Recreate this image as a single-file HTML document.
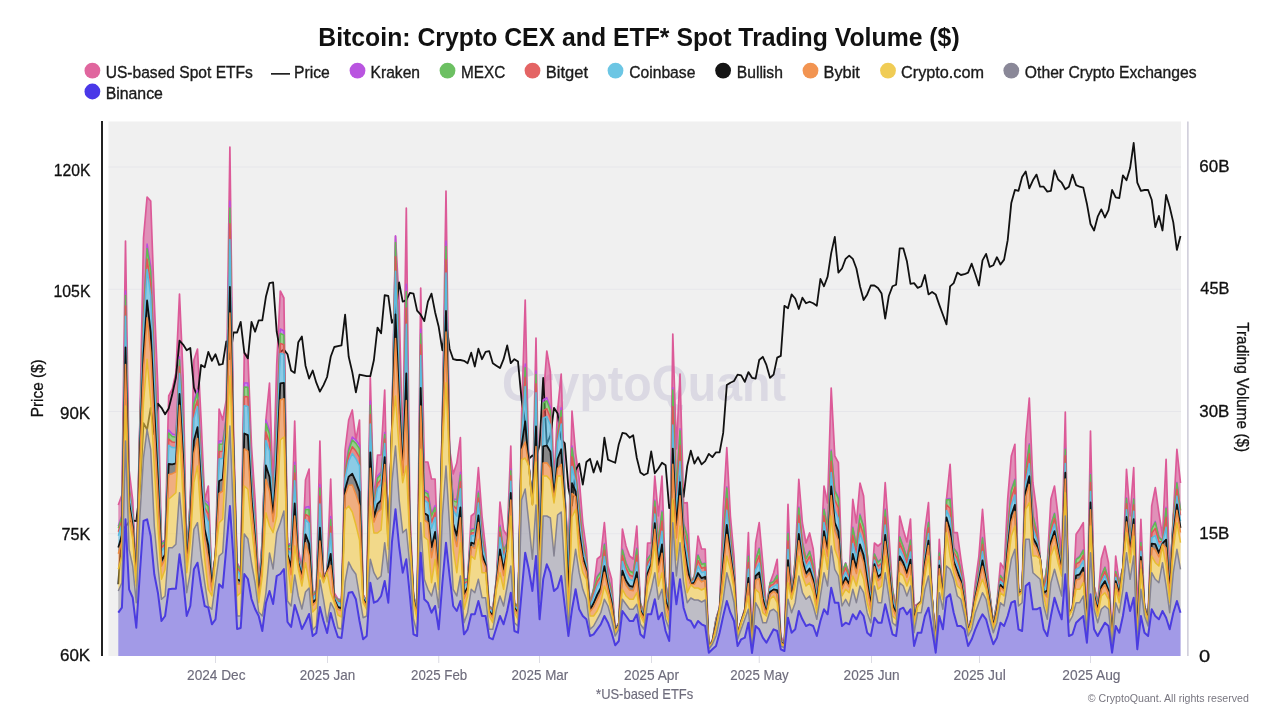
<!DOCTYPE html>
<html><head><meta charset="utf-8"><title>Bitcoin: Crypto CEX and ETF* Spot Trading Volume ($)</title>
<style>
html,body{margin:0;padding:0;background:#fff;width:1280px;height:720px;overflow:hidden}
svg{display:block}
text{font-family:"Liberation Sans",Arial,sans-serif}
</style></head><body>
<svg width="1280" height="720" viewBox="0 0 1280 720">
<rect x="108.5" y="121.5" width="1072.5" height="534.5" fill="#f0f0f0"/>
<rect x="108.5" y="166.5" width="1072.5" height="1" fill="#e6e6ea"/>
<rect x="108.5" y="288.75" width="1072.5" height="1" fill="#e6e6ea"/>
<rect x="108.5" y="411.0" width="1072.5" height="1" fill="#e6e6ea"/>
<rect x="108.5" y="533.25" width="1072.5" height="1" fill="#e6e6ea"/>
<text x="501.89" y="401.0" font-size="50" font-weight="bold" fill="#dbd9e3" textLength="284.12" lengthAdjust="spacingAndGlyphs">CryptoQuant</text>
<path d="M118.3,505.0 L121.9,495.0 L125.5,241.0 L129.1,470.0 L132.7,500.0 L136.3,576.0 L139.9,420.0 L143.5,238.0 L147.1,197.0 L150.7,201.0 L154.3,302.0 L157.9,389.0 L161.5,543.0 L165.1,540.0 L168.7,396.0 L172.3,389.0 L175.9,373.0 L179.5,294.0 L183.1,376.0 L186.7,555.0 L190.3,500.0 L193.9,360.0 L197.5,349.0 L201.1,420.0 L204.7,500.0 L208.3,486.0 L211.9,580.0 L215.5,554.0 L219.1,409.0 L222.7,420.0 L226.3,400.0 L229.9,147.0 L233.5,430.0 L237.1,563.0 L240.7,570.0 L244.3,353.0 L247.9,356.0 L251.5,446.0 L255.1,500.0 L258.7,583.0 L262.3,540.0 L265.9,420.0 L269.5,383.0 L273.1,487.0 L276.7,365.0 L280.3,291.0 L283.9,298.0 L287.5,546.0 L291.1,543.0 L294.7,421.0 L298.3,549.0 L301.9,569.0 L305.5,480.0 L309.1,469.0 L312.7,594.0 L316.3,590.0 L319.9,441.0 L323.5,576.0 L327.1,570.7 L330.7,479.0 L334.3,593.0 L337.9,599.0 L341.5,600.0 L345.1,450.0 L348.7,420.0 L352.3,410.0 L355.9,440.0 L359.5,420.0 L363.1,594.7 L366.7,601.3 L370.3,377.5 L373.9,503.0 L377.5,455.0 L381.1,455.0 L384.7,390.0 L388.3,541.3 L391.9,424.7 L395.5,236.0 L399.1,302.0 L402.7,452.7 L406.3,208.0 L409.9,512.7 L413.5,594.7 L417.1,611.3 L420.7,288.0 L424.3,462.0 L427.9,462.0 L431.5,479.0 L435.1,479.0 L438.7,573.0 L442.4,416.0 L446.0,191.0 L449.6,449.0 L453.2,474.0 L456.8,463.0 L460.4,437.7 L464.0,579.0 L467.6,579.0 L471.2,516.0 L474.8,513.0 L478.4,467.7 L482.0,516.0 L485.6,549.0 L489.2,606.0 L492.8,609.0 L496.4,579.0 L500.0,502.0 L503.6,530.0 L507.2,536.0 L510.8,446.0 L514.4,603.0 L518.0,606.0 L521.6,416.0 L525.2,300.0 L528.8,464.0 L532.4,503.0 L536.0,338.0 L539.6,550.0 L543.2,400.0 L546.8,351.0 L550.4,372.0 L554.0,482.0 L557.6,410.0 L561.2,374.0 L564.8,493.0 L568.4,556.0 L572.0,411.0 L575.6,453.0 L579.2,479.0 L582.8,523.0 L586.4,549.0 L590.0,603.0 L593.6,589.0 L597.2,559.0 L600.8,556.0 L604.4,522.7 L608.0,566.0 L611.6,579.0 L615.2,629.0 L618.8,623.0 L622.4,529.0 L626.0,546.0 L629.6,556.0 L633.2,559.0 L636.8,526.0 L640.4,603.0 L644.0,613.0 L647.6,543.0 L651.2,543.0 L654.8,476.0 L658.4,516.0 L662.0,476.0 L665.6,583.0 L669.2,603.0 L672.8,334.0 L676.4,449.0 L680.0,374.0 L683.6,503.0 L687.2,502.7 L690.8,583.0 L694.4,576.0 L698.0,536.0 L701.6,549.0 L705.2,549.0 L708.8,645.7 L712.4,640.7 L716.0,619.0 L719.6,607.3 L723.2,509.0 L726.8,447.7 L730.4,516.0 L734.0,556.0 L737.6,633.0 L741.2,620.7 L744.8,609.0 L748.4,532.7 L752.0,646.0 L755.6,543.0 L759.2,522.7 L762.8,563.0 L766.4,609.0 L770.0,583.0 L773.6,573.0 L777.2,559.3 L780.8,636.0 L784.4,644.0 L788.0,504.3 L791.6,596.0 L795.2,560.0 L798.8,479.3 L802.4,523.0 L806.0,543.0 L809.6,533.0 L813.2,549.0 L816.8,589.0 L820.4,563.0 L824.0,486.0 L827.6,503.0 L831.2,388.0 L834.8,456.0 L838.4,462.7 L842.0,573.0 L845.6,563.0 L849.2,575.0 L852.8,499.3 L856.4,523.0 L860.0,483.0 L863.6,496.0 L867.2,553.0 L870.8,593.0 L874.4,543.0 L878.0,546.0 L881.6,543.0 L885.2,482.7 L888.8,533.0 L892.5,589.0 L896.1,609.0 L899.7,516.0 L903.3,530.0 L906.9,542.0 L910.5,519.0 L914.1,606.0 L917.7,604.0 L921.3,600.7 L924.9,530.0 L928.5,502.7 L932.1,597.3 L935.7,644.0 L939.3,539.3 L942.9,597.3 L946.5,499.0 L950.1,464.3 L953.7,532.7 L957.3,532.7 L960.9,559.0 L964.5,583.0 L968.1,630.7 L971.7,616.0 L975.3,583.0 L978.9,556.0 L982.5,509.3 L986.1,556.0 L989.7,593.0 L993.3,623.0 L996.9,603.0 L1000.5,563.0 L1004.1,569.0 L1007.7,499.0 L1011.3,456.0 L1014.9,444.3 L1018.5,589.0 L1022.1,590.7 L1025.7,439.0 L1029.3,398.0 L1032.9,482.7 L1036.5,509.3 L1040.1,557.3 L1043.7,589.0 L1047.3,563.0 L1050.9,499.0 L1054.5,486.0 L1058.1,516.0 L1061.7,556.0 L1065.3,412.0 L1068.9,614.0 L1072.5,607.3 L1076.1,534.3 L1079.7,529.0 L1083.3,522.7 L1086.9,627.3 L1090.5,431.0 L1094.1,586.0 L1097.7,603.0 L1101.3,559.0 L1104.9,546.0 L1108.5,563.0 L1112.1,640.7 L1115.7,556.0 L1119.3,583.0 L1122.9,567.3 L1126.5,469.3 L1130.1,516.0 L1133.7,467.7 L1137.3,616.0 L1140.9,519.3 L1144.5,606.0 L1148.1,616.0 L1151.7,506.0 L1155.3,487.7 L1158.9,513.0 L1162.5,536.0 L1166.1,459.3 L1169.7,579.0 L1173.3,516.0 L1176.9,449.3 L1180.5,483.0 L1180.5,509.8 L1176.9,482.3 L1173.3,516.0 L1169.7,579.0 L1166.1,507.3 L1162.5,540.5 L1158.9,536.9 L1155.3,521.4 L1151.7,528.5 L1148.1,616.0 L1144.5,606.0 L1140.9,541.8 L1137.3,628.0 L1133.7,498.4 L1130.1,537.0 L1126.5,497.8 L1122.9,567.3 L1119.3,583.0 L1115.7,571.0 L1112.1,640.7 L1108.5,579.4 L1104.9,567.0 L1101.3,575.6 L1097.7,603.0 L1094.1,586.0 L1090.5,473.8 L1086.9,627.3 L1083.3,549.7 L1079.7,556.1 L1076.1,559.1 L1072.5,607.3 L1068.9,614.0 L1065.3,448.3 L1061.7,565.0 L1058.1,537.0 L1054.5,513.0 L1050.9,524.6 L1047.3,563.0 L1043.7,589.0 L1040.1,557.3 L1036.5,530.0 L1032.9,515.0 L1029.3,443.8 L1025.7,469.6 L1022.1,590.7 L1018.5,589.0 L1014.9,479.1 L1011.3,489.8 L1007.7,527.1 L1004.1,580.3 L1000.5,575.3 L996.9,603.0 L993.3,623.0 L989.7,593.0 L986.1,569.4 L982.5,537.2 L978.9,569.2 L975.3,590.7 L971.7,616.0 L968.1,630.7 L964.5,593.1 L960.9,570.6 L957.3,552.8 L953.7,547.7 L950.1,498.4 L946.5,499.0 L942.9,597.3 L939.3,552.6 L935.7,644.0 L932.1,597.3 L928.5,521.9 L924.9,546.6 L921.3,600.7 L917.7,604.0 L914.1,613.2 L910.5,539.5 L906.9,557.8 L903.3,546.6 L899.7,536.4 L896.1,609.0 L892.5,589.0 L888.8,550.9 L885.2,509.1 L881.6,558.5 L878.0,561.6 L874.4,553.7 L870.8,593.0 L867.2,553.0 L863.6,526.0 L860.0,514.1 L856.4,545.7 L852.8,526.9 L849.2,575.0 L845.6,563.0 L842.0,573.0 L838.4,497.5 L834.8,489.6 L831.2,450.0 L827.6,526.9 L824.0,508.8 L820.4,563.0 L816.8,589.0 L813.2,564.7 L809.6,550.9 L806.0,558.5 L802.4,542.1 L798.8,506.9 L795.2,560.0 L791.6,596.0 L788.0,532.5 L784.4,644.0 L780.8,639.0 L777.2,574.9 L773.6,581.3 L770.0,583.0 L766.4,609.0 L762.8,580.9 L759.2,547.9 L755.6,559.7 L752.0,647.3 L748.4,555.5 L744.8,609.0 L741.2,620.7 L737.6,634.0 L734.0,568.0 L730.4,535.2 L726.8,486.7 L723.2,536.7 L719.6,607.3 L716.0,619.0 L712.4,640.7 L708.8,645.7 L705.2,563.0 L701.6,563.8 L698.0,554.7 L694.4,576.0 L690.8,583.0 L687.2,535.1 L683.6,523.3 L680.0,428.7 L676.4,489.0 L672.8,387.7 L669.2,603.0 L665.6,583.0 L662.0,510.8 L658.4,541.2 L654.8,500.0 L651.2,553.7 L647.6,558.5 L644.0,613.0 L640.4,603.0 L636.8,548.0 L633.2,572.3 L629.6,570.3 L626.0,562.5 L622.4,548.9 L618.8,623.0 L615.2,629.0 L611.6,590.1 L608.0,575.9 L604.4,543.6 L600.8,571.4 L597.2,576.2 L593.6,589.0 L590.0,603.0 L586.4,559.0 L582.8,539.4 L579.2,504.4 L575.6,471.6 L572.0,446.0 L568.4,556.0 L564.8,493.0 L561.2,407.7 L557.6,431.8 L554.0,488.9 L550.4,407.6 L546.8,397.7 L543.2,400.0 L539.6,550.0 L536.0,371.0 L532.4,503.0 L528.8,464.0 L525.2,364.0 L521.6,430.5 L518.0,606.0 L514.4,603.0 L510.8,469.1 L507.2,542.6 L503.6,549.6 L500.0,525.3 L496.4,579.0 L492.8,609.0 L489.2,606.0 L485.6,556.8 L482.0,534.7 L478.4,491.3 L474.8,528.3 L471.2,529.2 L467.6,579.0 L464.0,579.0 L460.4,472.3 L456.8,499.2 L453.2,498.9 L449.6,454.6 L446.0,241.0 L442.4,416.0 L438.7,573.0 L435.1,505.5 L431.5,513.2 L427.9,492.0 L424.3,490.0 L420.7,329.0 L417.1,611.3 L413.5,594.7 L409.9,522.6 L406.3,284.3 L402.7,462.6 L399.1,350.6 L395.5,236.0 L391.9,424.7 L388.3,541.3 L384.7,432.5 L381.1,472.0 L377.5,476.0 L373.9,503.0 L370.3,401.0 L366.7,601.3 L363.1,594.7 L359.5,445.0 L355.9,440.0 L352.3,437.0 L348.7,448.4 L345.1,469.8 L341.5,600.0 L337.9,599.0 L334.3,596.2 L330.7,516.5 L327.1,570.7 L323.5,578.2 L319.9,484.4 L316.3,590.0 L312.7,594.0 L309.1,506.5 L305.5,507.3 L301.9,569.0 L298.3,555.7 L294.7,462.2 L291.1,543.0 L287.5,546.0 L283.9,331.0 L280.3,329.0 L276.7,414.8 L273.1,502.1 L269.5,430.2 L265.9,420.0 L262.3,540.0 L258.7,589.5 L255.1,519.6 L251.5,472.4 L247.9,383.0 L244.3,383.0 L240.7,570.0 L237.1,563.0 L233.5,441.9 L229.9,201.0 L226.3,416.3 L222.7,441.0 L219.1,441.0 L215.5,554.0 L211.9,580.0 L208.3,503.0 L204.7,500.0 L201.1,452.8 L197.5,390.0 L193.9,400.5 L190.3,500.0 L186.7,555.0 L183.1,416.7 L179.5,356.7 L175.9,435.0 L172.3,434.0 L168.7,430.1 L165.1,540.0 L161.5,543.0 L157.9,434.2 L154.3,356.1 L150.7,266.0 L147.1,244.0 L143.5,309.0 L139.9,420.0 L136.3,576.0 L132.7,513.0 L129.1,486.3 L125.5,291.0 L121.9,515.1 L118.3,526.2Z" fill="#d55093" fill-opacity="0.6" stroke="none"/>
<path d="M118.3,505.0 L121.9,495.0 L125.5,241.0 L129.1,470.0 L132.7,500.0 L136.3,576.0 L139.9,420.0 L143.5,238.0 L147.1,197.0 L150.7,201.0 L154.3,302.0 L157.9,389.0 L161.5,543.0 L165.1,540.0 L168.7,396.0 L172.3,389.0 L175.9,373.0 L179.5,294.0 L183.1,376.0 L186.7,555.0 L190.3,500.0 L193.9,360.0 L197.5,349.0 L201.1,420.0 L204.7,500.0 L208.3,486.0 L211.9,580.0 L215.5,554.0 L219.1,409.0 L222.7,420.0 L226.3,400.0 L229.9,147.0 L233.5,430.0 L237.1,563.0 L240.7,570.0 L244.3,353.0 L247.9,356.0 L251.5,446.0 L255.1,500.0 L258.7,583.0 L262.3,540.0 L265.9,420.0 L269.5,383.0 L273.1,487.0 L276.7,365.0 L280.3,291.0 L283.9,298.0 L287.5,546.0 L291.1,543.0 L294.7,421.0 L298.3,549.0 L301.9,569.0 L305.5,480.0 L309.1,469.0 L312.7,594.0 L316.3,590.0 L319.9,441.0 L323.5,576.0 L327.1,570.7 L330.7,479.0 L334.3,593.0 L337.9,599.0 L341.5,600.0 L345.1,450.0 L348.7,420.0 L352.3,410.0 L355.9,440.0 L359.5,420.0 L363.1,594.7 L366.7,601.3 L370.3,377.5 L373.9,503.0 L377.5,455.0 L381.1,455.0 L384.7,390.0 L388.3,541.3 L391.9,424.7 L395.5,236.0 L399.1,302.0 L402.7,452.7 L406.3,208.0 L409.9,512.7 L413.5,594.7 L417.1,611.3 L420.7,288.0 L424.3,462.0 L427.9,462.0 L431.5,479.0 L435.1,479.0 L438.7,573.0 L442.4,416.0 L446.0,191.0 L449.6,449.0 L453.2,474.0 L456.8,463.0 L460.4,437.7 L464.0,579.0 L467.6,579.0 L471.2,516.0 L474.8,513.0 L478.4,467.7 L482.0,516.0 L485.6,549.0 L489.2,606.0 L492.8,609.0 L496.4,579.0 L500.0,502.0 L503.6,530.0 L507.2,536.0 L510.8,446.0 L514.4,603.0 L518.0,606.0 L521.6,416.0 L525.2,300.0 L528.8,464.0 L532.4,503.0 L536.0,338.0 L539.6,550.0 L543.2,400.0 L546.8,351.0 L550.4,372.0 L554.0,482.0 L557.6,410.0 L561.2,374.0 L564.8,493.0 L568.4,556.0 L572.0,411.0 L575.6,453.0 L579.2,479.0 L582.8,523.0 L586.4,549.0 L590.0,603.0 L593.6,589.0 L597.2,559.0 L600.8,556.0 L604.4,522.7 L608.0,566.0 L611.6,579.0 L615.2,629.0 L618.8,623.0 L622.4,529.0 L626.0,546.0 L629.6,556.0 L633.2,559.0 L636.8,526.0 L640.4,603.0 L644.0,613.0 L647.6,543.0 L651.2,543.0 L654.8,476.0 L658.4,516.0 L662.0,476.0 L665.6,583.0 L669.2,603.0 L672.8,334.0 L676.4,449.0 L680.0,374.0 L683.6,503.0 L687.2,502.7 L690.8,583.0 L694.4,576.0 L698.0,536.0 L701.6,549.0 L705.2,549.0 L708.8,645.7 L712.4,640.7 L716.0,619.0 L719.6,607.3 L723.2,509.0 L726.8,447.7 L730.4,516.0 L734.0,556.0 L737.6,633.0 L741.2,620.7 L744.8,609.0 L748.4,532.7 L752.0,646.0 L755.6,543.0 L759.2,522.7 L762.8,563.0 L766.4,609.0 L770.0,583.0 L773.6,573.0 L777.2,559.3 L780.8,636.0 L784.4,644.0 L788.0,504.3 L791.6,596.0 L795.2,560.0 L798.8,479.3 L802.4,523.0 L806.0,543.0 L809.6,533.0 L813.2,549.0 L816.8,589.0 L820.4,563.0 L824.0,486.0 L827.6,503.0 L831.2,388.0 L834.8,456.0 L838.4,462.7 L842.0,573.0 L845.6,563.0 L849.2,575.0 L852.8,499.3 L856.4,523.0 L860.0,483.0 L863.6,496.0 L867.2,553.0 L870.8,593.0 L874.4,543.0 L878.0,546.0 L881.6,543.0 L885.2,482.7 L888.8,533.0 L892.5,589.0 L896.1,609.0 L899.7,516.0 L903.3,530.0 L906.9,542.0 L910.5,519.0 L914.1,606.0 L917.7,604.0 L921.3,600.7 L924.9,530.0 L928.5,502.7 L932.1,597.3 L935.7,644.0 L939.3,539.3 L942.9,597.3 L946.5,499.0 L950.1,464.3 L953.7,532.7 L957.3,532.7 L960.9,559.0 L964.5,583.0 L968.1,630.7 L971.7,616.0 L975.3,583.0 L978.9,556.0 L982.5,509.3 L986.1,556.0 L989.7,593.0 L993.3,623.0 L996.9,603.0 L1000.5,563.0 L1004.1,569.0 L1007.7,499.0 L1011.3,456.0 L1014.9,444.3 L1018.5,589.0 L1022.1,590.7 L1025.7,439.0 L1029.3,398.0 L1032.9,482.7 L1036.5,509.3 L1040.1,557.3 L1043.7,589.0 L1047.3,563.0 L1050.9,499.0 L1054.5,486.0 L1058.1,516.0 L1061.7,556.0 L1065.3,412.0 L1068.9,614.0 L1072.5,607.3 L1076.1,534.3 L1079.7,529.0 L1083.3,522.7 L1086.9,627.3 L1090.5,431.0 L1094.1,586.0 L1097.7,603.0 L1101.3,559.0 L1104.9,546.0 L1108.5,563.0 L1112.1,640.7 L1115.7,556.0 L1119.3,583.0 L1122.9,567.3 L1126.5,469.3 L1130.1,516.0 L1133.7,467.7 L1137.3,616.0 L1140.9,519.3 L1144.5,606.0 L1148.1,616.0 L1151.7,506.0 L1155.3,487.7 L1158.9,513.0 L1162.5,536.0 L1166.1,459.3 L1169.7,579.0 L1173.3,516.0 L1176.9,449.3 L1180.5,483.0" fill="none" stroke="#dc5a98" stroke-width="1.7" stroke-linejoin="round"/>
<path d="M118.3,584.3 L121.9,529.2 L125.5,526.8 L129.1,521.9 L132.7,520.3 L136.3,521.1 L139.9,490.3 L143.5,423.1 L147.1,429.6 L150.7,407.8 L154.3,434.5 L157.9,403.7 L161.5,407.8 L165.1,414.2 L168.7,408.6 L172.3,394.0 L175.9,377.8 L179.5,340.6 L183.1,344.6 L186.7,350.3 L190.3,347.9 L193.9,387.5 L197.5,397.2 L201.1,364.9 L204.7,367.3 L208.3,351.9 L211.9,360.8 L215.5,354.3 L219.1,364.9 L222.7,364.0 L226.3,341.4 L229.9,359.2 L233.5,332.5 L237.1,332.5 L240.7,321.9 L244.3,352.7 L247.9,358.4 L251.5,321.9 L255.1,331.7 L258.7,320.3 L262.3,320.3 L265.9,296.8 L269.5,283.1 L273.1,282.3 L276.7,331.7 L280.3,351.9 L283.9,349.5 L287.5,354.3 L291.1,370.5 L294.7,372.9 L298.3,342.2 L301.9,336.5 L305.5,365.7 L309.1,378.6 L312.7,370.5 L316.3,382.7 L319.9,391.6 L323.5,385.1 L327.1,377.0 L330.7,356.8 L334.3,347.0 L337.9,346.2 L341.5,345.4 L345.1,314.7 L348.7,356.8 L352.3,372.1 L355.9,392.4 L359.5,374.6 L363.1,375.4 L366.7,376.2 L370.3,376.2 L373.9,360.0 L377.5,327.6 L381.1,333.3 L384.7,295.2 L388.3,296.0 L391.9,322.8 L395.5,315.5 L399.1,282.3 L402.7,301.7 L406.3,300.1 L409.9,292.8 L413.5,293.6 L417.1,310.6 L420.7,314.7 L424.3,321.1 L427.9,301.7 L431.5,293.6 L435.1,312.2 L438.7,326.8 L442.4,350.3 L446.0,320.3 L449.6,348.7 L453.2,359.2 L456.8,360.0 L460.4,360.0 L464.0,360.8 L467.6,363.2 L471.2,352.7 L474.8,366.5 L478.4,348.7 L482.0,359.2 L485.6,351.9 L489.2,351.1 L492.8,363.2 L496.4,365.7 L500.0,368.1 L503.6,359.2 L507.2,345.4 L510.8,363.2 L514.4,359.2 L518.0,361.6 L521.6,399.7 L525.2,423.1 L528.8,458.8 L532.4,455.5 L536.0,458.0 L539.6,445.0 L543.2,377.8 L546.8,444.2 L550.4,435.3 L554.0,407.8 L557.6,413.4 L561.2,439.3 L564.8,443.4 L568.4,487.9 L572.0,505.7 L575.6,470.1 L579.2,463.6 L582.8,484.7 L586.4,462.0 L590.0,458.8 L593.6,472.5 L597.2,461.2 L600.8,471.7 L604.4,437.7 L608.0,459.6 L611.6,461.2 L615.2,462.8 L618.8,444.2 L622.4,432.9 L626.0,433.7 L629.6,437.7 L633.2,435.3 L636.8,458.0 L640.4,472.5 L644.0,475.0 L647.6,473.3 L651.2,451.5 L654.8,473.3 L658.4,468.5 L662.0,462.8 L665.6,465.2 L669.2,508.2 L672.8,500.1 L676.4,523.5 L680.0,472.5 L683.6,496.8 L687.2,466.1 L690.8,450.7 L694.4,463.6 L698.0,457.1 L701.6,464.4 L705.2,461.2 L708.8,453.9 L712.4,457.1 L716.0,452.3 L719.6,452.3 L723.2,432.9 L726.8,385.1 L730.4,382.7 L734.0,381.0 L737.6,374.6 L741.2,375.4 L744.8,381.9 L748.4,372.1 L752.0,377.8 L755.6,378.6 L759.2,360.0 L762.8,356.8 L766.4,364.9 L770.0,377.8 L773.6,374.6 L777.2,357.6 L780.8,355.9 L784.4,305.8 L788.0,308.2 L791.6,294.4 L795.2,298.5 L798.8,309.0 L802.4,297.7 L806.0,303.3 L809.6,301.7 L813.2,303.3 L816.8,305.8 L820.4,279.0 L824.0,286.3 L827.6,276.6 L831.2,253.1 L834.8,236.9 L838.4,272.6 L842.0,268.5 L845.6,258.8 L849.2,255.6 L852.8,258.8 L856.4,268.5 L860.0,286.3 L863.6,300.1 L867.2,294.4 L870.8,285.5 L874.4,285.5 L878.0,287.9 L881.6,293.6 L885.2,318.7 L888.8,296.0 L892.5,286.3 L896.1,284.7 L899.7,248.3 L903.3,248.3 L906.9,261.2 L910.5,283.9 L914.1,283.1 L917.7,287.9 L921.3,286.3 L924.9,275.0 L928.5,294.4 L932.1,292.0 L935.7,294.4 L939.3,304.9 L942.9,314.7 L946.5,324.4 L950.1,286.3 L953.7,283.1 L957.3,272.6 L960.9,275.0 L964.5,274.2 L968.1,272.6 L971.7,263.7 L975.3,274.2 L978.9,285.5 L982.5,260.4 L986.1,253.9 L989.7,266.9 L993.3,265.3 L996.9,257.2 L1000.5,264.5 L1004.1,259.6 L1007.7,240.2 L1011.3,202.9 L1014.9,190.0 L1018.5,190.8 L1022.1,177.0 L1025.7,171.4 L1029.3,188.4 L1032.9,180.3 L1036.5,174.6 L1040.1,186.7 L1043.7,186.7 L1047.3,191.6 L1050.9,190.8 L1054.5,170.5 L1058.1,179.5 L1061.7,182.7 L1065.3,189.2 L1068.9,186.7 L1072.5,174.6 L1076.1,185.1 L1079.7,186.7 L1083.3,187.6 L1086.9,203.7 L1090.5,224.0 L1094.1,230.5 L1097.7,216.7 L1101.3,209.4 L1104.9,217.5 L1108.5,210.2 L1112.1,190.0 L1115.7,197.3 L1119.3,198.1 L1122.9,175.4 L1126.5,180.3 L1130.1,168.1 L1133.7,143.0 L1137.3,182.7 L1140.9,190.8 L1144.5,190.0 L1148.1,190.0 L1151.7,199.7 L1155.3,227.2 L1158.9,215.9 L1162.5,230.5 L1166.1,194.8 L1169.7,207.0 L1173.3,222.4 L1176.9,249.9 L1180.5,236.1" fill="none" stroke="#111" stroke-width="1.8" stroke-linejoin="round"/>
<path d="M118.3,526.2 L121.9,515.1 L125.5,291.0 L129.1,486.3 L132.7,513.0 L136.3,576.0 L139.9,420.0 L143.5,309.0 L147.1,244.0 L150.7,266.0 L154.3,356.1 L157.9,434.2 L161.5,543.0 L165.1,540.0 L168.7,430.1 L172.3,434.0 L175.9,435.0 L179.5,356.7 L183.1,416.7 L186.7,555.0 L190.3,500.0 L193.9,400.5 L197.5,390.0 L201.1,452.8 L204.7,500.0 L208.3,503.0 L211.9,580.0 L215.5,554.0 L219.1,441.0 L222.7,441.0 L226.3,416.3 L229.9,201.0 L233.5,441.9 L237.1,563.0 L240.7,570.0 L244.3,383.0 L247.9,383.0 L251.5,472.4 L255.1,519.6 L258.7,589.5 L262.3,540.0 L265.9,420.0 L269.5,430.2 L273.1,502.1 L276.7,414.8 L280.3,329.0 L283.9,331.0 L287.5,546.0 L291.1,543.0 L294.7,462.2 L298.3,555.7 L301.9,569.0 L305.5,507.3 L309.1,506.5 L312.7,594.0 L316.3,590.0 L319.9,484.4 L323.5,578.2 L327.1,570.7 L330.7,516.5 L334.3,596.2 L337.9,599.0 L341.5,600.0 L345.1,469.8 L348.7,448.4 L352.3,437.0 L355.9,440.0 L359.5,445.0 L363.1,594.7 L366.7,601.3 L370.3,401.0 L373.9,503.0 L377.5,476.0 L381.1,472.0 L384.7,432.5 L388.3,541.3 L391.9,424.7 L395.5,236.0 L399.1,350.6 L402.7,462.6 L406.3,284.3 L409.9,522.6 L413.5,594.7 L417.1,611.3 L420.7,329.0 L424.3,490.0 L427.9,492.0 L431.5,513.2 L435.1,505.5 L438.7,573.0 L442.4,416.0 L446.0,241.0 L449.6,454.6 L453.2,498.9 L456.8,499.2 L460.4,472.3 L464.0,579.0 L467.6,579.0 L471.2,529.2 L474.8,528.3 L478.4,491.3 L482.0,534.7 L485.6,556.8 L489.2,606.0 L492.8,609.0 L496.4,579.0 L500.0,525.3 L503.6,549.6 L507.2,542.6 L510.8,469.1 L514.4,603.0 L518.0,606.0 L521.6,430.5 L525.2,364.0 L528.8,464.0 L532.4,503.0 L536.0,371.0 L539.6,550.0 L543.2,400.0 L546.8,397.7 L550.4,407.6 L554.0,488.9 L557.6,431.8 L561.2,407.7 L564.8,493.0 L568.4,556.0 L572.0,446.0 L575.6,471.6 L579.2,504.4 L582.8,539.4 L586.4,559.0 L590.0,603.0 L593.6,589.0 L597.2,576.2 L600.8,571.4 L604.4,543.6 L608.0,575.9 L611.6,590.1 L615.2,629.0 L618.8,623.0 L622.4,548.9 L626.0,562.5 L629.6,570.3 L633.2,572.3 L636.8,548.0 L640.4,603.0 L644.0,613.0 L647.6,558.5 L651.2,553.7 L654.8,500.0 L658.4,541.2 L662.0,510.8 L665.6,583.0 L669.2,603.0 L672.8,387.7 L676.4,489.0 L680.0,428.7 L683.6,523.3 L687.2,535.1 L690.8,583.0 L694.4,576.0 L698.0,554.7 L701.6,563.8 L705.2,563.0 L708.8,645.7 L712.4,640.7 L716.0,619.0 L719.6,607.3 L723.2,536.7 L726.8,486.7 L730.4,535.2 L734.0,568.0 L737.6,634.0 L741.2,620.7 L744.8,609.0 L748.4,555.5 L752.0,647.3 L755.6,559.7 L759.2,547.9 L762.8,580.9 L766.4,609.0 L770.0,583.0 L773.6,581.3 L777.2,574.9 L780.8,639.0 L784.4,644.0 L788.0,532.5 L791.6,596.0 L795.2,560.0 L798.8,506.9 L802.4,542.1 L806.0,558.5 L809.6,550.9 L813.2,564.7 L816.8,589.0 L820.4,563.0 L824.0,508.8 L827.6,526.9 L831.2,450.0 L834.8,489.6 L838.4,497.5 L842.0,573.0 L845.6,563.0 L849.2,575.0 L852.8,526.9 L856.4,545.7 L860.0,514.1 L863.6,526.0 L867.2,553.0 L870.8,593.0 L874.4,553.7 L878.0,561.6 L881.6,558.5 L885.2,509.1 L888.8,550.9 L892.5,589.0 L896.1,609.0 L899.7,536.4 L903.3,546.6 L906.9,557.8 L910.5,539.5 L914.1,613.2 L917.7,604.0 L921.3,600.7 L924.9,546.6 L928.5,521.9 L932.1,597.3 L935.7,644.0 L939.3,552.6 L942.9,597.3 L946.5,499.0 L950.1,498.4 L953.7,547.7 L957.3,552.8 L960.9,570.6 L964.5,593.1 L968.1,630.7 L971.7,616.0 L975.3,590.7 L978.9,569.2 L982.5,537.2 L986.1,569.4 L989.7,593.0 L993.3,623.0 L996.9,603.0 L1000.5,575.3 L1004.1,580.3 L1007.7,527.1 L1011.3,489.8 L1014.9,479.1 L1018.5,589.0 L1022.1,590.7 L1025.7,469.6 L1029.3,443.8 L1032.9,515.0 L1036.5,530.0 L1040.1,557.3 L1043.7,589.0 L1047.3,563.0 L1050.9,524.6 L1054.5,513.0 L1058.1,537.0 L1061.7,565.0 L1065.3,448.3 L1068.9,614.0 L1072.5,607.3 L1076.1,559.1 L1079.7,556.1 L1083.3,549.7 L1086.9,627.3 L1090.5,473.8 L1094.1,586.0 L1097.7,603.0 L1101.3,575.6 L1104.9,567.0 L1108.5,579.4 L1112.1,640.7 L1115.7,571.0 L1119.3,583.0 L1122.9,567.3 L1126.5,497.8 L1130.1,537.0 L1133.7,498.4 L1137.3,628.0 L1140.9,541.8 L1144.5,606.0 L1148.1,616.0 L1151.7,528.5 L1155.3,521.4 L1158.9,536.9 L1162.5,540.5 L1166.1,507.3 L1169.7,579.0 L1173.3,516.0 L1176.9,482.3 L1180.5,509.8 L1180.5,510.5 L1176.9,483.1 L1173.3,516.7 L1169.7,579.5 L1166.1,508.5 L1162.5,540.6 L1158.9,537.4 L1155.3,522.3 L1151.7,529.0 L1148.1,616.1 L1144.5,606.1 L1140.9,542.4 L1137.3,628.3 L1133.7,499.2 L1130.1,537.5 L1126.5,498.5 L1122.9,567.4 L1119.3,583.4 L1115.7,571.4 L1112.1,640.7 L1108.5,579.7 L1104.9,567.5 L1101.3,576.1 L1097.7,603.3 L1094.1,586.3 L1090.5,474.8 L1086.9,627.4 L1083.3,550.3 L1079.7,556.8 L1076.1,559.7 L1072.5,607.4 L1068.9,614.0 L1065.3,449.2 L1061.7,565.2 L1058.1,537.5 L1054.5,513.7 L1050.9,525.3 L1047.3,564.0 L1043.7,589.1 L1040.1,557.4 L1036.5,530.6 L1032.9,515.8 L1029.3,445.0 L1025.7,470.4 L1022.1,590.7 L1018.5,589.1 L1014.9,480.0 L1011.3,490.8 L1007.7,527.9 L1004.1,580.6 L1000.5,575.6 L996.9,603.3 L993.3,623.1 L989.7,593.3 L986.1,569.8 L982.5,538.1 L978.9,569.6 L975.3,591.0 L971.7,616.1 L968.1,630.7 L964.5,593.4 L960.9,570.9 L957.3,553.5 L953.7,548.2 L950.1,499.6 L946.5,499.7 L942.9,597.4 L939.3,553.1 L935.7,644.0 L932.1,597.4 L928.5,522.6 L924.9,547.1 L921.3,600.7 L917.7,604.0 L914.1,613.5 L910.5,540.2 L906.9,558.4 L903.3,547.1 L899.7,537.1 L896.1,609.2 L892.5,589.5 L888.8,551.5 L885.2,510.0 L881.6,559.0 L878.0,562.2 L874.4,554.1 L870.8,593.5 L867.2,554.0 L863.6,527.1 L860.0,515.2 L856.4,546.5 L852.8,527.9 L849.2,575.4 L845.6,563.5 L842.0,573.5 L838.4,498.7 L834.8,490.8 L831.2,451.3 L827.6,527.7 L824.0,509.6 L820.4,563.3 L816.8,589.5 L813.2,565.3 L809.6,551.5 L806.0,559.0 L802.4,542.8 L798.8,507.9 L795.2,560.5 L791.6,596.1 L788.0,533.5 L784.4,644.0 L780.8,639.1 L777.2,575.5 L773.6,581.6 L770.0,583.3 L766.4,609.1 L762.8,581.5 L759.2,548.8 L755.6,560.3 L752.0,647.3 L748.4,556.3 L744.8,609.1 L741.2,620.7 L737.6,634.0 L734.0,568.4 L730.4,535.9 L726.8,488.1 L723.2,537.7 L719.6,607.4 L716.0,619.2 L712.4,640.7 L708.8,645.7 L705.2,563.5 L701.6,564.3 L698.0,555.4 L694.4,576.2 L690.8,583.0 L687.2,536.2 L683.6,524.0 L680.0,430.7 L676.4,490.4 L672.8,390.0 L669.2,603.4 L665.6,583.6 L662.0,512.1 L658.4,542.2 L654.8,501.0 L651.2,554.1 L647.6,559.1 L644.0,613.2 L640.4,603.3 L636.8,549.1 L633.2,573.0 L629.6,571.0 L626.0,563.3 L622.4,549.9 L618.8,623.1 L615.2,629.1 L611.6,590.7 L608.0,576.4 L604.4,544.7 L600.8,572.2 L597.2,577.1 L593.6,589.7 L590.0,603.4 L586.4,559.6 L582.8,540.3 L579.2,505.9 L575.6,472.7 L572.0,448.0 L568.4,558.7 L564.8,493.8 L561.2,410.4 L557.6,433.5 L554.0,489.5 L550.4,410.5 L546.8,400.8 L543.2,403.0 L539.6,551.3 L536.0,374.6 L532.4,503.1 L528.8,464.1 L525.2,367.8 L521.6,431.5 L518.0,606.4 L514.4,603.3 L510.8,470.7 L507.2,543.1 L503.6,550.9 L500.0,527.0 L496.4,579.4 L492.8,609.5 L489.2,606.4 L485.6,557.4 L482.0,536.1 L478.4,493.1 L474.8,529.4 L471.2,530.2 L467.6,579.6 L464.0,580.1 L460.4,475.0 L456.8,502.0 L453.2,500.8 L449.6,455.0 L446.0,246.5 L442.4,417.3 L438.7,573.6 L435.1,507.6 L431.5,516.0 L427.9,493.9 L424.3,491.9 L420.7,333.8 L417.1,611.7 L413.5,595.0 L409.9,523.4 L406.3,291.6 L402.7,463.4 L399.1,354.6 L395.5,242.4 L391.9,425.0 L388.3,541.7 L384.7,434.5 L381.1,474.3 L377.5,478.3 L373.9,504.2 L370.3,405.2 L366.7,601.7 L363.1,595.0 L359.5,448.8 L355.9,443.4 L352.3,440.0 L348.7,450.7 L345.1,471.4 L341.5,600.7 L337.9,599.6 L334.3,596.4 L330.7,519.6 L327.1,570.7 L323.5,578.4 L319.9,488.0 L316.3,590.7 L312.7,594.7 L309.1,509.6 L305.5,509.5 L301.9,569.7 L298.3,556.3 L294.7,465.6 L291.1,545.0 L287.5,546.7 L283.9,335.2 L280.3,333.4 L276.7,418.9 L273.1,503.3 L269.5,434.0 L265.9,423.7 L262.3,541.4 L258.7,590.0 L255.1,521.2 L251.5,474.5 L247.9,387.3 L244.3,387.1 L240.7,570.9 L237.1,564.3 L233.5,442.8 L229.9,208.0 L226.3,417.6 L222.7,444.1 L219.1,444.3 L215.5,554.1 L211.9,580.6 L208.3,506.5 L204.7,502.4 L201.1,455.4 L197.5,393.0 L193.9,403.8 L190.3,501.7 L186.7,555.7 L183.1,420.0 L179.5,359.7 L175.9,437.3 L172.3,436.5 L168.7,432.9 L165.1,541.2 L161.5,544.5 L157.9,437.9 L154.3,360.5 L150.7,271.4 L147.1,248.6 L143.5,312.7 L139.9,422.5 L136.3,576.4 L132.7,514.0 L129.1,487.6 L125.5,295.6 L121.9,516.8 L118.3,528.0Z" fill="#ad49df" fill-opacity="0.6" stroke="none"/>
<path d="M118.3,526.2 L121.9,515.1 L125.5,291.0 L129.1,486.3 L132.7,513.0 L136.3,576.0 L139.9,420.0 L143.5,309.0 L147.1,244.0 L150.7,266.0 L154.3,356.1 L157.9,434.2 L161.5,543.0 L165.1,540.0 L168.7,430.1 L172.3,434.0 L175.9,435.0 L179.5,356.7 L183.1,416.7 L186.7,555.0 L190.3,500.0 L193.9,400.5 L197.5,390.0 L201.1,452.8 L204.7,500.0 L208.3,503.0 L211.9,580.0 L215.5,554.0 L219.1,441.0 L222.7,441.0 L226.3,416.3 L229.9,201.0 L233.5,441.9 L237.1,563.0 L240.7,570.0 L244.3,383.0 L247.9,383.0 L251.5,472.4 L255.1,519.6 L258.7,589.5 L262.3,540.0 L265.9,420.0 L269.5,430.2 L273.1,502.1 L276.7,414.8 L280.3,329.0 L283.9,331.0 L287.5,546.0 L291.1,543.0 L294.7,462.2 L298.3,555.7 L301.9,569.0 L305.5,507.3 L309.1,506.5 L312.7,594.0 L316.3,590.0 L319.9,484.4 L323.5,578.2 L327.1,570.7 L330.7,516.5 L334.3,596.2 L337.9,599.0 L341.5,600.0 L345.1,469.8 L348.7,448.4 L352.3,437.0 L355.9,440.0 L359.5,445.0 L363.1,594.7 L366.7,601.3 L370.3,401.0 L373.9,503.0 L377.5,476.0 L381.1,472.0 L384.7,432.5 L388.3,541.3 L391.9,424.7 L395.5,236.0 L399.1,350.6 L402.7,462.6 L406.3,284.3 L409.9,522.6 L413.5,594.7 L417.1,611.3 L420.7,329.0 L424.3,490.0 L427.9,492.0 L431.5,513.2 L435.1,505.5 L438.7,573.0 L442.4,416.0 L446.0,241.0 L449.6,454.6 L453.2,498.9 L456.8,499.2 L460.4,472.3 L464.0,579.0 L467.6,579.0 L471.2,529.2 L474.8,528.3 L478.4,491.3 L482.0,534.7 L485.6,556.8 L489.2,606.0 L492.8,609.0 L496.4,579.0 L500.0,525.3 L503.6,549.6 L507.2,542.6 L510.8,469.1 L514.4,603.0 L518.0,606.0 L521.6,430.5 L525.2,364.0 L528.8,464.0 L532.4,503.0 L536.0,371.0 L539.6,550.0 L543.2,400.0 L546.8,397.7 L550.4,407.6 L554.0,488.9 L557.6,431.8 L561.2,407.7 L564.8,493.0 L568.4,556.0 L572.0,446.0 L575.6,471.6 L579.2,504.4 L582.8,539.4 L586.4,559.0 L590.0,603.0 L593.6,589.0 L597.2,576.2 L600.8,571.4 L604.4,543.6 L608.0,575.9 L611.6,590.1 L615.2,629.0 L618.8,623.0 L622.4,548.9 L626.0,562.5 L629.6,570.3 L633.2,572.3 L636.8,548.0 L640.4,603.0 L644.0,613.0 L647.6,558.5 L651.2,553.7 L654.8,500.0 L658.4,541.2 L662.0,510.8 L665.6,583.0 L669.2,603.0 L672.8,387.7 L676.4,489.0 L680.0,428.7 L683.6,523.3 L687.2,535.1 L690.8,583.0 L694.4,576.0 L698.0,554.7 L701.6,563.8 L705.2,563.0 L708.8,645.7 L712.4,640.7 L716.0,619.0 L719.6,607.3 L723.2,536.7 L726.8,486.7 L730.4,535.2 L734.0,568.0 L737.6,634.0 L741.2,620.7 L744.8,609.0 L748.4,555.5 L752.0,647.3 L755.6,559.7 L759.2,547.9 L762.8,580.9 L766.4,609.0 L770.0,583.0 L773.6,581.3 L777.2,574.9 L780.8,639.0 L784.4,644.0 L788.0,532.5 L791.6,596.0 L795.2,560.0 L798.8,506.9 L802.4,542.1 L806.0,558.5 L809.6,550.9 L813.2,564.7 L816.8,589.0 L820.4,563.0 L824.0,508.8 L827.6,526.9 L831.2,450.0 L834.8,489.6 L838.4,497.5 L842.0,573.0 L845.6,563.0 L849.2,575.0 L852.8,526.9 L856.4,545.7 L860.0,514.1 L863.6,526.0 L867.2,553.0 L870.8,593.0 L874.4,553.7 L878.0,561.6 L881.6,558.5 L885.2,509.1 L888.8,550.9 L892.5,589.0 L896.1,609.0 L899.7,536.4 L903.3,546.6 L906.9,557.8 L910.5,539.5 L914.1,613.2 L917.7,604.0 L921.3,600.7 L924.9,546.6 L928.5,521.9 L932.1,597.3 L935.7,644.0 L939.3,552.6 L942.9,597.3 L946.5,499.0 L950.1,498.4 L953.7,547.7 L957.3,552.8 L960.9,570.6 L964.5,593.1 L968.1,630.7 L971.7,616.0 L975.3,590.7 L978.9,569.2 L982.5,537.2 L986.1,569.4 L989.7,593.0 L993.3,623.0 L996.9,603.0 L1000.5,575.3 L1004.1,580.3 L1007.7,527.1 L1011.3,489.8 L1014.9,479.1 L1018.5,589.0 L1022.1,590.7 L1025.7,469.6 L1029.3,443.8 L1032.9,515.0 L1036.5,530.0 L1040.1,557.3 L1043.7,589.0 L1047.3,563.0 L1050.9,524.6 L1054.5,513.0 L1058.1,537.0 L1061.7,565.0 L1065.3,448.3 L1068.9,614.0 L1072.5,607.3 L1076.1,559.1 L1079.7,556.1 L1083.3,549.7 L1086.9,627.3 L1090.5,473.8 L1094.1,586.0 L1097.7,603.0 L1101.3,575.6 L1104.9,567.0 L1108.5,579.4 L1112.1,640.7 L1115.7,571.0 L1119.3,583.0 L1122.9,567.3 L1126.5,497.8 L1130.1,537.0 L1133.7,498.4 L1137.3,628.0 L1140.9,541.8 L1144.5,606.0 L1148.1,616.0 L1151.7,528.5 L1155.3,521.4 L1158.9,536.9 L1162.5,540.5 L1166.1,507.3 L1169.7,579.0 L1173.3,516.0 L1176.9,482.3 L1180.5,509.8" fill="none" stroke="#b84ee0" stroke-width="1.5" stroke-linejoin="round"/>
<path d="M118.3,528.0 L121.9,516.8 L125.5,295.6 L129.1,487.6 L132.7,514.0 L136.3,576.4 L139.9,422.5 L143.5,312.7 L147.1,248.6 L150.7,271.4 L154.3,360.5 L157.9,437.9 L161.5,544.5 L165.1,541.2 L168.7,432.9 L172.3,436.5 L175.9,437.3 L179.5,359.7 L183.1,420.0 L186.7,555.7 L190.3,501.7 L193.9,403.8 L197.5,393.0 L201.1,455.4 L204.7,502.4 L208.3,506.5 L211.9,580.6 L215.5,554.1 L219.1,444.3 L222.7,444.1 L226.3,417.6 L229.9,208.0 L233.5,442.8 L237.1,564.3 L240.7,570.9 L244.3,387.1 L247.9,387.3 L251.5,474.5 L255.1,521.2 L258.7,590.0 L262.3,541.4 L265.9,423.7 L269.5,434.0 L273.1,503.3 L276.7,418.9 L280.3,333.4 L283.9,335.2 L287.5,546.7 L291.1,545.0 L294.7,465.6 L298.3,556.3 L301.9,569.7 L305.5,509.5 L309.1,509.6 L312.7,594.7 L316.3,590.7 L319.9,488.0 L323.5,578.4 L327.1,570.7 L330.7,519.6 L334.3,596.4 L337.9,599.6 L341.5,600.7 L345.1,471.4 L348.7,450.7 L352.3,440.0 L355.9,443.4 L359.5,448.8 L363.1,595.0 L366.7,601.7 L370.3,405.2 L373.9,504.2 L377.5,478.3 L381.1,474.3 L384.7,434.5 L388.3,541.7 L391.9,425.0 L395.5,242.4 L399.1,354.6 L402.7,463.4 L406.3,291.6 L409.9,523.4 L413.5,595.0 L417.1,611.7 L420.7,333.8 L424.3,491.9 L427.9,493.9 L431.5,516.0 L435.1,507.6 L438.7,573.6 L442.4,417.3 L446.0,246.5 L449.6,455.0 L453.2,500.8 L456.8,502.0 L460.4,475.0 L464.0,580.1 L467.6,579.6 L471.2,530.2 L474.8,529.4 L478.4,493.1 L482.0,536.1 L485.6,557.4 L489.2,606.4 L492.8,609.5 L496.4,579.4 L500.0,527.0 L503.6,550.9 L507.2,543.1 L510.8,470.7 L514.4,603.3 L518.0,606.4 L521.6,431.5 L525.2,367.8 L528.8,464.1 L532.4,503.1 L536.0,374.6 L539.6,551.3 L543.2,403.0 L546.8,400.8 L550.4,410.5 L554.0,489.5 L557.6,433.5 L561.2,410.4 L564.8,493.8 L568.4,558.7 L572.0,448.0 L575.6,472.7 L579.2,505.9 L582.8,540.3 L586.4,559.6 L590.0,603.4 L593.6,589.7 L597.2,577.1 L600.8,572.2 L604.4,544.7 L608.0,576.4 L611.6,590.7 L615.2,629.1 L618.8,623.1 L622.4,549.9 L626.0,563.3 L629.6,571.0 L633.2,573.0 L636.8,549.1 L640.4,603.3 L644.0,613.2 L647.6,559.1 L651.2,554.1 L654.8,501.0 L658.4,542.2 L662.0,512.1 L665.6,583.6 L669.2,603.4 L672.8,390.0 L676.4,490.4 L680.0,430.7 L683.6,524.0 L687.2,536.2 L690.8,583.0 L694.4,576.2 L698.0,555.4 L701.6,564.3 L705.2,563.5 L708.8,645.7 L712.4,640.7 L716.0,619.2 L719.6,607.4 L723.2,537.7 L726.8,488.1 L730.4,535.9 L734.0,568.4 L737.6,634.0 L741.2,620.7 L744.8,609.1 L748.4,556.3 L752.0,647.3 L755.6,560.3 L759.2,548.8 L762.8,581.5 L766.4,609.1 L770.0,583.3 L773.6,581.6 L777.2,575.5 L780.8,639.1 L784.4,644.0 L788.0,533.5 L791.6,596.1 L795.2,560.5 L798.8,507.9 L802.4,542.8 L806.0,559.0 L809.6,551.5 L813.2,565.3 L816.8,589.5 L820.4,563.3 L824.0,509.6 L827.6,527.7 L831.2,451.3 L834.8,490.8 L838.4,498.7 L842.0,573.5 L845.6,563.5 L849.2,575.4 L852.8,527.9 L856.4,546.5 L860.0,515.2 L863.6,527.1 L867.2,554.0 L870.8,593.5 L874.4,554.1 L878.0,562.2 L881.6,559.0 L885.2,510.0 L888.8,551.5 L892.5,589.5 L896.1,609.2 L899.7,537.1 L903.3,547.1 L906.9,558.4 L910.5,540.2 L914.1,613.5 L917.7,604.0 L921.3,600.7 L924.9,547.1 L928.5,522.6 L932.1,597.4 L935.7,644.0 L939.3,553.1 L942.9,597.4 L946.5,499.7 L950.1,499.6 L953.7,548.2 L957.3,553.5 L960.9,570.9 L964.5,593.4 L968.1,630.7 L971.7,616.1 L975.3,591.0 L978.9,569.6 L982.5,538.1 L986.1,569.8 L989.7,593.3 L993.3,623.1 L996.9,603.3 L1000.5,575.6 L1004.1,580.6 L1007.7,527.9 L1011.3,490.8 L1014.9,480.0 L1018.5,589.1 L1022.1,590.7 L1025.7,470.4 L1029.3,445.0 L1032.9,515.8 L1036.5,530.6 L1040.1,557.4 L1043.7,589.1 L1047.3,564.0 L1050.9,525.3 L1054.5,513.7 L1058.1,537.5 L1061.7,565.2 L1065.3,449.2 L1068.9,614.0 L1072.5,607.4 L1076.1,559.7 L1079.7,556.8 L1083.3,550.3 L1086.9,627.4 L1090.5,474.8 L1094.1,586.3 L1097.7,603.3 L1101.3,576.1 L1104.9,567.5 L1108.5,579.7 L1112.1,640.7 L1115.7,571.4 L1119.3,583.4 L1122.9,567.4 L1126.5,498.5 L1130.1,537.5 L1133.7,499.2 L1137.3,628.3 L1140.9,542.4 L1144.5,606.1 L1148.1,616.1 L1151.7,529.0 L1155.3,522.3 L1158.9,537.4 L1162.5,540.6 L1166.1,508.5 L1169.7,579.5 L1173.3,516.7 L1176.9,483.1 L1180.5,510.5 L1180.5,515.4 L1176.9,489.2 L1173.3,521.7 L1169.7,583.0 L1166.1,517.3 L1162.5,541.4 L1158.9,541.8 L1155.3,528.4 L1151.7,533.2 L1148.1,617.1 L1144.5,606.6 L1140.9,546.5 L1137.3,630.5 L1133.7,504.8 L1130.1,541.4 L1126.5,503.7 L1122.9,567.7 L1119.3,586.3 L1115.7,574.1 L1112.1,641.0 L1108.5,582.7 L1104.9,571.4 L1101.3,579.1 L1097.7,605.2 L1094.1,588.8 L1090.5,482.6 L1086.9,627.7 L1083.3,555.3 L1079.7,561.8 L1076.1,564.2 L1072.5,607.7 L1068.9,614.3 L1065.3,455.8 L1061.7,566.9 L1058.1,541.4 L1054.5,518.6 L1050.9,530.0 L1047.3,571.4 L1043.7,590.2 L1040.1,557.7 L1036.5,534.4 L1032.9,522.0 L1029.3,453.8 L1025.7,476.4 L1022.1,591.0 L1018.5,590.2 L1014.9,487.1 L1011.3,497.7 L1007.7,533.7 L1004.1,582.9 L1000.5,578.2 L996.9,605.2 L993.3,624.1 L989.7,595.8 L986.1,572.8 L982.5,544.4 L978.9,572.6 L975.3,592.8 L971.7,617.1 L968.1,631.0 L964.5,595.9 L960.9,573.7 L957.3,558.5 L953.7,551.9 L950.1,508.2 L946.5,504.7 L942.9,597.7 L939.3,556.6 L935.7,644.3 L932.1,597.7 L928.5,527.7 L924.9,551.6 L921.3,601.0 L917.7,604.3 L914.1,615.4 L910.5,545.7 L906.9,562.6 L903.3,551.6 L899.7,542.6 L896.1,610.8 L892.5,593.6 L888.8,556.3 L885.2,517.1 L881.6,563.2 L878.0,566.3 L874.4,556.9 L870.8,596.9 L867.2,561.4 L863.6,535.1 L860.0,523.5 L856.4,552.5 L852.8,535.3 L849.2,578.0 L845.6,567.5 L842.0,576.9 L838.4,508.0 L834.8,499.8 L831.2,461.2 L827.6,534.1 L824.0,515.7 L820.4,565.8 L816.8,593.0 L813.2,569.5 L809.6,556.3 L806.0,563.2 L802.4,547.8 L798.8,515.3 L795.2,564.4 L791.6,596.6 L788.0,541.0 L784.4,644.3 L780.8,639.9 L777.2,579.6 L773.6,583.8 L770.0,585.8 L766.4,610.2 L762.8,586.3 L759.2,555.5 L755.6,564.7 L752.0,647.6 L748.4,562.4 L744.8,609.6 L741.2,621.0 L737.6,634.3 L734.0,571.6 L730.4,541.0 L726.8,498.5 L723.2,545.1 L719.6,607.7 L716.0,620.8 L712.4,641.0 L708.8,646.0 L705.2,567.3 L701.6,568.2 L698.0,560.4 L694.4,578.0 L690.8,583.3 L687.2,544.9 L683.6,529.4 L680.0,445.2 L676.4,501.0 L672.8,406.4 L669.2,606.3 L665.6,588.0 L662.0,521.1 L658.4,548.6 L654.8,507.1 L651.2,556.8 L647.6,563.0 L644.0,614.6 L640.4,605.1 L636.8,555.3 L633.2,576.7 L629.6,575.0 L626.0,567.9 L622.4,555.4 L618.8,623.5 L615.2,629.6 L611.6,593.7 L608.0,579.1 L604.4,550.3 L600.8,576.3 L597.2,581.6 L593.6,593.2 L590.0,605.0 L586.4,562.2 L582.8,544.5 L579.2,512.3 L575.6,477.4 L572.0,456.8 L568.4,565.3 L564.8,495.8 L561.2,417.2 L557.6,438.0 L554.0,490.9 L550.4,417.8 L546.8,408.7 L543.2,410.6 L539.6,554.6 L536.0,383.7 L532.4,503.3 L528.8,464.3 L525.2,377.2 L521.6,434.8 L518.0,607.9 L514.4,604.4 L510.8,475.8 L507.2,544.5 L503.6,555.2 L500.0,532.0 L496.4,580.4 L492.8,610.9 L489.2,607.4 L485.6,559.0 L482.0,539.9 L478.4,497.9 L474.8,532.5 L471.2,532.9 L467.6,581.3 L464.0,583.1 L460.4,481.8 L456.8,509.0 L453.2,505.6 L449.6,456.1 L446.0,259.7 L442.4,420.4 L438.7,575.1 L435.1,512.5 L431.5,522.2 L427.9,498.2 L424.3,496.1 L420.7,344.6 L417.1,612.4 L413.5,595.7 L409.9,525.2 L406.3,307.9 L402.7,465.2 L399.1,363.5 L395.5,256.8 L391.9,425.7 L388.3,542.4 L384.7,439.0 L381.1,479.5 L377.5,483.4 L373.9,506.9 L370.3,414.6 L366.7,602.4 L363.1,595.7 L359.5,457.4 L355.9,451.1 L352.3,446.8 L348.7,455.9 L345.1,475.0 L341.5,602.2 L337.9,601.1 L334.3,597.0 L330.7,526.4 L327.1,570.9 L323.5,578.8 L319.9,495.9 L316.3,592.3 L312.7,596.3 L309.1,516.4 L305.5,514.5 L301.9,571.2 L298.3,557.5 L294.7,473.1 L291.1,549.5 L287.5,548.2 L283.9,344.8 L280.3,343.4 L276.7,428.0 L273.1,506.0 L269.5,442.6 L265.9,432.0 L262.3,544.7 L258.7,591.2 L255.1,524.7 L251.5,479.4 L247.9,396.8 L244.3,396.4 L240.7,572.9 L237.1,567.3 L233.5,445.0 L229.9,223.8 L226.3,420.6 L222.7,451.2 L219.1,451.6 L215.5,554.3 L211.9,582.1 L208.3,514.2 L204.7,507.7 L201.1,461.4 L197.5,399.9 L193.9,411.2 L190.3,505.5 L186.7,557.3 L183.1,427.4 L179.5,366.6 L175.9,442.5 L172.3,442.1 L168.7,439.1 L165.1,543.8 L161.5,547.7 L157.9,446.1 L154.3,370.4 L150.7,283.6 L147.1,259.0 L143.5,321.2 L139.9,428.1 L136.3,577.3 L132.7,516.4 L129.1,490.6 L125.5,305.9 L121.9,520.4 L118.3,531.8Z" fill="#5abb49" fill-opacity="0.6" stroke="none"/>
<path d="M118.3,528.0 L121.9,516.8 L125.5,295.6 L129.1,487.6 L132.7,514.0 L136.3,576.4 L139.9,422.5 L143.5,312.7 L147.1,248.6 L150.7,271.4 L154.3,360.5 L157.9,437.9 L161.5,544.5 L165.1,541.2 L168.7,432.9 L172.3,436.5 L175.9,437.3 L179.5,359.7 L183.1,420.0 L186.7,555.7 L190.3,501.7 L193.9,403.8 L197.5,393.0 L201.1,455.4 L204.7,502.4 L208.3,506.5 L211.9,580.6 L215.5,554.1 L219.1,444.3 L222.7,444.1 L226.3,417.6 L229.9,208.0 L233.5,442.8 L237.1,564.3 L240.7,570.9 L244.3,387.1 L247.9,387.3 L251.5,474.5 L255.1,521.2 L258.7,590.0 L262.3,541.4 L265.9,423.7 L269.5,434.0 L273.1,503.3 L276.7,418.9 L280.3,333.4 L283.9,335.2 L287.5,546.7 L291.1,545.0 L294.7,465.6 L298.3,556.3 L301.9,569.7 L305.5,509.5 L309.1,509.6 L312.7,594.7 L316.3,590.7 L319.9,488.0 L323.5,578.4 L327.1,570.7 L330.7,519.6 L334.3,596.4 L337.9,599.6 L341.5,600.7 L345.1,471.4 L348.7,450.7 L352.3,440.0 L355.9,443.4 L359.5,448.8 L363.1,595.0 L366.7,601.7 L370.3,405.2 L373.9,504.2 L377.5,478.3 L381.1,474.3 L384.7,434.5 L388.3,541.7 L391.9,425.0 L395.5,242.4 L399.1,354.6 L402.7,463.4 L406.3,291.6 L409.9,523.4 L413.5,595.0 L417.1,611.7 L420.7,333.8 L424.3,491.9 L427.9,493.9 L431.5,516.0 L435.1,507.6 L438.7,573.6 L442.4,417.3 L446.0,246.5 L449.6,455.0 L453.2,500.8 L456.8,502.0 L460.4,475.0 L464.0,580.1 L467.6,579.6 L471.2,530.2 L474.8,529.4 L478.4,493.1 L482.0,536.1 L485.6,557.4 L489.2,606.4 L492.8,609.5 L496.4,579.4 L500.0,527.0 L503.6,550.9 L507.2,543.1 L510.8,470.7 L514.4,603.3 L518.0,606.4 L521.6,431.5 L525.2,367.8 L528.8,464.1 L532.4,503.1 L536.0,374.6 L539.6,551.3 L543.2,403.0 L546.8,400.8 L550.4,410.5 L554.0,489.5 L557.6,433.5 L561.2,410.4 L564.8,493.8 L568.4,558.7 L572.0,448.0 L575.6,472.7 L579.2,505.9 L582.8,540.3 L586.4,559.6 L590.0,603.4 L593.6,589.7 L597.2,577.1 L600.8,572.2 L604.4,544.7 L608.0,576.4 L611.6,590.7 L615.2,629.1 L618.8,623.1 L622.4,549.9 L626.0,563.3 L629.6,571.0 L633.2,573.0 L636.8,549.1 L640.4,603.3 L644.0,613.2 L647.6,559.1 L651.2,554.1 L654.8,501.0 L658.4,542.2 L662.0,512.1 L665.6,583.6 L669.2,603.4 L672.8,390.0 L676.4,490.4 L680.0,430.7 L683.6,524.0 L687.2,536.2 L690.8,583.0 L694.4,576.2 L698.0,555.4 L701.6,564.3 L705.2,563.5 L708.8,645.7 L712.4,640.7 L716.0,619.2 L719.6,607.4 L723.2,537.7 L726.8,488.1 L730.4,535.9 L734.0,568.4 L737.6,634.0 L741.2,620.7 L744.8,609.1 L748.4,556.3 L752.0,647.3 L755.6,560.3 L759.2,548.8 L762.8,581.5 L766.4,609.1 L770.0,583.3 L773.6,581.6 L777.2,575.5 L780.8,639.1 L784.4,644.0 L788.0,533.5 L791.6,596.1 L795.2,560.5 L798.8,507.9 L802.4,542.8 L806.0,559.0 L809.6,551.5 L813.2,565.3 L816.8,589.5 L820.4,563.3 L824.0,509.6 L827.6,527.7 L831.2,451.3 L834.8,490.8 L838.4,498.7 L842.0,573.5 L845.6,563.5 L849.2,575.4 L852.8,527.9 L856.4,546.5 L860.0,515.2 L863.6,527.1 L867.2,554.0 L870.8,593.5 L874.4,554.1 L878.0,562.2 L881.6,559.0 L885.2,510.0 L888.8,551.5 L892.5,589.5 L896.1,609.2 L899.7,537.1 L903.3,547.1 L906.9,558.4 L910.5,540.2 L914.1,613.5 L917.7,604.0 L921.3,600.7 L924.9,547.1 L928.5,522.6 L932.1,597.4 L935.7,644.0 L939.3,553.1 L942.9,597.4 L946.5,499.7 L950.1,499.6 L953.7,548.2 L957.3,553.5 L960.9,570.9 L964.5,593.4 L968.1,630.7 L971.7,616.1 L975.3,591.0 L978.9,569.6 L982.5,538.1 L986.1,569.8 L989.7,593.3 L993.3,623.1 L996.9,603.3 L1000.5,575.6 L1004.1,580.6 L1007.7,527.9 L1011.3,490.8 L1014.9,480.0 L1018.5,589.1 L1022.1,590.7 L1025.7,470.4 L1029.3,445.0 L1032.9,515.8 L1036.5,530.6 L1040.1,557.4 L1043.7,589.1 L1047.3,564.0 L1050.9,525.3 L1054.5,513.7 L1058.1,537.5 L1061.7,565.2 L1065.3,449.2 L1068.9,614.0 L1072.5,607.4 L1076.1,559.7 L1079.7,556.8 L1083.3,550.3 L1086.9,627.4 L1090.5,474.8 L1094.1,586.3 L1097.7,603.3 L1101.3,576.1 L1104.9,567.5 L1108.5,579.7 L1112.1,640.7 L1115.7,571.4 L1119.3,583.4 L1122.9,567.4 L1126.5,498.5 L1130.1,537.5 L1133.7,499.2 L1137.3,628.3 L1140.9,542.4 L1144.5,606.1 L1148.1,616.1 L1151.7,529.0 L1155.3,522.3 L1158.9,537.4 L1162.5,540.6 L1166.1,508.5 L1169.7,579.5 L1173.3,516.7 L1176.9,483.1 L1180.5,510.5" fill="none" stroke="#62bb52" stroke-width="1.5" stroke-linejoin="round"/>
<path d="M118.3,531.8 L121.9,520.4 L125.5,305.9 L129.1,490.6 L132.7,516.4 L136.3,577.3 L139.9,428.1 L143.5,321.2 L147.1,259.0 L150.7,283.6 L154.3,370.4 L157.9,446.1 L161.5,547.7 L165.1,543.8 L168.7,439.1 L172.3,442.1 L175.9,442.5 L179.5,366.6 L183.1,427.4 L186.7,557.3 L190.3,505.5 L193.9,411.2 L197.5,399.9 L201.1,461.4 L204.7,507.7 L208.3,514.2 L211.9,582.1 L215.5,554.3 L219.1,451.6 L222.7,451.2 L226.3,420.6 L229.9,223.8 L233.5,445.0 L237.1,567.3 L240.7,572.9 L244.3,396.4 L247.9,396.8 L251.5,479.4 L255.1,524.7 L258.7,591.2 L262.3,544.7 L265.9,432.0 L269.5,442.6 L273.1,506.0 L276.7,428.0 L280.3,343.4 L283.9,344.8 L287.5,548.2 L291.1,549.5 L294.7,473.1 L298.3,557.5 L301.9,571.2 L305.5,514.5 L309.1,516.4 L312.7,596.3 L316.3,592.3 L319.9,495.9 L323.5,578.8 L327.1,570.9 L330.7,526.4 L334.3,597.0 L337.9,601.1 L341.5,602.2 L345.1,475.0 L348.7,455.9 L352.3,446.8 L355.9,451.1 L359.5,457.4 L363.1,595.7 L366.7,602.4 L370.3,414.6 L373.9,506.9 L377.5,483.4 L381.1,479.5 L384.7,439.0 L388.3,542.4 L391.9,425.7 L395.5,256.8 L399.1,363.5 L402.7,465.2 L406.3,307.9 L409.9,525.2 L413.5,595.7 L417.1,612.4 L420.7,344.6 L424.3,496.1 L427.9,498.2 L431.5,522.2 L435.1,512.5 L438.7,575.1 L442.4,420.4 L446.0,259.7 L449.6,456.1 L453.2,505.6 L456.8,509.0 L460.4,481.8 L464.0,583.1 L467.6,581.3 L471.2,532.9 L474.8,532.5 L478.4,497.9 L482.0,539.9 L485.6,559.0 L489.2,607.4 L492.8,610.9 L496.4,580.4 L500.0,532.0 L503.6,555.2 L507.2,544.5 L510.8,475.8 L514.4,604.4 L518.0,607.9 L521.6,434.8 L525.2,377.2 L528.8,464.3 L532.4,503.3 L536.0,383.7 L539.6,554.6 L543.2,410.6 L546.8,408.7 L550.4,417.8 L554.0,490.9 L557.6,438.0 L561.2,417.2 L564.8,495.8 L568.4,565.3 L572.0,456.8 L575.6,477.4 L579.2,512.3 L582.8,544.5 L586.4,562.2 L590.0,605.0 L593.6,593.2 L597.2,581.6 L600.8,576.3 L604.4,550.3 L608.0,579.1 L611.6,593.7 L615.2,629.6 L618.8,623.5 L622.4,555.4 L626.0,567.9 L629.6,575.0 L633.2,576.7 L636.8,555.3 L640.4,605.1 L644.0,614.6 L647.6,563.0 L651.2,556.8 L654.8,507.1 L658.4,548.6 L662.0,521.1 L665.6,588.0 L669.2,606.3 L672.8,406.4 L676.4,501.0 L680.0,445.2 L683.6,529.4 L687.2,544.9 L690.8,583.3 L694.4,578.0 L698.0,560.4 L701.6,568.2 L705.2,567.3 L708.8,646.0 L712.4,641.0 L716.0,620.8 L719.6,607.7 L723.2,545.1 L726.8,498.5 L730.4,541.0 L734.0,571.6 L737.6,634.3 L741.2,621.0 L744.8,609.6 L748.4,562.4 L752.0,647.6 L755.6,564.7 L759.2,555.5 L762.8,586.3 L766.4,610.2 L770.0,585.8 L773.6,583.8 L777.2,579.6 L780.8,639.9 L784.4,644.3 L788.0,541.0 L791.6,596.6 L795.2,564.4 L798.8,515.3 L802.4,547.8 L806.0,563.2 L809.6,556.3 L813.2,569.5 L816.8,593.0 L820.4,565.8 L824.0,515.7 L827.6,534.1 L831.2,461.2 L834.8,499.8 L838.4,508.0 L842.0,576.9 L845.6,567.5 L849.2,578.0 L852.8,535.3 L856.4,552.5 L860.0,523.5 L863.6,535.1 L867.2,561.4 L870.8,596.9 L874.4,556.9 L878.0,566.3 L881.6,563.2 L885.2,517.1 L888.8,556.3 L892.5,593.6 L896.1,610.8 L899.7,542.6 L903.3,551.6 L906.9,562.6 L910.5,545.7 L914.1,615.4 L917.7,604.3 L921.3,601.0 L924.9,551.6 L928.5,527.7 L932.1,597.7 L935.7,644.3 L939.3,556.6 L942.9,597.7 L946.5,504.7 L950.1,508.2 L953.7,551.9 L957.3,558.5 L960.9,573.7 L964.5,595.9 L968.1,631.0 L971.7,617.1 L975.3,592.8 L978.9,572.6 L982.5,544.4 L986.1,572.8 L989.7,595.8 L993.3,624.1 L996.9,605.2 L1000.5,578.2 L1004.1,582.9 L1007.7,533.7 L1011.3,497.7 L1014.9,487.1 L1018.5,590.2 L1022.1,591.0 L1025.7,476.4 L1029.3,453.8 L1032.9,522.0 L1036.5,534.4 L1040.1,557.7 L1043.7,590.2 L1047.3,571.4 L1050.9,530.0 L1054.5,518.6 L1058.1,541.4 L1061.7,566.9 L1065.3,455.8 L1068.9,614.3 L1072.5,607.7 L1076.1,564.2 L1079.7,561.8 L1083.3,555.3 L1086.9,627.7 L1090.5,482.6 L1094.1,588.8 L1097.7,605.2 L1101.3,579.1 L1104.9,571.4 L1108.5,582.7 L1112.1,641.0 L1115.7,574.1 L1119.3,586.3 L1122.9,567.7 L1126.5,503.7 L1130.1,541.4 L1133.7,504.8 L1137.3,630.5 L1140.9,546.5 L1144.5,606.6 L1148.1,617.1 L1151.7,533.2 L1155.3,528.4 L1158.9,541.8 L1162.5,541.4 L1166.1,517.3 L1169.7,583.0 L1173.3,521.7 L1176.9,489.2 L1180.5,515.4 L1180.5,521.0 L1176.9,496.0 L1173.3,527.3 L1169.7,587.0 L1166.1,527.3 L1162.5,542.4 L1158.9,546.8 L1155.3,535.5 L1151.7,537.9 L1148.1,618.3 L1144.5,607.1 L1140.9,551.2 L1137.3,633.0 L1133.7,511.2 L1130.1,545.7 L1126.5,509.7 L1122.9,568.0 L1119.3,589.7 L1115.7,577.2 L1112.1,641.3 L1108.5,586.1 L1104.9,575.7 L1101.3,582.6 L1097.7,607.4 L1094.1,591.7 L1090.5,491.5 L1086.9,628.0 L1083.3,560.9 L1079.7,567.4 L1076.1,569.4 L1072.5,608.0 L1068.9,614.7 L1065.3,463.4 L1061.7,568.7 L1058.1,545.7 L1054.5,524.2 L1050.9,535.3 L1047.3,579.9 L1043.7,591.4 L1040.1,558.0 L1036.5,538.9 L1032.9,529.0 L1029.3,463.8 L1025.7,483.1 L1022.1,591.3 L1018.5,591.4 L1014.9,495.0 L1011.3,505.5 L1007.7,540.4 L1004.1,585.6 L1000.5,581.2 L996.9,607.4 L993.3,625.2 L989.7,598.6 L986.1,576.2 L982.5,551.6 L978.9,576.0 L975.3,594.8 L971.7,618.3 L968.1,631.3 L964.5,598.6 L960.9,576.9 L957.3,564.1 L953.7,556.2 L950.1,518.0 L946.5,510.4 L942.9,598.0 L939.3,560.6 L935.7,644.7 L932.1,598.0 L928.5,533.5 L924.9,556.6 L921.3,601.3 L917.7,604.7 L914.1,617.6 L910.5,551.9 L906.9,567.4 L903.3,556.6 L899.7,548.7 L896.1,612.5 L892.5,598.2 L888.8,561.7 L885.2,525.0 L881.6,567.8 L878.0,571.0 L874.4,560.1 L870.8,600.8 L867.2,569.9 L863.6,544.1 L860.0,532.9 L856.4,559.4 L852.8,543.6 L849.2,581.0 L845.6,572.0 L842.0,580.8 L838.4,518.5 L834.8,509.9 L831.2,472.4 L827.6,541.3 L824.0,522.6 L820.4,568.6 L816.8,597.0 L813.2,574.2 L809.6,561.7 L806.0,567.8 L802.4,553.6 L798.8,523.6 L795.2,568.8 L791.6,597.1 L788.0,549.6 L784.4,644.7 L780.8,640.8 L777.2,584.3 L773.6,586.3 L770.0,588.6 L766.4,611.4 L762.8,591.7 L759.2,563.1 L755.6,569.8 L752.0,648.0 L748.4,569.3 L744.8,610.2 L741.2,621.3 L737.6,634.7 L734.0,575.3 L730.4,546.8 L726.8,510.3 L723.2,553.5 L719.6,608.0 L716.0,622.5 L712.4,641.3 L708.8,646.3 L705.2,571.5 L701.6,572.7 L698.0,566.0 L694.4,580.1 L690.8,583.7 L687.2,554.7 L683.6,535.5 L680.0,461.6 L676.4,512.9 L672.8,425.0 L669.2,609.6 L665.6,592.8 L662.0,531.2 L658.4,555.9 L654.8,513.9 L651.2,559.8 L647.6,567.4 L644.0,616.1 L640.4,607.2 L636.8,562.2 L633.2,580.8 L629.6,579.4 L626.0,573.0 L622.4,561.5 L618.8,623.9 L615.2,630.1 L611.6,597.0 L608.0,582.0 L604.4,556.4 L600.8,580.8 L597.2,586.6 L593.6,597.0 L590.0,606.8 L586.4,565.0 L582.8,549.1 L579.2,519.4 L575.6,482.5 L572.0,466.4 L568.4,572.0 L564.8,497.8 L561.2,424.1 L557.6,442.4 L554.0,492.3 L550.4,425.0 L546.8,416.5 L543.2,418.2 L539.6,557.8 L536.0,392.8 L532.4,503.5 L528.8,464.5 L525.2,386.6 L521.6,438.3 L518.0,609.5 L514.4,605.5 L510.8,481.2 L507.2,546.0 L503.6,559.7 L500.0,537.3 L496.4,581.6 L492.8,612.4 L489.2,608.5 L485.6,560.7 L482.0,544.0 L478.4,503.0 L474.8,535.8 L471.2,535.6 L467.6,583.0 L464.0,586.1 L460.4,488.8 L456.8,516.2 L453.2,510.5 L449.6,457.2 L446.0,273.1 L442.4,423.5 L438.7,576.6 L435.1,517.4 L431.5,528.5 L427.9,502.6 L424.3,500.3 L420.7,355.5 L417.1,613.1 L413.5,596.4 L409.9,527.0 L406.3,324.3 L402.7,467.0 L399.1,372.3 L395.5,271.2 L391.9,426.4 L388.3,543.1 L384.7,443.5 L381.1,484.8 L377.5,488.5 L373.9,509.6 L370.3,424.1 L366.7,603.1 L363.1,596.4 L359.5,465.9 L355.9,458.7 L352.3,453.5 L348.7,461.1 L345.1,478.6 L341.5,603.7 L337.9,602.5 L334.3,597.6 L330.7,533.3 L327.1,571.1 L323.5,579.2 L319.9,503.9 L316.3,594.0 L312.7,598.0 L309.1,523.3 L305.5,519.5 L301.9,572.7 L298.3,558.7 L294.7,480.7 L291.1,553.9 L287.5,549.7 L283.9,354.3 L280.3,353.4 L276.7,437.1 L273.1,508.8 L269.5,451.3 L265.9,440.4 L262.3,547.9 L258.7,592.4 L255.1,528.3 L251.5,484.2 L247.9,406.4 L244.3,405.7 L240.7,575.0 L237.1,570.3 L233.5,447.2 L229.9,239.5 L226.3,423.6 L222.7,458.2 L219.1,459.0 L215.5,554.4 L211.9,583.5 L208.3,522.0 L204.7,513.1 L201.1,467.4 L197.5,406.7 L193.9,418.6 L190.3,509.4 L186.7,558.9 L183.1,434.9 L179.5,373.4 L175.9,447.7 L172.3,447.6 L168.7,445.3 L165.1,546.5 L161.5,551.0 L157.9,454.4 L154.3,380.3 L150.7,295.7 L147.1,269.4 L143.5,329.6 L139.9,433.8 L136.3,578.2 L132.7,518.8 L129.1,493.6 L125.5,316.3 L121.9,524.1 L118.3,535.7Z" fill="#df4949" fill-opacity="0.6" stroke="none"/>
<path d="M118.3,531.8 L121.9,520.4 L125.5,305.9 L129.1,490.6 L132.7,516.4 L136.3,577.3 L139.9,428.1 L143.5,321.2 L147.1,259.0 L150.7,283.6 L154.3,370.4 L157.9,446.1 L161.5,547.7 L165.1,543.8 L168.7,439.1 L172.3,442.1 L175.9,442.5 L179.5,366.6 L183.1,427.4 L186.7,557.3 L190.3,505.5 L193.9,411.2 L197.5,399.9 L201.1,461.4 L204.7,507.7 L208.3,514.2 L211.9,582.1 L215.5,554.3 L219.1,451.6 L222.7,451.2 L226.3,420.6 L229.9,223.8 L233.5,445.0 L237.1,567.3 L240.7,572.9 L244.3,396.4 L247.9,396.8 L251.5,479.4 L255.1,524.7 L258.7,591.2 L262.3,544.7 L265.9,432.0 L269.5,442.6 L273.1,506.0 L276.7,428.0 L280.3,343.4 L283.9,344.8 L287.5,548.2 L291.1,549.5 L294.7,473.1 L298.3,557.5 L301.9,571.2 L305.5,514.5 L309.1,516.4 L312.7,596.3 L316.3,592.3 L319.9,495.9 L323.5,578.8 L327.1,570.9 L330.7,526.4 L334.3,597.0 L337.9,601.1 L341.5,602.2 L345.1,475.0 L348.7,455.9 L352.3,446.8 L355.9,451.1 L359.5,457.4 L363.1,595.7 L366.7,602.4 L370.3,414.6 L373.9,506.9 L377.5,483.4 L381.1,479.5 L384.7,439.0 L388.3,542.4 L391.9,425.7 L395.5,256.8 L399.1,363.5 L402.7,465.2 L406.3,307.9 L409.9,525.2 L413.5,595.7 L417.1,612.4 L420.7,344.6 L424.3,496.1 L427.9,498.2 L431.5,522.2 L435.1,512.5 L438.7,575.1 L442.4,420.4 L446.0,259.7 L449.6,456.1 L453.2,505.6 L456.8,509.0 L460.4,481.8 L464.0,583.1 L467.6,581.3 L471.2,532.9 L474.8,532.5 L478.4,497.9 L482.0,539.9 L485.6,559.0 L489.2,607.4 L492.8,610.9 L496.4,580.4 L500.0,532.0 L503.6,555.2 L507.2,544.5 L510.8,475.8 L514.4,604.4 L518.0,607.9 L521.6,434.8 L525.2,377.2 L528.8,464.3 L532.4,503.3 L536.0,383.7 L539.6,554.6 L543.2,410.6 L546.8,408.7 L550.4,417.8 L554.0,490.9 L557.6,438.0 L561.2,417.2 L564.8,495.8 L568.4,565.3 L572.0,456.8 L575.6,477.4 L579.2,512.3 L582.8,544.5 L586.4,562.2 L590.0,605.0 L593.6,593.2 L597.2,581.6 L600.8,576.3 L604.4,550.3 L608.0,579.1 L611.6,593.7 L615.2,629.6 L618.8,623.5 L622.4,555.4 L626.0,567.9 L629.6,575.0 L633.2,576.7 L636.8,555.3 L640.4,605.1 L644.0,614.6 L647.6,563.0 L651.2,556.8 L654.8,507.1 L658.4,548.6 L662.0,521.1 L665.6,588.0 L669.2,606.3 L672.8,406.4 L676.4,501.0 L680.0,445.2 L683.6,529.4 L687.2,544.9 L690.8,583.3 L694.4,578.0 L698.0,560.4 L701.6,568.2 L705.2,567.3 L708.8,646.0 L712.4,641.0 L716.0,620.8 L719.6,607.7 L723.2,545.1 L726.8,498.5 L730.4,541.0 L734.0,571.6 L737.6,634.3 L741.2,621.0 L744.8,609.6 L748.4,562.4 L752.0,647.6 L755.6,564.7 L759.2,555.5 L762.8,586.3 L766.4,610.2 L770.0,585.8 L773.6,583.8 L777.2,579.6 L780.8,639.9 L784.4,644.3 L788.0,541.0 L791.6,596.6 L795.2,564.4 L798.8,515.3 L802.4,547.8 L806.0,563.2 L809.6,556.3 L813.2,569.5 L816.8,593.0 L820.4,565.8 L824.0,515.7 L827.6,534.1 L831.2,461.2 L834.8,499.8 L838.4,508.0 L842.0,576.9 L845.6,567.5 L849.2,578.0 L852.8,535.3 L856.4,552.5 L860.0,523.5 L863.6,535.1 L867.2,561.4 L870.8,596.9 L874.4,556.9 L878.0,566.3 L881.6,563.2 L885.2,517.1 L888.8,556.3 L892.5,593.6 L896.1,610.8 L899.7,542.6 L903.3,551.6 L906.9,562.6 L910.5,545.7 L914.1,615.4 L917.7,604.3 L921.3,601.0 L924.9,551.6 L928.5,527.7 L932.1,597.7 L935.7,644.3 L939.3,556.6 L942.9,597.7 L946.5,504.7 L950.1,508.2 L953.7,551.9 L957.3,558.5 L960.9,573.7 L964.5,595.9 L968.1,631.0 L971.7,617.1 L975.3,592.8 L978.9,572.6 L982.5,544.4 L986.1,572.8 L989.7,595.8 L993.3,624.1 L996.9,605.2 L1000.5,578.2 L1004.1,582.9 L1007.7,533.7 L1011.3,497.7 L1014.9,487.1 L1018.5,590.2 L1022.1,591.0 L1025.7,476.4 L1029.3,453.8 L1032.9,522.0 L1036.5,534.4 L1040.1,557.7 L1043.7,590.2 L1047.3,571.4 L1050.9,530.0 L1054.5,518.6 L1058.1,541.4 L1061.7,566.9 L1065.3,455.8 L1068.9,614.3 L1072.5,607.7 L1076.1,564.2 L1079.7,561.8 L1083.3,555.3 L1086.9,627.7 L1090.5,482.6 L1094.1,588.8 L1097.7,605.2 L1101.3,579.1 L1104.9,571.4 L1108.5,582.7 L1112.1,641.0 L1115.7,574.1 L1119.3,586.3 L1122.9,567.7 L1126.5,503.7 L1130.1,541.4 L1133.7,504.8 L1137.3,630.5 L1140.9,546.5 L1144.5,606.6 L1148.1,617.1 L1151.7,533.2 L1155.3,528.4 L1158.9,541.8 L1162.5,541.4 L1166.1,517.3 L1169.7,583.0 L1173.3,521.7 L1176.9,489.2 L1180.5,515.4" fill="none" stroke="#e05656" stroke-width="1.5" stroke-linejoin="round"/>
<path d="M118.3,535.7 L121.9,524.1 L125.5,316.3 L129.1,493.6 L132.7,518.8 L136.3,578.2 L139.9,433.8 L143.5,329.6 L147.1,269.4 L150.7,295.7 L154.3,380.3 L157.9,454.4 L161.5,551.0 L165.1,546.5 L168.7,445.3 L172.3,447.6 L175.9,447.7 L179.5,373.4 L183.1,434.9 L186.7,558.9 L190.3,509.4 L193.9,418.6 L197.5,406.7 L201.1,467.4 L204.7,513.1 L208.3,522.0 L211.9,583.5 L215.5,554.4 L219.1,459.0 L222.7,458.2 L226.3,423.6 L229.9,239.5 L233.5,447.2 L237.1,570.3 L240.7,575.0 L244.3,405.7 L247.9,406.4 L251.5,484.2 L255.1,528.3 L258.7,592.4 L262.3,547.9 L265.9,440.4 L269.5,451.3 L273.1,508.8 L276.7,437.1 L280.3,353.4 L283.9,354.3 L287.5,549.7 L291.1,553.9 L294.7,480.7 L298.3,558.7 L301.9,572.7 L305.5,519.5 L309.1,523.3 L312.7,598.0 L316.3,594.0 L319.9,503.9 L323.5,579.2 L327.1,571.1 L330.7,533.3 L334.3,597.6 L337.9,602.5 L341.5,603.7 L345.1,478.6 L348.7,461.1 L352.3,453.5 L355.9,458.7 L359.5,465.9 L363.1,596.4 L366.7,603.1 L370.3,424.1 L373.9,509.6 L377.5,488.5 L381.1,484.8 L384.7,443.5 L388.3,543.1 L391.9,426.4 L395.5,271.2 L399.1,372.3 L402.7,467.0 L406.3,324.3 L409.9,527.0 L413.5,596.4 L417.1,613.1 L420.7,355.5 L424.3,500.3 L427.9,502.6 L431.5,528.5 L435.1,517.4 L438.7,576.6 L442.4,423.5 L446.0,273.1 L449.6,457.2 L453.2,510.5 L456.8,516.2 L460.4,488.8 L464.0,586.1 L467.6,583.0 L471.2,535.6 L474.8,535.8 L478.4,503.0 L482.0,544.0 L485.6,560.7 L489.2,608.5 L492.8,612.4 L496.4,581.6 L500.0,537.3 L503.6,559.7 L507.2,546.0 L510.8,481.2 L514.4,605.5 L518.0,609.5 L521.6,438.3 L525.2,386.6 L528.8,464.5 L532.4,503.5 L536.0,392.8 L539.6,557.8 L543.2,418.2 L546.8,416.5 L550.4,425.0 L554.0,492.3 L557.6,442.4 L561.2,424.1 L564.8,497.8 L568.4,572.0 L572.0,466.4 L575.6,482.5 L579.2,519.4 L582.8,549.1 L586.4,565.0 L590.0,606.8 L593.6,597.0 L597.2,586.6 L600.8,580.8 L604.4,556.4 L608.0,582.0 L611.6,597.0 L615.2,630.1 L618.8,623.9 L622.4,561.5 L626.0,573.0 L629.6,579.4 L633.2,580.8 L636.8,562.2 L640.4,607.2 L644.0,616.1 L647.6,567.4 L651.2,559.8 L654.8,513.9 L658.4,555.9 L662.0,531.2 L665.6,592.8 L669.2,609.6 L672.8,425.0 L676.4,512.9 L680.0,461.6 L683.6,535.5 L687.2,554.7 L690.8,583.7 L694.4,580.1 L698.0,566.0 L701.6,572.7 L705.2,571.5 L708.8,646.3 L712.4,641.3 L716.0,622.5 L719.6,608.0 L723.2,553.5 L726.8,510.3 L730.4,546.8 L734.0,575.3 L737.6,634.7 L741.2,621.3 L744.8,610.2 L748.4,569.3 L752.0,648.0 L755.6,569.8 L759.2,563.1 L762.8,591.7 L766.4,611.4 L770.0,588.6 L773.6,586.3 L777.2,584.3 L780.8,640.8 L784.4,644.7 L788.0,549.6 L791.6,597.1 L795.2,568.8 L798.8,523.6 L802.4,553.6 L806.0,567.8 L809.6,561.7 L813.2,574.2 L816.8,597.0 L820.4,568.6 L824.0,522.6 L827.6,541.3 L831.2,472.4 L834.8,509.9 L838.4,518.5 L842.0,580.8 L845.6,572.0 L849.2,581.0 L852.8,543.6 L856.4,559.4 L860.0,532.9 L863.6,544.1 L867.2,569.9 L870.8,600.8 L874.4,560.1 L878.0,571.0 L881.6,567.8 L885.2,525.0 L888.8,561.7 L892.5,598.2 L896.1,612.5 L899.7,548.7 L903.3,556.6 L906.9,567.4 L910.5,551.9 L914.1,617.6 L917.7,604.7 L921.3,601.3 L924.9,556.6 L928.5,533.5 L932.1,598.0 L935.7,644.7 L939.3,560.6 L942.9,598.0 L946.5,510.4 L950.1,518.0 L953.7,556.2 L957.3,564.1 L960.9,576.9 L964.5,598.6 L968.1,631.3 L971.7,618.3 L975.3,594.8 L978.9,576.0 L982.5,551.6 L986.1,576.2 L989.7,598.6 L993.3,625.2 L996.9,607.4 L1000.5,581.2 L1004.1,585.6 L1007.7,540.4 L1011.3,505.5 L1014.9,495.0 L1018.5,591.4 L1022.1,591.3 L1025.7,483.1 L1029.3,463.8 L1032.9,529.0 L1036.5,538.9 L1040.1,558.0 L1043.7,591.4 L1047.3,579.9 L1050.9,535.3 L1054.5,524.2 L1058.1,545.7 L1061.7,568.7 L1065.3,463.4 L1068.9,614.7 L1072.5,608.0 L1076.1,569.4 L1079.7,567.4 L1083.3,560.9 L1086.9,628.0 L1090.5,491.5 L1094.1,591.7 L1097.7,607.4 L1101.3,582.6 L1104.9,575.7 L1108.5,586.1 L1112.1,641.3 L1115.7,577.2 L1119.3,589.7 L1122.9,568.0 L1126.5,509.7 L1130.1,545.7 L1133.7,511.2 L1137.3,633.0 L1140.9,551.2 L1144.5,607.1 L1148.1,618.3 L1151.7,537.9 L1155.3,535.5 L1158.9,546.8 L1162.5,542.4 L1166.1,527.3 L1169.7,587.0 L1173.3,527.3 L1176.9,496.0 L1180.5,521.0 L1180.5,527.9 L1176.9,504.5 L1173.3,534.3 L1169.7,592.0 L1166.1,539.6 L1162.5,543.5 L1158.9,552.9 L1155.3,544.1 L1151.7,543.6 L1148.1,619.7 L1144.5,607.8 L1140.9,557.0 L1137.3,636.1 L1133.7,519.1 L1130.1,551.1 L1126.5,517.0 L1122.9,568.4 L1119.3,593.8 L1115.7,581.1 L1112.1,641.8 L1108.5,590.3 L1104.9,581.1 L1101.3,586.8 L1097.7,610.1 L1094.1,595.2 L1090.5,502.5 L1086.9,628.4 L1083.3,567.8 L1079.7,574.4 L1076.1,575.7 L1072.5,608.4 L1068.9,615.1 L1065.3,472.7 L1061.7,571.0 L1058.1,551.1 L1054.5,531.1 L1050.9,541.9 L1047.3,590.3 L1043.7,592.9 L1040.1,558.4 L1036.5,544.3 L1032.9,537.6 L1029.3,476.2 L1025.7,491.5 L1022.1,591.8 L1018.5,592.9 L1014.9,504.9 L1011.3,515.2 L1007.7,548.5 L1004.1,588.9 L1000.5,584.8 L996.9,610.1 L993.3,626.5 L989.7,602.0 L986.1,580.4 L982.5,560.4 L978.9,580.3 L975.3,597.3 L971.7,619.7 L968.1,631.8 L964.5,602.0 L960.9,580.9 L957.3,571.1 L953.7,561.4 L950.1,530.1 L946.5,517.5 L942.9,598.4 L939.3,565.5 L935.7,645.1 L932.1,598.4 L928.5,540.6 L924.9,562.8 L921.3,601.8 L917.7,605.1 L914.1,620.2 L910.5,559.6 L906.9,573.3 L903.3,562.8 L899.7,556.3 L896.1,614.7 L892.5,603.9 L888.8,568.4 L885.2,534.9 L881.6,573.6 L878.0,576.9 L874.4,564.1 L870.8,605.6 L867.2,580.3 L863.6,555.3 L860.0,544.5 L856.4,567.9 L852.8,553.9 L849.2,584.7 L845.6,577.5 L842.0,585.6 L838.4,531.5 L834.8,522.5 L831.2,486.3 L827.6,550.2 L824.0,531.1 L820.4,572.0 L816.8,602.0 L813.2,580.1 L809.6,568.4 L806.0,573.6 L802.4,560.7 L798.8,533.9 L795.2,574.3 L791.6,597.8 L788.0,560.1 L784.4,645.1 L780.8,641.9 L777.2,590.2 L773.6,589.4 L770.0,592.0 L766.4,612.9 L762.8,598.4 L759.2,572.5 L755.6,576.0 L752.0,648.5 L748.4,577.8 L744.8,611.0 L741.2,621.8 L737.6,635.1 L734.0,579.7 L730.4,554.0 L726.8,524.8 L723.2,563.8 L719.6,608.4 L716.0,624.7 L712.4,641.8 L708.8,646.8 L705.2,576.8 L701.6,578.2 L698.0,573.0 L694.4,582.6 L690.8,584.1 L687.2,566.8 L683.6,543.1 L680.0,482.1 L676.4,527.9 L672.8,448.6 L669.2,613.7 L665.6,599.2 L662.0,544.5 L658.4,565.6 L654.8,523.2 L651.2,564.0 L647.6,573.4 L644.0,618.2 L640.4,610.0 L636.8,572.1 L633.2,586.8 L629.6,585.9 L626.0,580.5 L622.4,570.6 L618.8,624.6 L615.2,631.0 L611.6,602.1 L608.0,586.6 L604.4,566.1 L600.8,588.0 L597.2,594.6 L593.6,603.3 L590.0,609.9 L586.4,569.7 L582.8,556.9 L579.2,531.5 L575.6,491.4 L572.0,483.2 L568.4,596.7 L564.8,505.2 L561.2,449.3 L557.6,458.8 L554.0,497.5 L550.4,451.8 L546.8,445.5 L543.2,446.4 L539.6,569.9 L536.0,426.5 L532.4,504.2 L528.8,465.2 L525.2,421.3 L521.6,445.6 L518.0,612.8 L514.4,607.9 L510.8,493.0 L507.2,549.4 L503.6,569.7 L500.0,549.3 L496.4,584.2 L492.8,615.9 L489.2,611.0 L485.6,564.8 L482.0,553.8 L478.4,515.4 L474.8,543.8 L471.2,542.6 L467.6,587.5 L464.0,594.1 L460.4,507.3 L456.8,535.6 L453.2,523.9 L449.6,460.2 L446.0,310.9 L442.4,432.4 L438.7,581.0 L435.1,531.9 L431.5,547.2 L427.9,515.5 L424.3,513.0 L420.7,388.0 L417.1,615.3 L413.5,598.6 L409.9,532.4 L406.3,373.3 L402.7,472.4 L399.1,399.0 L395.5,314.4 L391.9,428.6 L388.3,545.3 L384.7,457.1 L381.1,500.4 L377.5,503.9 L373.9,517.7 L370.3,452.4 L366.7,605.3 L363.1,598.6 L359.5,491.6 L355.9,481.6 L352.3,473.8 L348.7,476.6 L345.1,489.5 L341.5,608.3 L337.9,606.8 L334.3,599.4 L330.7,553.8 L327.1,571.6 L323.5,580.4 L319.9,527.7 L316.3,598.8 L312.7,602.8 L309.1,543.8 L305.5,534.4 L301.9,577.3 L298.3,562.4 L294.7,503.3 L291.1,567.3 L287.5,554.3 L283.9,382.9 L280.3,383.4 L276.7,464.4 L273.1,517.1 L269.5,477.1 L265.9,465.4 L262.3,557.6 L258.7,595.9 L255.1,539.1 L251.5,498.7 L247.9,435.1 L244.3,433.5 L240.7,581.1 L237.1,579.2 L233.5,453.7 L229.9,286.8 L226.3,432.5 L222.7,479.4 L219.1,481.0 L215.5,555.0 L211.9,587.8 L208.3,545.3 L204.7,529.1 L201.1,485.4 L197.5,427.2 L193.9,440.8 L190.3,520.9 L186.7,563.7 L183.1,457.2 L179.5,393.9 L175.9,463.3 L172.3,464.4 L168.7,464.0 L165.1,554.4 L161.5,560.8 L157.9,479.2 L154.3,410.0 L150.7,332.1 L147.1,300.5 L143.5,354.9 L139.9,450.7 L136.3,580.9 L132.7,525.9 L129.1,502.5 L125.5,347.4 L121.9,535.2 L118.3,547.4Z" fill="#49b2df" fill-opacity="0.6" stroke="none"/>
<path d="M118.3,535.7 L121.9,524.1 L125.5,316.3 L129.1,493.6 L132.7,518.8 L136.3,578.2 L139.9,433.8 L143.5,329.6 L147.1,269.4 L150.7,295.7 L154.3,380.3 L157.9,454.4 L161.5,551.0 L165.1,546.5 L168.7,445.3 L172.3,447.6 L175.9,447.7 L179.5,373.4 L183.1,434.9 L186.7,558.9 L190.3,509.4 L193.9,418.6 L197.5,406.7 L201.1,467.4 L204.7,513.1 L208.3,522.0 L211.9,583.5 L215.5,554.4 L219.1,459.0 L222.7,458.2 L226.3,423.6 L229.9,239.5 L233.5,447.2 L237.1,570.3 L240.7,575.0 L244.3,405.7 L247.9,406.4 L251.5,484.2 L255.1,528.3 L258.7,592.4 L262.3,547.9 L265.9,440.4 L269.5,451.3 L273.1,508.8 L276.7,437.1 L280.3,353.4 L283.9,354.3 L287.5,549.7 L291.1,553.9 L294.7,480.7 L298.3,558.7 L301.9,572.7 L305.5,519.5 L309.1,523.3 L312.7,598.0 L316.3,594.0 L319.9,503.9 L323.5,579.2 L327.1,571.1 L330.7,533.3 L334.3,597.6 L337.9,602.5 L341.5,603.7 L345.1,478.6 L348.7,461.1 L352.3,453.5 L355.9,458.7 L359.5,465.9 L363.1,596.4 L366.7,603.1 L370.3,424.1 L373.9,509.6 L377.5,488.5 L381.1,484.8 L384.7,443.5 L388.3,543.1 L391.9,426.4 L395.5,271.2 L399.1,372.3 L402.7,467.0 L406.3,324.3 L409.9,527.0 L413.5,596.4 L417.1,613.1 L420.7,355.5 L424.3,500.3 L427.9,502.6 L431.5,528.5 L435.1,517.4 L438.7,576.6 L442.4,423.5 L446.0,273.1 L449.6,457.2 L453.2,510.5 L456.8,516.2 L460.4,488.8 L464.0,586.1 L467.6,583.0 L471.2,535.6 L474.8,535.8 L478.4,503.0 L482.0,544.0 L485.6,560.7 L489.2,608.5 L492.8,612.4 L496.4,581.6 L500.0,537.3 L503.6,559.7 L507.2,546.0 L510.8,481.2 L514.4,605.5 L518.0,609.5 L521.6,438.3 L525.2,386.6 L528.8,464.5 L532.4,503.5 L536.0,392.8 L539.6,557.8 L543.2,418.2 L546.8,416.5 L550.4,425.0 L554.0,492.3 L557.6,442.4 L561.2,424.1 L564.8,497.8 L568.4,572.0 L572.0,466.4 L575.6,482.5 L579.2,519.4 L582.8,549.1 L586.4,565.0 L590.0,606.8 L593.6,597.0 L597.2,586.6 L600.8,580.8 L604.4,556.4 L608.0,582.0 L611.6,597.0 L615.2,630.1 L618.8,623.9 L622.4,561.5 L626.0,573.0 L629.6,579.4 L633.2,580.8 L636.8,562.2 L640.4,607.2 L644.0,616.1 L647.6,567.4 L651.2,559.8 L654.8,513.9 L658.4,555.9 L662.0,531.2 L665.6,592.8 L669.2,609.6 L672.8,425.0 L676.4,512.9 L680.0,461.6 L683.6,535.5 L687.2,554.7 L690.8,583.7 L694.4,580.1 L698.0,566.0 L701.6,572.7 L705.2,571.5 L708.8,646.3 L712.4,641.3 L716.0,622.5 L719.6,608.0 L723.2,553.5 L726.8,510.3 L730.4,546.8 L734.0,575.3 L737.6,634.7 L741.2,621.3 L744.8,610.2 L748.4,569.3 L752.0,648.0 L755.6,569.8 L759.2,563.1 L762.8,591.7 L766.4,611.4 L770.0,588.6 L773.6,586.3 L777.2,584.3 L780.8,640.8 L784.4,644.7 L788.0,549.6 L791.6,597.1 L795.2,568.8 L798.8,523.6 L802.4,553.6 L806.0,567.8 L809.6,561.7 L813.2,574.2 L816.8,597.0 L820.4,568.6 L824.0,522.6 L827.6,541.3 L831.2,472.4 L834.8,509.9 L838.4,518.5 L842.0,580.8 L845.6,572.0 L849.2,581.0 L852.8,543.6 L856.4,559.4 L860.0,532.9 L863.6,544.1 L867.2,569.9 L870.8,600.8 L874.4,560.1 L878.0,571.0 L881.6,567.8 L885.2,525.0 L888.8,561.7 L892.5,598.2 L896.1,612.5 L899.7,548.7 L903.3,556.6 L906.9,567.4 L910.5,551.9 L914.1,617.6 L917.7,604.7 L921.3,601.3 L924.9,556.6 L928.5,533.5 L932.1,598.0 L935.7,644.7 L939.3,560.6 L942.9,598.0 L946.5,510.4 L950.1,518.0 L953.7,556.2 L957.3,564.1 L960.9,576.9 L964.5,598.6 L968.1,631.3 L971.7,618.3 L975.3,594.8 L978.9,576.0 L982.5,551.6 L986.1,576.2 L989.7,598.6 L993.3,625.2 L996.9,607.4 L1000.5,581.2 L1004.1,585.6 L1007.7,540.4 L1011.3,505.5 L1014.9,495.0 L1018.5,591.4 L1022.1,591.3 L1025.7,483.1 L1029.3,463.8 L1032.9,529.0 L1036.5,538.9 L1040.1,558.0 L1043.7,591.4 L1047.3,579.9 L1050.9,535.3 L1054.5,524.2 L1058.1,545.7 L1061.7,568.7 L1065.3,463.4 L1068.9,614.7 L1072.5,608.0 L1076.1,569.4 L1079.7,567.4 L1083.3,560.9 L1086.9,628.0 L1090.5,491.5 L1094.1,591.7 L1097.7,607.4 L1101.3,582.6 L1104.9,575.7 L1108.5,586.1 L1112.1,641.3 L1115.7,577.2 L1119.3,589.7 L1122.9,568.0 L1126.5,509.7 L1130.1,545.7 L1133.7,511.2 L1137.3,633.0 L1140.9,551.2 L1144.5,607.1 L1148.1,618.3 L1151.7,537.9 L1155.3,535.5 L1158.9,546.8 L1162.5,542.4 L1166.1,527.3 L1169.7,587.0 L1173.3,527.3 L1176.9,496.0 L1180.5,521.0" fill="none" stroke="#58bce0" stroke-width="1.5" stroke-linejoin="round"/>
<path d="M118.3,547.4 L121.9,535.2 L125.5,347.4 L129.1,502.5 L132.7,525.9 L136.3,580.9 L139.9,450.7 L143.5,354.9 L147.1,300.5 L150.7,332.1 L154.3,410.0 L157.9,479.2 L161.5,560.8 L165.1,554.4 L168.7,464.0 L172.3,464.4 L175.9,463.3 L179.5,393.9 L183.1,457.2 L186.7,563.7 L190.3,520.9 L193.9,440.8 L197.5,427.2 L201.1,485.4 L204.7,529.1 L208.3,545.3 L211.9,587.8 L215.5,555.0 L219.1,481.0 L222.7,479.4 L226.3,432.5 L229.9,286.8 L233.5,453.7 L237.1,579.2 L240.7,581.1 L244.3,433.5 L247.9,435.1 L251.5,498.7 L255.1,539.1 L258.7,595.9 L262.3,557.6 L265.9,465.4 L269.5,477.1 L273.1,517.1 L276.7,464.4 L280.3,383.4 L283.9,382.9 L287.5,554.3 L291.1,567.3 L294.7,503.3 L298.3,562.4 L301.9,577.3 L305.5,534.4 L309.1,543.8 L312.7,602.8 L316.3,598.8 L319.9,527.7 L323.5,580.4 L327.1,571.6 L330.7,553.8 L334.3,599.4 L337.9,606.8 L341.5,608.3 L345.1,489.5 L348.7,476.6 L352.3,473.8 L355.9,481.6 L359.5,491.6 L363.1,598.6 L366.7,605.3 L370.3,452.4 L373.9,517.7 L377.5,503.9 L381.1,500.4 L384.7,457.1 L388.3,545.3 L391.9,428.6 L395.5,314.4 L399.1,399.0 L402.7,472.4 L406.3,373.3 L409.9,532.4 L413.5,598.6 L417.1,615.3 L420.7,388.0 L424.3,513.0 L427.9,515.5 L431.5,547.2 L435.1,531.9 L438.7,581.0 L442.4,432.4 L446.0,310.9 L449.6,460.2 L453.2,523.9 L456.8,535.6 L460.4,507.3 L464.0,594.1 L467.6,587.5 L471.2,542.6 L474.8,543.8 L478.4,515.4 L482.0,553.8 L485.6,564.8 L489.2,611.0 L492.8,615.9 L496.4,584.2 L500.0,549.3 L503.6,569.7 L507.2,549.4 L510.8,493.0 L514.4,607.9 L518.0,612.8 L521.6,445.6 L525.2,421.3 L528.8,465.2 L532.4,504.2 L536.0,426.5 L539.6,569.9 L543.2,446.4 L546.8,445.5 L550.4,451.8 L554.0,497.5 L557.6,458.8 L561.2,449.3 L564.8,505.2 L568.4,596.7 L572.0,483.2 L575.6,491.4 L579.2,531.5 L582.8,556.9 L586.4,569.7 L590.0,609.9 L593.6,603.3 L597.2,594.6 L600.8,588.0 L604.4,566.1 L608.0,586.6 L611.6,602.1 L615.2,631.0 L618.8,624.6 L622.4,570.6 L626.0,580.5 L629.6,585.9 L633.2,586.8 L636.8,572.1 L640.4,610.0 L644.0,618.2 L647.6,573.4 L651.2,564.0 L654.8,523.2 L658.4,565.6 L662.0,544.5 L665.6,599.2 L669.2,613.7 L672.8,448.6 L676.4,527.9 L680.0,482.1 L683.6,543.1 L687.2,566.8 L690.8,584.1 L694.4,582.6 L698.0,573.0 L701.6,578.2 L705.2,576.8 L708.8,646.8 L712.4,641.8 L716.0,624.7 L719.6,608.4 L723.2,563.8 L726.8,524.8 L730.4,554.0 L734.0,579.7 L737.6,635.1 L741.2,621.8 L744.8,611.0 L748.4,577.8 L752.0,648.5 L755.6,576.0 L759.2,572.5 L762.8,598.4 L766.4,612.9 L770.0,592.0 L773.6,589.4 L777.2,590.2 L780.8,641.9 L784.4,645.1 L788.0,560.1 L791.6,597.8 L795.2,574.3 L798.8,533.9 L802.4,560.7 L806.0,573.6 L809.6,568.4 L813.2,580.1 L816.8,602.0 L820.4,572.0 L824.0,531.1 L827.6,550.2 L831.2,486.3 L834.8,522.5 L838.4,531.5 L842.0,585.6 L845.6,577.5 L849.2,584.7 L852.8,553.9 L856.4,567.9 L860.0,544.5 L863.6,555.3 L867.2,580.3 L870.8,605.6 L874.4,564.1 L878.0,576.9 L881.6,573.6 L885.2,534.9 L888.8,568.4 L892.5,603.9 L896.1,614.7 L899.7,556.3 L903.3,562.8 L906.9,573.3 L910.5,559.6 L914.1,620.2 L917.7,605.1 L921.3,601.8 L924.9,562.8 L928.5,540.6 L932.1,598.4 L935.7,645.1 L939.3,565.5 L942.9,598.4 L946.5,517.5 L950.1,530.1 L953.7,561.4 L957.3,571.1 L960.9,580.9 L964.5,602.0 L968.1,631.8 L971.7,619.7 L975.3,597.3 L978.9,580.3 L982.5,560.4 L986.1,580.4 L989.7,602.0 L993.3,626.5 L996.9,610.1 L1000.5,584.8 L1004.1,588.9 L1007.7,548.5 L1011.3,515.2 L1014.9,504.9 L1018.5,592.9 L1022.1,591.8 L1025.7,491.5 L1029.3,476.2 L1032.9,537.6 L1036.5,544.3 L1040.1,558.4 L1043.7,592.9 L1047.3,590.3 L1050.9,541.9 L1054.5,531.1 L1058.1,551.1 L1061.7,571.0 L1065.3,472.7 L1068.9,615.1 L1072.5,608.4 L1076.1,575.7 L1079.7,574.4 L1083.3,567.8 L1086.9,628.4 L1090.5,502.5 L1094.1,595.2 L1097.7,610.1 L1101.3,586.8 L1104.9,581.1 L1108.5,590.3 L1112.1,641.8 L1115.7,581.1 L1119.3,593.8 L1122.9,568.4 L1126.5,517.0 L1130.1,551.1 L1133.7,519.1 L1137.3,636.1 L1140.9,557.0 L1144.5,607.8 L1148.1,619.7 L1151.7,543.6 L1155.3,544.1 L1158.9,552.9 L1162.5,543.5 L1166.1,539.6 L1169.7,592.0 L1173.3,534.3 L1176.9,504.5 L1180.5,527.9 L1180.5,532.5 L1176.9,510.2 L1173.3,539.0 L1169.7,595.3 L1166.1,547.8 L1162.5,544.3 L1158.9,557.0 L1155.3,549.9 L1151.7,547.5 L1148.1,620.6 L1144.5,608.3 L1140.9,560.8 L1137.3,638.1 L1133.7,524.4 L1130.1,554.7 L1126.5,521.9 L1122.9,568.7 L1119.3,596.6 L1115.7,583.6 L1112.1,642.0 L1108.5,593.1 L1104.9,584.7 L1101.3,589.7 L1097.7,612.0 L1094.1,597.5 L1090.5,509.8 L1086.9,628.7 L1083.3,572.4 L1079.7,579.0 L1076.1,580.0 L1072.5,608.7 L1068.9,615.4 L1065.3,478.9 L1061.7,572.6 L1058.1,554.7 L1054.5,535.8 L1050.9,546.3 L1047.3,597.3 L1043.7,593.8 L1040.1,558.7 L1036.5,548.0 L1032.9,543.3 L1029.3,484.4 L1025.7,497.0 L1022.1,592.0 L1018.5,593.8 L1014.9,511.5 L1011.3,521.7 L1007.7,554.0 L1004.1,591.1 L1000.5,587.3 L996.9,612.0 L993.3,627.4 L989.7,604.3 L986.1,583.2 L982.5,566.3 L978.9,583.1 L975.3,599.0 L971.7,620.6 L968.1,632.0 L964.5,604.3 L960.9,583.5 L957.3,575.7 L953.7,564.9 L950.1,538.1 L946.5,522.2 L942.9,598.7 L939.3,568.8 L935.7,645.4 L932.1,598.7 L928.5,545.4 L924.9,566.9 L921.3,602.0 L917.7,605.4 L914.1,622.0 L910.5,564.7 L906.9,577.3 L903.3,566.9 L899.7,561.4 L896.1,616.1 L892.5,607.6 L888.8,572.8 L885.2,541.5 L881.6,577.5 L878.0,580.7 L874.4,566.8 L870.8,608.9 L867.2,587.3 L863.6,562.8 L860.0,552.2 L856.4,573.5 L852.8,560.8 L849.2,587.2 L845.6,581.2 L842.0,588.9 L838.4,540.2 L834.8,530.8 L831.2,495.5 L827.6,556.2 L824.0,536.8 L820.4,574.3 L816.8,605.3 L813.2,584.0 L809.6,572.8 L806.0,577.5 L802.4,565.5 L798.8,540.8 L795.2,577.9 L791.6,598.3 L788.0,567.1 L784.4,645.4 L780.8,642.7 L777.2,594.1 L773.6,591.4 L770.0,594.3 L766.4,613.8 L762.8,602.8 L759.2,578.8 L755.6,580.1 L752.0,648.8 L748.4,583.4 L744.8,611.5 L741.2,622.0 L737.6,635.4 L734.0,582.7 L730.4,558.8 L726.8,534.5 L723.2,570.7 L719.6,608.7 L716.0,626.1 L712.4,642.0 L708.8,647.0 L705.2,580.3 L701.6,581.9 L698.0,577.7 L694.4,584.3 L690.8,584.4 L687.2,574.8 L683.6,548.2 L680.0,495.8 L676.4,537.9 L672.8,464.3 L669.2,616.5 L665.6,603.4 L662.0,553.2 L658.4,571.9 L654.8,529.2 L651.2,566.7 L647.6,577.3 L644.0,619.6 L640.4,611.9 L636.8,578.4 L633.2,590.7 L629.6,590.0 L626.0,585.2 L622.4,576.3 L618.8,625.0 L615.2,631.5 L611.6,605.4 L608.0,589.5 L604.4,572.2 L600.8,592.5 L597.2,599.6 L593.6,607.1 L590.0,611.7 L586.4,572.6 L582.8,561.7 L579.2,538.9 L575.6,496.8 L572.0,493.4 L568.4,611.3 L564.8,509.6 L561.2,464.4 L557.6,468.5 L554.0,500.6 L550.4,467.7 L546.8,462.7 L543.2,463.1 L539.6,577.1 L536.0,446.5 L532.4,504.7 L528.8,465.7 L525.2,442.0 L521.6,449.9 L518.0,614.8 L514.4,609.3 L510.8,499.9 L507.2,551.4 L503.6,575.6 L500.0,556.3 L496.4,585.7 L492.8,617.9 L489.2,612.5 L485.6,567.1 L482.0,559.4 L478.4,522.5 L474.8,548.4 L471.2,546.6 L467.6,590.0 L464.0,598.6 L460.4,517.8 L456.8,546.6 L453.2,531.4 L449.6,461.9 L446.0,332.1 L442.4,437.4 L438.7,583.5 L435.1,540.0 L431.5,557.7 L427.9,522.7 L424.3,520.1 L420.7,406.0 L417.1,616.5 L413.5,599.8 L409.9,535.4 L406.3,400.6 L402.7,475.4 L399.1,413.8 L395.5,338.4 L391.9,429.8 L388.3,546.5 L384.7,464.6 L381.1,509.1 L377.5,512.5 L373.9,522.2 L370.3,468.2 L366.7,606.5 L363.1,599.8 L359.5,505.8 L355.9,494.4 L352.3,485.0 L348.7,485.3 L345.1,495.5 L341.5,610.9 L337.9,609.2 L334.3,600.3 L330.7,565.3 L327.1,571.9 L323.5,581.1 L319.9,540.9 L316.3,601.5 L312.7,605.5 L309.1,555.3 L305.5,542.7 L301.9,579.9 L298.3,564.4 L294.7,515.9 L291.1,574.8 L287.5,556.9 L283.9,398.8 L280.3,400.0 L276.7,479.6 L273.1,521.7 L269.5,491.5 L265.9,479.3 L262.3,563.0 L258.7,597.9 L255.1,545.0 L251.5,506.7 L247.9,451.1 L244.3,448.9 L240.7,584.5 L237.1,584.1 L233.5,457.3 L229.9,313.0 L226.3,437.4 L222.7,491.1 L219.1,493.3 L215.5,555.3 L211.9,590.2 L208.3,558.3 L204.7,538.0 L201.1,495.4 L197.5,438.6 L193.9,453.1 L190.3,527.3 L186.7,566.3 L183.1,469.6 L179.5,405.3 L175.9,471.9 L172.3,473.7 L168.7,474.4 L165.1,558.8 L161.5,566.3 L157.9,493.0 L154.3,426.4 L150.7,352.4 L147.1,317.8 L143.5,368.9 L139.9,460.1 L136.3,582.4 L132.7,529.8 L129.1,507.4 L125.5,364.6 L121.9,541.3 L118.3,553.8Z" fill="#434343" fill-opacity="0.6" stroke="none"/>
<path d="M118.3,547.4 L121.9,535.2 L125.5,347.4 L129.1,502.5 L132.7,525.9 L136.3,580.9 L139.9,450.7 L143.5,354.9 L147.1,300.5 L150.7,332.1 L154.3,410.0 L157.9,479.2 L161.5,560.8 L165.1,554.4 L168.7,464.0 L172.3,464.4 L175.9,463.3 L179.5,393.9 L183.1,457.2 L186.7,563.7 L190.3,520.9 L193.9,440.8 L197.5,427.2 L201.1,485.4 L204.7,529.1 L208.3,545.3 L211.9,587.8 L215.5,555.0 L219.1,481.0 L222.7,479.4 L226.3,432.5 L229.9,286.8 L233.5,453.7 L237.1,579.2 L240.7,581.1 L244.3,433.5 L247.9,435.1 L251.5,498.7 L255.1,539.1 L258.7,595.9 L262.3,557.6 L265.9,465.4 L269.5,477.1 L273.1,517.1 L276.7,464.4 L280.3,383.4 L283.9,382.9 L287.5,554.3 L291.1,567.3 L294.7,503.3 L298.3,562.4 L301.9,577.3 L305.5,534.4 L309.1,543.8 L312.7,602.8 L316.3,598.8 L319.9,527.7 L323.5,580.4 L327.1,571.6 L330.7,553.8 L334.3,599.4 L337.9,606.8 L341.5,608.3 L345.1,489.5 L348.7,476.6 L352.3,473.8 L355.9,481.6 L359.5,491.6 L363.1,598.6 L366.7,605.3 L370.3,452.4 L373.9,517.7 L377.5,503.9 L381.1,500.4 L384.7,457.1 L388.3,545.3 L391.9,428.6 L395.5,314.4 L399.1,399.0 L402.7,472.4 L406.3,373.3 L409.9,532.4 L413.5,598.6 L417.1,615.3 L420.7,388.0 L424.3,513.0 L427.9,515.5 L431.5,547.2 L435.1,531.9 L438.7,581.0 L442.4,432.4 L446.0,310.9 L449.6,460.2 L453.2,523.9 L456.8,535.6 L460.4,507.3 L464.0,594.1 L467.6,587.5 L471.2,542.6 L474.8,543.8 L478.4,515.4 L482.0,553.8 L485.6,564.8 L489.2,611.0 L492.8,615.9 L496.4,584.2 L500.0,549.3 L503.6,569.7 L507.2,549.4 L510.8,493.0 L514.4,607.9 L518.0,612.8 L521.6,445.6 L525.2,421.3 L528.8,465.2 L532.4,504.2 L536.0,426.5 L539.6,569.9 L543.2,446.4 L546.8,445.5 L550.4,451.8 L554.0,497.5 L557.6,458.8 L561.2,449.3 L564.8,505.2 L568.4,596.7 L572.0,483.2 L575.6,491.4 L579.2,531.5 L582.8,556.9 L586.4,569.7 L590.0,609.9 L593.6,603.3 L597.2,594.6 L600.8,588.0 L604.4,566.1 L608.0,586.6 L611.6,602.1 L615.2,631.0 L618.8,624.6 L622.4,570.6 L626.0,580.5 L629.6,585.9 L633.2,586.8 L636.8,572.1 L640.4,610.0 L644.0,618.2 L647.6,573.4 L651.2,564.0 L654.8,523.2 L658.4,565.6 L662.0,544.5 L665.6,599.2 L669.2,613.7 L672.8,448.6 L676.4,527.9 L680.0,482.1 L683.6,543.1 L687.2,566.8 L690.8,584.1 L694.4,582.6 L698.0,573.0 L701.6,578.2 L705.2,576.8 L708.8,646.8 L712.4,641.8 L716.0,624.7 L719.6,608.4 L723.2,563.8 L726.8,524.8 L730.4,554.0 L734.0,579.7 L737.6,635.1 L741.2,621.8 L744.8,611.0 L748.4,577.8 L752.0,648.5 L755.6,576.0 L759.2,572.5 L762.8,598.4 L766.4,612.9 L770.0,592.0 L773.6,589.4 L777.2,590.2 L780.8,641.9 L784.4,645.1 L788.0,560.1 L791.6,597.8 L795.2,574.3 L798.8,533.9 L802.4,560.7 L806.0,573.6 L809.6,568.4 L813.2,580.1 L816.8,602.0 L820.4,572.0 L824.0,531.1 L827.6,550.2 L831.2,486.3 L834.8,522.5 L838.4,531.5 L842.0,585.6 L845.6,577.5 L849.2,584.7 L852.8,553.9 L856.4,567.9 L860.0,544.5 L863.6,555.3 L867.2,580.3 L870.8,605.6 L874.4,564.1 L878.0,576.9 L881.6,573.6 L885.2,534.9 L888.8,568.4 L892.5,603.9 L896.1,614.7 L899.7,556.3 L903.3,562.8 L906.9,573.3 L910.5,559.6 L914.1,620.2 L917.7,605.1 L921.3,601.8 L924.9,562.8 L928.5,540.6 L932.1,598.4 L935.7,645.1 L939.3,565.5 L942.9,598.4 L946.5,517.5 L950.1,530.1 L953.7,561.4 L957.3,571.1 L960.9,580.9 L964.5,602.0 L968.1,631.8 L971.7,619.7 L975.3,597.3 L978.9,580.3 L982.5,560.4 L986.1,580.4 L989.7,602.0 L993.3,626.5 L996.9,610.1 L1000.5,584.8 L1004.1,588.9 L1007.7,548.5 L1011.3,515.2 L1014.9,504.9 L1018.5,592.9 L1022.1,591.8 L1025.7,491.5 L1029.3,476.2 L1032.9,537.6 L1036.5,544.3 L1040.1,558.4 L1043.7,592.9 L1047.3,590.3 L1050.9,541.9 L1054.5,531.1 L1058.1,551.1 L1061.7,571.0 L1065.3,472.7 L1068.9,615.1 L1072.5,608.4 L1076.1,575.7 L1079.7,574.4 L1083.3,567.8 L1086.9,628.4 L1090.5,502.5 L1094.1,595.2 L1097.7,610.1 L1101.3,586.8 L1104.9,581.1 L1108.5,590.3 L1112.1,641.8 L1115.7,581.1 L1119.3,593.8 L1122.9,568.4 L1126.5,517.0 L1130.1,551.1 L1133.7,519.1 L1137.3,636.1 L1140.9,557.0 L1144.5,607.8 L1148.1,619.7 L1151.7,543.6 L1155.3,544.1 L1158.9,552.9 L1162.5,543.5 L1166.1,539.6 L1169.7,592.0 L1173.3,534.3 L1176.9,504.5 L1180.5,527.9" fill="none" stroke="#111111" stroke-width="1.8" stroke-linejoin="round"/>
<path d="M118.3,553.8 L121.9,541.3 L125.5,364.6 L129.1,507.4 L132.7,529.8 L136.3,582.4 L139.9,460.1 L143.5,368.9 L147.1,317.8 L150.7,352.4 L154.3,426.4 L157.9,493.0 L161.5,566.3 L165.1,558.8 L168.7,474.4 L172.3,473.7 L175.9,471.9 L179.5,405.3 L183.1,469.6 L186.7,566.3 L190.3,527.3 L193.9,453.1 L197.5,438.6 L201.1,495.4 L204.7,538.0 L208.3,558.3 L211.9,590.2 L215.5,555.3 L219.1,493.3 L222.7,491.1 L226.3,437.4 L229.9,313.0 L233.5,457.3 L237.1,584.1 L240.7,584.5 L244.3,448.9 L247.9,451.1 L251.5,506.7 L255.1,545.0 L258.7,597.9 L262.3,563.0 L265.9,479.3 L269.5,491.5 L273.1,521.7 L276.7,479.6 L280.3,400.0 L283.9,398.8 L287.5,556.9 L291.1,574.8 L294.7,515.9 L298.3,564.4 L301.9,579.9 L305.5,542.7 L309.1,555.3 L312.7,605.5 L316.3,601.5 L319.9,540.9 L323.5,581.1 L327.1,571.9 L330.7,565.3 L334.3,600.3 L337.9,609.2 L341.5,610.9 L345.1,495.5 L348.7,485.3 L352.3,485.0 L355.9,494.4 L359.5,505.8 L363.1,599.8 L366.7,606.5 L370.3,468.2 L373.9,522.2 L377.5,512.5 L381.1,509.1 L384.7,464.6 L388.3,546.5 L391.9,429.8 L395.5,338.4 L399.1,413.8 L402.7,475.4 L406.3,400.6 L409.9,535.4 L413.5,599.8 L417.1,616.5 L420.7,406.0 L424.3,520.1 L427.9,522.7 L431.5,557.7 L435.1,540.0 L438.7,583.5 L442.4,437.4 L446.0,332.1 L449.6,461.9 L453.2,531.4 L456.8,546.6 L460.4,517.8 L464.0,598.6 L467.6,590.0 L471.2,546.6 L474.8,548.4 L478.4,522.5 L482.0,559.4 L485.6,567.1 L489.2,612.5 L492.8,617.9 L496.4,585.7 L500.0,556.3 L503.6,575.6 L507.2,551.4 L510.8,499.9 L514.4,609.3 L518.0,614.8 L521.6,449.9 L525.2,442.0 L528.8,465.7 L532.4,504.7 L536.0,446.5 L539.6,577.1 L543.2,463.1 L546.8,462.7 L550.4,467.7 L554.0,500.6 L557.6,468.5 L561.2,464.4 L564.8,509.6 L568.4,611.3 L572.0,493.4 L575.6,496.8 L579.2,538.9 L582.8,561.7 L586.4,572.6 L590.0,611.7 L593.6,607.1 L597.2,599.6 L600.8,592.5 L604.4,572.2 L608.0,589.5 L611.6,605.4 L615.2,631.5 L618.8,625.0 L622.4,576.3 L626.0,585.2 L629.6,590.0 L633.2,590.7 L636.8,578.4 L640.4,611.9 L644.0,619.6 L647.6,577.3 L651.2,566.7 L654.8,529.2 L658.4,571.9 L662.0,553.2 L665.6,603.4 L669.2,616.5 L672.8,464.3 L676.4,537.9 L680.0,495.8 L683.6,548.2 L687.2,574.8 L690.8,584.4 L694.4,584.3 L698.0,577.7 L701.6,581.9 L705.2,580.3 L708.8,647.0 L712.4,642.0 L716.0,626.1 L719.6,608.7 L723.2,570.7 L726.8,534.5 L730.4,558.8 L734.0,582.7 L737.6,635.4 L741.2,622.0 L744.8,611.5 L748.4,583.4 L752.0,648.8 L755.6,580.1 L759.2,578.8 L762.8,602.8 L766.4,613.8 L770.0,594.3 L773.6,591.4 L777.2,594.1 L780.8,642.7 L784.4,645.4 L788.0,567.1 L791.6,598.3 L795.2,577.9 L798.8,540.8 L802.4,565.5 L806.0,577.5 L809.6,572.8 L813.2,584.0 L816.8,605.3 L820.4,574.3 L824.0,536.8 L827.6,556.2 L831.2,495.5 L834.8,530.8 L838.4,540.2 L842.0,588.9 L845.6,581.2 L849.2,587.2 L852.8,560.8 L856.4,573.5 L860.0,552.2 L863.6,562.8 L867.2,587.3 L870.8,608.9 L874.4,566.8 L878.0,580.7 L881.6,577.5 L885.2,541.5 L888.8,572.8 L892.5,607.6 L896.1,616.1 L899.7,561.4 L903.3,566.9 L906.9,577.3 L910.5,564.7 L914.1,622.0 L917.7,605.4 L921.3,602.0 L924.9,566.9 L928.5,545.4 L932.1,598.7 L935.7,645.4 L939.3,568.8 L942.9,598.7 L946.5,522.2 L950.1,538.1 L953.7,564.9 L957.3,575.7 L960.9,583.5 L964.5,604.3 L968.1,632.0 L971.7,620.6 L975.3,599.0 L978.9,583.1 L982.5,566.3 L986.1,583.2 L989.7,604.3 L993.3,627.4 L996.9,612.0 L1000.5,587.3 L1004.1,591.1 L1007.7,554.0 L1011.3,521.7 L1014.9,511.5 L1018.5,593.8 L1022.1,592.0 L1025.7,497.0 L1029.3,484.4 L1032.9,543.3 L1036.5,548.0 L1040.1,558.7 L1043.7,593.8 L1047.3,597.3 L1050.9,546.3 L1054.5,535.8 L1058.1,554.7 L1061.7,572.6 L1065.3,478.9 L1068.9,615.4 L1072.5,608.7 L1076.1,580.0 L1079.7,579.0 L1083.3,572.4 L1086.9,628.7 L1090.5,509.8 L1094.1,597.5 L1097.7,612.0 L1101.3,589.7 L1104.9,584.7 L1108.5,593.1 L1112.1,642.0 L1115.7,583.6 L1119.3,596.6 L1122.9,568.7 L1126.5,521.9 L1130.1,554.7 L1133.7,524.4 L1137.3,638.1 L1140.9,560.8 L1144.5,608.3 L1148.1,620.6 L1151.7,547.5 L1155.3,549.9 L1158.9,557.0 L1162.5,544.3 L1166.1,547.8 L1169.7,595.3 L1173.3,539.0 L1176.9,510.2 L1180.5,532.5 L1180.5,542.7 L1176.9,522.7 L1173.3,549.3 L1169.7,602.7 L1166.1,566.0 L1162.5,546.0 L1158.9,566.0 L1155.3,562.7 L1151.7,556.0 L1148.1,622.7 L1144.5,609.3 L1140.9,569.3 L1137.3,642.7 L1133.7,536.0 L1130.1,562.7 L1126.5,532.7 L1122.9,569.3 L1119.3,602.7 L1115.7,589.3 L1112.1,642.7 L1108.5,599.3 L1104.9,592.7 L1101.3,596.0 L1097.7,616.0 L1094.1,602.7 L1090.5,526.0 L1086.9,629.3 L1083.3,582.7 L1079.7,589.3 L1076.1,589.3 L1072.5,609.3 L1068.9,616.0 L1065.3,492.7 L1061.7,576.0 L1058.1,562.7 L1054.5,546.0 L1050.9,556.0 L1047.3,612.7 L1043.7,596.0 L1040.1,559.3 L1036.5,556.0 L1032.9,556.0 L1029.3,502.7 L1025.7,509.3 L1022.1,592.7 L1018.5,596.0 L1014.9,526.0 L1011.3,536.0 L1007.7,566.0 L1004.1,596.0 L1000.5,592.7 L996.9,616.0 L993.3,629.3 L989.7,609.3 L986.1,589.3 L982.5,579.3 L978.9,589.3 L975.3,602.7 L971.7,622.7 L968.1,632.7 L964.5,609.3 L960.9,589.3 L957.3,586.0 L953.7,572.7 L950.1,556.0 L946.5,532.7 L942.9,599.3 L939.3,576.0 L935.7,646.0 L932.1,599.3 L928.5,556.0 L924.9,576.0 L921.3,602.7 L917.7,606.0 L914.1,626.0 L910.5,576.0 L906.9,586.0 L903.3,576.0 L899.7,572.7 L896.1,619.3 L892.5,616.0 L888.8,582.7 L885.2,556.0 L881.6,586.0 L878.0,589.3 L874.4,572.7 L870.8,616.0 L867.2,602.7 L863.6,579.3 L860.0,569.3 L856.4,586.0 L852.8,576.0 L849.2,592.7 L845.6,589.3 L842.0,596.0 L838.4,559.3 L834.8,549.3 L831.2,516.0 L827.6,569.3 L824.0,549.3 L820.4,579.3 L816.8,612.7 L813.2,592.7 L809.6,582.7 L806.0,586.0 L802.4,576.0 L798.8,556.0 L795.2,586.0 L791.6,599.3 L788.0,582.7 L784.4,646.0 L780.8,644.3 L777.2,602.7 L773.6,596.0 L770.0,599.3 L766.4,616.0 L762.8,612.7 L759.2,592.7 L755.6,589.3 L752.0,649.5 L748.4,596.0 L744.8,612.7 L741.2,622.7 L737.6,636.0 L734.0,589.3 L730.4,569.3 L726.8,556.0 L723.2,586.0 L719.6,609.3 L716.0,629.3 L712.4,642.7 L708.8,647.7 L705.2,588.0 L701.6,590.0 L698.0,588.0 L694.4,588.0 L690.8,585.0 L687.2,592.7 L683.6,559.3 L680.0,526.0 L676.4,560.0 L672.8,499.0 L669.2,622.7 L665.6,612.7 L662.0,572.7 L658.4,586.0 L654.8,542.7 L651.2,572.7 L647.6,586.0 L644.0,622.7 L640.4,616.0 L636.8,592.7 L633.2,599.3 L629.6,599.3 L626.0,596.0 L622.4,589.3 L618.8,626.0 L615.2,632.7 L611.6,612.7 L608.0,596.0 L604.4,586.0 L600.8,602.7 L597.2,611.0 L593.6,616.0 L590.0,616.0 L586.4,579.3 L582.8,572.7 L579.2,556.0 L575.6,509.3 L572.0,517.0 L568.4,622.7 L564.8,513.0 L561.2,476.0 L557.6,476.0 L554.0,503.0 L550.4,480.0 L546.8,476.0 L543.2,476.0 L539.6,582.7 L536.0,462.0 L532.4,505.0 L528.8,466.0 L525.2,458.0 L521.6,460.0 L518.0,619.3 L514.4,612.7 L510.8,516.0 L507.2,556.0 L503.6,589.3 L500.0,572.7 L496.4,589.3 L492.8,622.7 L489.2,616.0 L485.6,572.7 L482.0,572.7 L478.4,539.3 L474.8,559.3 L471.2,556.0 L467.6,596.0 L464.0,609.3 L460.4,542.7 L456.8,572.7 L453.2,549.3 L449.6,466.0 L446.0,382.7 L442.4,449.3 L438.7,589.3 L435.1,559.3 L431.5,582.7 L427.9,540.0 L424.3,537.0 L420.7,449.3 L417.1,619.3 L413.5,602.7 L409.9,542.7 L406.3,466.0 L402.7,482.7 L399.1,449.3 L395.5,396.0 L391.9,432.7 L388.3,549.3 L384.7,482.7 L381.1,530.0 L377.5,533.0 L373.9,533.0 L370.3,506.0 L366.7,609.3 L363.1,602.7 L359.5,540.0 L355.9,525.0 L352.3,512.0 L348.7,506.0 L345.1,510.0 L341.5,617.0 L337.9,615.0 L334.3,602.7 L330.7,592.7 L327.1,572.7 L323.5,582.7 L319.9,572.7 L316.3,608.0 L312.7,612.0 L309.1,582.7 L305.5,562.7 L301.9,586.0 L298.3,569.3 L294.7,546.0 L291.1,592.7 L287.5,563.0 L283.9,437.0 L280.3,440.0 L276.7,516.0 L273.1,532.7 L269.5,526.0 L265.9,512.7 L262.3,576.0 L258.7,602.7 L255.1,559.3 L251.5,526.0 L247.9,489.3 L244.3,486.0 L240.7,592.7 L237.1,596.0 L233.5,466.0 L229.9,376.0 L226.3,449.3 L222.7,519.3 L219.1,522.7 L215.5,556.0 L211.9,596.0 L208.3,589.3 L204.7,559.3 L201.1,519.3 L197.5,466.0 L193.9,482.7 L190.3,542.7 L186.7,572.7 L183.1,499.3 L179.5,432.7 L175.9,492.7 L172.3,496.0 L168.7,499.3 L165.1,569.3 L161.5,579.3 L157.9,526.0 L154.3,466.0 L150.7,401.0 L147.1,359.3 L143.5,402.7 L139.9,482.7 L136.3,586.0 L132.7,539.3 L129.1,519.3 L125.5,406.0 L121.9,556.0 L118.3,569.3Z" fill="#f08235" fill-opacity="0.6" stroke="none"/>
<path d="M118.3,553.8 L121.9,541.3 L125.5,364.6 L129.1,507.4 L132.7,529.8 L136.3,582.4 L139.9,460.1 L143.5,368.9 L147.1,317.8 L150.7,352.4 L154.3,426.4 L157.9,493.0 L161.5,566.3 L165.1,558.8 L168.7,474.4 L172.3,473.7 L175.9,471.9 L179.5,405.3 L183.1,469.6 L186.7,566.3 L190.3,527.3 L193.9,453.1 L197.5,438.6 L201.1,495.4 L204.7,538.0 L208.3,558.3 L211.9,590.2 L215.5,555.3 L219.1,493.3 L222.7,491.1 L226.3,437.4 L229.9,313.0 L233.5,457.3 L237.1,584.1 L240.7,584.5 L244.3,448.9 L247.9,451.1 L251.5,506.7 L255.1,545.0 L258.7,597.9 L262.3,563.0 L265.9,479.3 L269.5,491.5 L273.1,521.7 L276.7,479.6 L280.3,400.0 L283.9,398.8 L287.5,556.9 L291.1,574.8 L294.7,515.9 L298.3,564.4 L301.9,579.9 L305.5,542.7 L309.1,555.3 L312.7,605.5 L316.3,601.5 L319.9,540.9 L323.5,581.1 L327.1,571.9 L330.7,565.3 L334.3,600.3 L337.9,609.2 L341.5,610.9 L345.1,495.5 L348.7,485.3 L352.3,485.0 L355.9,494.4 L359.5,505.8 L363.1,599.8 L366.7,606.5 L370.3,468.2 L373.9,522.2 L377.5,512.5 L381.1,509.1 L384.7,464.6 L388.3,546.5 L391.9,429.8 L395.5,338.4 L399.1,413.8 L402.7,475.4 L406.3,400.6 L409.9,535.4 L413.5,599.8 L417.1,616.5 L420.7,406.0 L424.3,520.1 L427.9,522.7 L431.5,557.7 L435.1,540.0 L438.7,583.5 L442.4,437.4 L446.0,332.1 L449.6,461.9 L453.2,531.4 L456.8,546.6 L460.4,517.8 L464.0,598.6 L467.6,590.0 L471.2,546.6 L474.8,548.4 L478.4,522.5 L482.0,559.4 L485.6,567.1 L489.2,612.5 L492.8,617.9 L496.4,585.7 L500.0,556.3 L503.6,575.6 L507.2,551.4 L510.8,499.9 L514.4,609.3 L518.0,614.8 L521.6,449.9 L525.2,442.0 L528.8,465.7 L532.4,504.7 L536.0,446.5 L539.6,577.1 L543.2,463.1 L546.8,462.7 L550.4,467.7 L554.0,500.6 L557.6,468.5 L561.2,464.4 L564.8,509.6 L568.4,611.3 L572.0,493.4 L575.6,496.8 L579.2,538.9 L582.8,561.7 L586.4,572.6 L590.0,611.7 L593.6,607.1 L597.2,599.6 L600.8,592.5 L604.4,572.2 L608.0,589.5 L611.6,605.4 L615.2,631.5 L618.8,625.0 L622.4,576.3 L626.0,585.2 L629.6,590.0 L633.2,590.7 L636.8,578.4 L640.4,611.9 L644.0,619.6 L647.6,577.3 L651.2,566.7 L654.8,529.2 L658.4,571.9 L662.0,553.2 L665.6,603.4 L669.2,616.5 L672.8,464.3 L676.4,537.9 L680.0,495.8 L683.6,548.2 L687.2,574.8 L690.8,584.4 L694.4,584.3 L698.0,577.7 L701.6,581.9 L705.2,580.3 L708.8,647.0 L712.4,642.0 L716.0,626.1 L719.6,608.7 L723.2,570.7 L726.8,534.5 L730.4,558.8 L734.0,582.7 L737.6,635.4 L741.2,622.0 L744.8,611.5 L748.4,583.4 L752.0,648.8 L755.6,580.1 L759.2,578.8 L762.8,602.8 L766.4,613.8 L770.0,594.3 L773.6,591.4 L777.2,594.1 L780.8,642.7 L784.4,645.4 L788.0,567.1 L791.6,598.3 L795.2,577.9 L798.8,540.8 L802.4,565.5 L806.0,577.5 L809.6,572.8 L813.2,584.0 L816.8,605.3 L820.4,574.3 L824.0,536.8 L827.6,556.2 L831.2,495.5 L834.8,530.8 L838.4,540.2 L842.0,588.9 L845.6,581.2 L849.2,587.2 L852.8,560.8 L856.4,573.5 L860.0,552.2 L863.6,562.8 L867.2,587.3 L870.8,608.9 L874.4,566.8 L878.0,580.7 L881.6,577.5 L885.2,541.5 L888.8,572.8 L892.5,607.6 L896.1,616.1 L899.7,561.4 L903.3,566.9 L906.9,577.3 L910.5,564.7 L914.1,622.0 L917.7,605.4 L921.3,602.0 L924.9,566.9 L928.5,545.4 L932.1,598.7 L935.7,645.4 L939.3,568.8 L942.9,598.7 L946.5,522.2 L950.1,538.1 L953.7,564.9 L957.3,575.7 L960.9,583.5 L964.5,604.3 L968.1,632.0 L971.7,620.6 L975.3,599.0 L978.9,583.1 L982.5,566.3 L986.1,583.2 L989.7,604.3 L993.3,627.4 L996.9,612.0 L1000.5,587.3 L1004.1,591.1 L1007.7,554.0 L1011.3,521.7 L1014.9,511.5 L1018.5,593.8 L1022.1,592.0 L1025.7,497.0 L1029.3,484.4 L1032.9,543.3 L1036.5,548.0 L1040.1,558.7 L1043.7,593.8 L1047.3,597.3 L1050.9,546.3 L1054.5,535.8 L1058.1,554.7 L1061.7,572.6 L1065.3,478.9 L1068.9,615.4 L1072.5,608.7 L1076.1,580.0 L1079.7,579.0 L1083.3,572.4 L1086.9,628.7 L1090.5,509.8 L1094.1,597.5 L1097.7,612.0 L1101.3,589.7 L1104.9,584.7 L1108.5,593.1 L1112.1,642.0 L1115.7,583.6 L1119.3,596.6 L1122.9,568.7 L1126.5,521.9 L1130.1,554.7 L1133.7,524.4 L1137.3,638.1 L1140.9,560.8 L1144.5,608.3 L1148.1,620.6 L1151.7,547.5 L1155.3,549.9 L1158.9,557.0 L1162.5,544.3 L1166.1,547.8 L1169.7,595.3 L1173.3,539.0 L1176.9,510.2 L1180.5,532.5" fill="none" stroke="#ee8a40" stroke-width="1.5" stroke-linejoin="round"/>
<path d="M118.3,569.3 L121.9,556.0 L125.5,406.0 L129.1,519.3 L132.7,539.3 L136.3,586.0 L139.9,482.7 L143.5,402.7 L147.1,359.3 L150.7,401.0 L154.3,466.0 L157.9,526.0 L161.5,579.3 L165.1,569.3 L168.7,499.3 L172.3,496.0 L175.9,492.7 L179.5,432.7 L183.1,499.3 L186.7,572.7 L190.3,542.7 L193.9,482.7 L197.5,466.0 L201.1,519.3 L204.7,559.3 L208.3,589.3 L211.9,596.0 L215.5,556.0 L219.1,522.7 L222.7,519.3 L226.3,449.3 L229.9,376.0 L233.5,466.0 L237.1,596.0 L240.7,592.7 L244.3,486.0 L247.9,489.3 L251.5,526.0 L255.1,559.3 L258.7,602.7 L262.3,576.0 L265.9,512.7 L269.5,526.0 L273.1,532.7 L276.7,516.0 L280.3,440.0 L283.9,437.0 L287.5,563.0 L291.1,592.7 L294.7,546.0 L298.3,569.3 L301.9,586.0 L305.5,562.7 L309.1,582.7 L312.7,612.0 L316.3,608.0 L319.9,572.7 L323.5,582.7 L327.1,572.7 L330.7,592.7 L334.3,602.7 L337.9,615.0 L341.5,617.0 L345.1,510.0 L348.7,506.0 L352.3,512.0 L355.9,525.0 L359.5,540.0 L363.1,602.7 L366.7,609.3 L370.3,506.0 L373.9,533.0 L377.5,533.0 L381.1,530.0 L384.7,482.7 L388.3,549.3 L391.9,432.7 L395.5,396.0 L399.1,449.3 L402.7,482.7 L406.3,466.0 L409.9,542.7 L413.5,602.7 L417.1,619.3 L420.7,449.3 L424.3,537.0 L427.9,540.0 L431.5,582.7 L435.1,559.3 L438.7,589.3 L442.4,449.3 L446.0,382.7 L449.6,466.0 L453.2,549.3 L456.8,572.7 L460.4,542.7 L464.0,609.3 L467.6,596.0 L471.2,556.0 L474.8,559.3 L478.4,539.3 L482.0,572.7 L485.6,572.7 L489.2,616.0 L492.8,622.7 L496.4,589.3 L500.0,572.7 L503.6,589.3 L507.2,556.0 L510.8,516.0 L514.4,612.7 L518.0,619.3 L521.6,460.0 L525.2,458.0 L528.8,466.0 L532.4,505.0 L536.0,462.0 L539.6,582.7 L543.2,476.0 L546.8,476.0 L550.4,480.0 L554.0,503.0 L557.6,476.0 L561.2,476.0 L564.8,513.0 L568.4,622.7 L572.0,517.0 L575.6,509.3 L579.2,556.0 L582.8,572.7 L586.4,579.3 L590.0,616.0 L593.6,616.0 L597.2,611.0 L600.8,602.7 L604.4,586.0 L608.0,596.0 L611.6,612.7 L615.2,632.7 L618.8,626.0 L622.4,589.3 L626.0,596.0 L629.6,599.3 L633.2,599.3 L636.8,592.7 L640.4,616.0 L644.0,622.7 L647.6,586.0 L651.2,572.7 L654.8,542.7 L658.4,586.0 L662.0,572.7 L665.6,612.7 L669.2,622.7 L672.8,499.0 L676.4,560.0 L680.0,526.0 L683.6,559.3 L687.2,592.7 L690.8,585.0 L694.4,588.0 L698.0,588.0 L701.6,590.0 L705.2,588.0 L708.8,647.7 L712.4,642.7 L716.0,629.3 L719.6,609.3 L723.2,586.0 L726.8,556.0 L730.4,569.3 L734.0,589.3 L737.6,636.0 L741.2,622.7 L744.8,612.7 L748.4,596.0 L752.0,649.5 L755.6,589.3 L759.2,592.7 L762.8,612.7 L766.4,616.0 L770.0,599.3 L773.6,596.0 L777.2,602.7 L780.8,644.3 L784.4,646.0 L788.0,582.7 L791.6,599.3 L795.2,586.0 L798.8,556.0 L802.4,576.0 L806.0,586.0 L809.6,582.7 L813.2,592.7 L816.8,612.7 L820.4,579.3 L824.0,549.3 L827.6,569.3 L831.2,516.0 L834.8,549.3 L838.4,559.3 L842.0,596.0 L845.6,589.3 L849.2,592.7 L852.8,576.0 L856.4,586.0 L860.0,569.3 L863.6,579.3 L867.2,602.7 L870.8,616.0 L874.4,572.7 L878.0,589.3 L881.6,586.0 L885.2,556.0 L888.8,582.7 L892.5,616.0 L896.1,619.3 L899.7,572.7 L903.3,576.0 L906.9,586.0 L910.5,576.0 L914.1,626.0 L917.7,606.0 L921.3,602.7 L924.9,576.0 L928.5,556.0 L932.1,599.3 L935.7,646.0 L939.3,576.0 L942.9,599.3 L946.5,532.7 L950.1,556.0 L953.7,572.7 L957.3,586.0 L960.9,589.3 L964.5,609.3 L968.1,632.7 L971.7,622.7 L975.3,602.7 L978.9,589.3 L982.5,579.3 L986.1,589.3 L989.7,609.3 L993.3,629.3 L996.9,616.0 L1000.5,592.7 L1004.1,596.0 L1007.7,566.0 L1011.3,536.0 L1014.9,526.0 L1018.5,596.0 L1022.1,592.7 L1025.7,509.3 L1029.3,502.7 L1032.9,556.0 L1036.5,556.0 L1040.1,559.3 L1043.7,596.0 L1047.3,612.7 L1050.9,556.0 L1054.5,546.0 L1058.1,562.7 L1061.7,576.0 L1065.3,492.7 L1068.9,616.0 L1072.5,609.3 L1076.1,589.3 L1079.7,589.3 L1083.3,582.7 L1086.9,629.3 L1090.5,526.0 L1094.1,602.7 L1097.7,616.0 L1101.3,596.0 L1104.9,592.7 L1108.5,599.3 L1112.1,642.7 L1115.7,589.3 L1119.3,602.7 L1122.9,569.3 L1126.5,532.7 L1130.1,562.7 L1133.7,536.0 L1137.3,642.7 L1140.9,569.3 L1144.5,609.3 L1148.1,622.7 L1151.7,556.0 L1155.3,562.7 L1158.9,566.0 L1162.5,546.0 L1166.1,566.0 L1169.7,602.7 L1173.3,549.3 L1176.9,522.7 L1180.5,542.7 L1180.5,569.3 L1176.9,549.3 L1173.3,572.7 L1169.7,612.7 L1166.1,586.0 L1162.5,562.7 L1158.9,582.7 L1155.3,579.3 L1151.7,572.7 L1148.1,626.0 L1144.5,616.0 L1140.9,589.3 L1137.3,646.0 L1133.7,556.0 L1130.1,579.3 L1126.5,552.7 L1122.9,589.3 L1119.3,612.7 L1115.7,602.7 L1112.1,646.0 L1108.5,609.3 L1104.9,606.0 L1101.3,609.3 L1097.7,622.7 L1094.1,609.3 L1090.5,552.7 L1086.9,632.7 L1083.3,596.0 L1079.7,602.7 L1076.1,602.7 L1072.5,616.0 L1068.9,622.7 L1065.3,516.0 L1061.7,596.0 L1058.1,582.7 L1054.5,569.3 L1050.9,582.7 L1047.3,619.3 L1043.7,606.0 L1040.1,579.3 L1036.5,576.0 L1032.9,572.7 L1029.3,539.3 L1025.7,539.3 L1022.1,602.7 L1018.5,606.0 L1014.9,549.3 L1011.3,559.3 L1007.7,582.7 L1004.1,606.0 L1000.5,602.7 L996.9,622.7 L993.3,632.7 L989.7,619.3 L986.1,599.3 L982.5,592.7 L978.9,602.7 L975.3,612.7 L971.7,629.3 L968.1,636.0 L964.5,616.0 L960.9,599.3 L957.3,596.0 L953.7,579.3 L950.1,569.3 L946.5,566.0 L942.9,609.3 L939.3,592.7 L935.7,649.3 L932.1,606.0 L928.5,576.0 L924.9,589.3 L921.3,612.7 L917.7,612.7 L914.1,632.7 L910.5,586.0 L906.9,596.0 L903.3,586.0 L899.7,582.7 L896.1,626.0 L892.5,622.7 L888.8,596.0 L885.2,572.7 L881.6,602.7 L878.0,602.7 L874.4,586.0 L870.8,622.7 L867.2,612.7 L863.6,592.7 L860.0,586.0 L856.4,602.7 L852.8,589.3 L849.2,606.0 L845.6,599.3 L842.0,606.0 L838.4,576.0 L834.8,569.3 L831.2,546.0 L827.6,586.0 L824.0,572.7 L820.4,596.0 L816.8,619.3 L813.2,606.0 L809.6,596.0 L806.0,599.3 L802.4,592.7 L798.8,576.0 L795.2,602.7 L791.6,612.7 L788.0,599.3 L784.4,647.7 L780.8,646.0 L777.2,612.7 L773.6,609.3 L770.0,611.0 L766.4,622.7 L762.8,622.7 L759.2,609.3 L755.6,602.7 L752.0,651.0 L748.4,609.3 L744.8,619.3 L741.2,629.3 L737.6,639.3 L734.0,602.7 L730.4,586.0 L726.8,572.7 L723.2,599.3 L719.6,619.3 L716.0,636.0 L712.4,644.3 L708.8,649.3 L705.2,600.0 L701.6,602.0 L698.0,600.0 L694.4,600.0 L690.8,598.0 L687.2,602.7 L683.6,582.7 L680.0,542.7 L676.4,576.0 L672.8,522.7 L669.2,629.3 L665.6,619.3 L662.0,589.3 L658.4,599.3 L654.8,572.7 L651.2,589.3 L647.6,602.7 L644.0,629.3 L640.4,624.3 L636.8,604.3 L633.2,609.3 L629.6,609.3 L626.0,604.3 L622.4,599.3 L618.8,629.3 L615.2,636.0 L611.6,619.3 L608.0,606.0 L604.4,599.3 L600.8,612.7 L597.2,619.3 L593.6,626.0 L590.0,629.3 L586.4,599.3 L582.8,589.3 L579.2,572.7 L575.6,549.3 L572.0,576.0 L568.4,629.3 L564.8,572.7 L561.2,512.0 L557.6,515.0 L554.0,556.0 L550.4,518.0 L546.8,516.0 L543.2,516.0 L539.6,602.7 L536.0,505.0 L532.4,559.3 L528.8,522.7 L525.2,489.0 L521.6,500.0 L518.0,626.0 L514.4,622.7 L510.8,566.0 L507.2,586.0 L503.6,606.0 L500.0,596.0 L496.4,609.3 L492.8,629.3 L489.2,629.3 L485.6,597.7 L482.0,597.7 L478.4,579.3 L474.8,592.7 L471.2,589.3 L467.6,612.7 L464.0,622.7 L460.4,576.0 L456.8,596.0 L453.2,589.3 L449.6,526.0 L446.0,466.0 L442.4,516.0 L438.7,607.7 L435.1,582.7 L431.5,596.0 L427.9,589.3 L424.3,579.3 L420.7,522.7 L417.1,632.7 L413.5,619.3 L409.9,566.0 L406.3,529.3 L402.7,532.7 L399.1,499.3 L395.5,446.0 L391.9,482.7 L388.3,572.7 L384.7,542.7 L381.1,576.0 L377.5,579.3 L373.9,572.7 L370.3,559.3 L366.7,616.0 L363.1,617.7 L359.5,596.0 L355.9,574.3 L352.3,569.3 L348.7,562.0 L345.1,582.0 L341.5,629.0 L337.9,628.0 L334.3,609.3 L330.7,602.7 L327.1,622.0 L323.5,599.3 L319.9,580.0 L316.3,626.0 L312.7,630.0 L309.1,588.0 L305.5,592.0 L301.9,609.0 L298.3,596.0 L294.7,575.0 L291.1,606.0 L287.5,601.0 L283.9,511.0 L280.3,523.0 L276.7,533.0 L273.1,569.0 L269.5,553.0 L265.9,593.0 L262.3,616.0 L258.7,612.0 L255.1,583.0 L251.5,563.0 L247.9,539.0 L244.3,534.0 L240.7,616.0 L237.1,616.0 L233.5,516.0 L229.9,426.0 L226.3,496.0 L222.7,552.7 L219.1,556.0 L215.5,582.7 L211.9,609.3 L208.3,606.0 L204.7,582.7 L201.1,556.0 L197.5,522.7 L193.9,529.3 L190.3,572.7 L186.7,592.7 L183.1,536.0 L179.5,492.7 L175.9,544.3 L172.3,547.7 L168.7,547.7 L165.1,596.0 L161.5,599.3 L157.9,566.0 L154.3,526.0 L150.7,449.3 L147.1,429.3 L143.5,457.7 L139.9,516.0 L136.3,602.7 L132.7,566.0 L129.1,549.3 L125.5,441.0 L121.9,582.7 L118.3,591.0Z" fill="#f3ca46" fill-opacity="0.6" stroke="none"/>
<path d="M118.3,569.3 L121.9,556.0 L125.5,406.0 L129.1,519.3 L132.7,539.3 L136.3,586.0 L139.9,482.7 L143.5,402.7 L147.1,359.3 L150.7,401.0 L154.3,466.0 L157.9,526.0 L161.5,579.3 L165.1,569.3 L168.7,499.3 L172.3,496.0 L175.9,492.7 L179.5,432.7 L183.1,499.3 L186.7,572.7 L190.3,542.7 L193.9,482.7 L197.5,466.0 L201.1,519.3 L204.7,559.3 L208.3,589.3 L211.9,596.0 L215.5,556.0 L219.1,522.7 L222.7,519.3 L226.3,449.3 L229.9,376.0 L233.5,466.0 L237.1,596.0 L240.7,592.7 L244.3,486.0 L247.9,489.3 L251.5,526.0 L255.1,559.3 L258.7,602.7 L262.3,576.0 L265.9,512.7 L269.5,526.0 L273.1,532.7 L276.7,516.0 L280.3,440.0 L283.9,437.0 L287.5,563.0 L291.1,592.7 L294.7,546.0 L298.3,569.3 L301.9,586.0 L305.5,562.7 L309.1,582.7 L312.7,612.0 L316.3,608.0 L319.9,572.7 L323.5,582.7 L327.1,572.7 L330.7,592.7 L334.3,602.7 L337.9,615.0 L341.5,617.0 L345.1,510.0 L348.7,506.0 L352.3,512.0 L355.9,525.0 L359.5,540.0 L363.1,602.7 L366.7,609.3 L370.3,506.0 L373.9,533.0 L377.5,533.0 L381.1,530.0 L384.7,482.7 L388.3,549.3 L391.9,432.7 L395.5,396.0 L399.1,449.3 L402.7,482.7 L406.3,466.0 L409.9,542.7 L413.5,602.7 L417.1,619.3 L420.7,449.3 L424.3,537.0 L427.9,540.0 L431.5,582.7 L435.1,559.3 L438.7,589.3 L442.4,449.3 L446.0,382.7 L449.6,466.0 L453.2,549.3 L456.8,572.7 L460.4,542.7 L464.0,609.3 L467.6,596.0 L471.2,556.0 L474.8,559.3 L478.4,539.3 L482.0,572.7 L485.6,572.7 L489.2,616.0 L492.8,622.7 L496.4,589.3 L500.0,572.7 L503.6,589.3 L507.2,556.0 L510.8,516.0 L514.4,612.7 L518.0,619.3 L521.6,460.0 L525.2,458.0 L528.8,466.0 L532.4,505.0 L536.0,462.0 L539.6,582.7 L543.2,476.0 L546.8,476.0 L550.4,480.0 L554.0,503.0 L557.6,476.0 L561.2,476.0 L564.8,513.0 L568.4,622.7 L572.0,517.0 L575.6,509.3 L579.2,556.0 L582.8,572.7 L586.4,579.3 L590.0,616.0 L593.6,616.0 L597.2,611.0 L600.8,602.7 L604.4,586.0 L608.0,596.0 L611.6,612.7 L615.2,632.7 L618.8,626.0 L622.4,589.3 L626.0,596.0 L629.6,599.3 L633.2,599.3 L636.8,592.7 L640.4,616.0 L644.0,622.7 L647.6,586.0 L651.2,572.7 L654.8,542.7 L658.4,586.0 L662.0,572.7 L665.6,612.7 L669.2,622.7 L672.8,499.0 L676.4,560.0 L680.0,526.0 L683.6,559.3 L687.2,592.7 L690.8,585.0 L694.4,588.0 L698.0,588.0 L701.6,590.0 L705.2,588.0 L708.8,647.7 L712.4,642.7 L716.0,629.3 L719.6,609.3 L723.2,586.0 L726.8,556.0 L730.4,569.3 L734.0,589.3 L737.6,636.0 L741.2,622.7 L744.8,612.7 L748.4,596.0 L752.0,649.5 L755.6,589.3 L759.2,592.7 L762.8,612.7 L766.4,616.0 L770.0,599.3 L773.6,596.0 L777.2,602.7 L780.8,644.3 L784.4,646.0 L788.0,582.7 L791.6,599.3 L795.2,586.0 L798.8,556.0 L802.4,576.0 L806.0,586.0 L809.6,582.7 L813.2,592.7 L816.8,612.7 L820.4,579.3 L824.0,549.3 L827.6,569.3 L831.2,516.0 L834.8,549.3 L838.4,559.3 L842.0,596.0 L845.6,589.3 L849.2,592.7 L852.8,576.0 L856.4,586.0 L860.0,569.3 L863.6,579.3 L867.2,602.7 L870.8,616.0 L874.4,572.7 L878.0,589.3 L881.6,586.0 L885.2,556.0 L888.8,582.7 L892.5,616.0 L896.1,619.3 L899.7,572.7 L903.3,576.0 L906.9,586.0 L910.5,576.0 L914.1,626.0 L917.7,606.0 L921.3,602.7 L924.9,576.0 L928.5,556.0 L932.1,599.3 L935.7,646.0 L939.3,576.0 L942.9,599.3 L946.5,532.7 L950.1,556.0 L953.7,572.7 L957.3,586.0 L960.9,589.3 L964.5,609.3 L968.1,632.7 L971.7,622.7 L975.3,602.7 L978.9,589.3 L982.5,579.3 L986.1,589.3 L989.7,609.3 L993.3,629.3 L996.9,616.0 L1000.5,592.7 L1004.1,596.0 L1007.7,566.0 L1011.3,536.0 L1014.9,526.0 L1018.5,596.0 L1022.1,592.7 L1025.7,509.3 L1029.3,502.7 L1032.9,556.0 L1036.5,556.0 L1040.1,559.3 L1043.7,596.0 L1047.3,612.7 L1050.9,556.0 L1054.5,546.0 L1058.1,562.7 L1061.7,576.0 L1065.3,492.7 L1068.9,616.0 L1072.5,609.3 L1076.1,589.3 L1079.7,589.3 L1083.3,582.7 L1086.9,629.3 L1090.5,526.0 L1094.1,602.7 L1097.7,616.0 L1101.3,596.0 L1104.9,592.7 L1108.5,599.3 L1112.1,642.7 L1115.7,589.3 L1119.3,602.7 L1122.9,569.3 L1126.5,532.7 L1130.1,562.7 L1133.7,536.0 L1137.3,642.7 L1140.9,569.3 L1144.5,609.3 L1148.1,622.7 L1151.7,556.0 L1155.3,562.7 L1158.9,566.0 L1162.5,546.0 L1166.1,566.0 L1169.7,602.7 L1173.3,549.3 L1176.9,522.7 L1180.5,542.7" fill="none" stroke="#e8bc30" stroke-width="1.5" stroke-linejoin="round"/>
<path d="M118.3,591.0 L121.9,582.7 L125.5,441.0 L129.1,549.3 L132.7,566.0 L136.3,602.7 L139.9,516.0 L143.5,457.7 L147.1,429.3 L150.7,449.3 L154.3,526.0 L157.9,566.0 L161.5,599.3 L165.1,596.0 L168.7,547.7 L172.3,547.7 L175.9,544.3 L179.5,492.7 L183.1,536.0 L186.7,592.7 L190.3,572.7 L193.9,529.3 L197.5,522.7 L201.1,556.0 L204.7,582.7 L208.3,606.0 L211.9,609.3 L215.5,582.7 L219.1,556.0 L222.7,552.7 L226.3,496.0 L229.9,426.0 L233.5,516.0 L237.1,616.0 L240.7,616.0 L244.3,534.0 L247.9,539.0 L251.5,563.0 L255.1,583.0 L258.7,612.0 L262.3,616.0 L265.9,593.0 L269.5,553.0 L273.1,569.0 L276.7,533.0 L280.3,523.0 L283.9,511.0 L287.5,601.0 L291.1,606.0 L294.7,575.0 L298.3,596.0 L301.9,609.0 L305.5,592.0 L309.1,588.0 L312.7,630.0 L316.3,626.0 L319.9,580.0 L323.5,599.3 L327.1,622.0 L330.7,602.7 L334.3,609.3 L337.9,628.0 L341.5,629.0 L345.1,582.0 L348.7,562.0 L352.3,569.3 L355.9,574.3 L359.5,596.0 L363.1,617.7 L366.7,616.0 L370.3,559.3 L373.9,572.7 L377.5,579.3 L381.1,576.0 L384.7,542.7 L388.3,572.7 L391.9,482.7 L395.5,446.0 L399.1,499.3 L402.7,532.7 L406.3,529.3 L409.9,566.0 L413.5,619.3 L417.1,632.7 L420.7,522.7 L424.3,579.3 L427.9,589.3 L431.5,596.0 L435.1,582.7 L438.7,607.7 L442.4,516.0 L446.0,466.0 L449.6,526.0 L453.2,589.3 L456.8,596.0 L460.4,576.0 L464.0,622.7 L467.6,612.7 L471.2,589.3 L474.8,592.7 L478.4,579.3 L482.0,597.7 L485.6,597.7 L489.2,629.3 L492.8,629.3 L496.4,609.3 L500.0,596.0 L503.6,606.0 L507.2,586.0 L510.8,566.0 L514.4,622.7 L518.0,626.0 L521.6,500.0 L525.2,489.0 L528.8,522.7 L532.4,559.3 L536.0,505.0 L539.6,602.7 L543.2,516.0 L546.8,516.0 L550.4,518.0 L554.0,556.0 L557.6,515.0 L561.2,512.0 L564.8,572.7 L568.4,629.3 L572.0,576.0 L575.6,549.3 L579.2,572.7 L582.8,589.3 L586.4,599.3 L590.0,629.3 L593.6,626.0 L597.2,619.3 L600.8,612.7 L604.4,599.3 L608.0,606.0 L611.6,619.3 L615.2,636.0 L618.8,629.3 L622.4,599.3 L626.0,604.3 L629.6,609.3 L633.2,609.3 L636.8,604.3 L640.4,624.3 L644.0,629.3 L647.6,602.7 L651.2,589.3 L654.8,572.7 L658.4,599.3 L662.0,589.3 L665.6,619.3 L669.2,629.3 L672.8,522.7 L676.4,576.0 L680.0,542.7 L683.6,582.7 L687.2,602.7 L690.8,598.0 L694.4,600.0 L698.0,600.0 L701.6,602.0 L705.2,600.0 L708.8,649.3 L712.4,644.3 L716.0,636.0 L719.6,619.3 L723.2,599.3 L726.8,572.7 L730.4,586.0 L734.0,602.7 L737.6,639.3 L741.2,629.3 L744.8,619.3 L748.4,609.3 L752.0,651.0 L755.6,602.7 L759.2,609.3 L762.8,622.7 L766.4,622.7 L770.0,611.0 L773.6,609.3 L777.2,612.7 L780.8,646.0 L784.4,647.7 L788.0,599.3 L791.6,612.7 L795.2,602.7 L798.8,576.0 L802.4,592.7 L806.0,599.3 L809.6,596.0 L813.2,606.0 L816.8,619.3 L820.4,596.0 L824.0,572.7 L827.6,586.0 L831.2,546.0 L834.8,569.3 L838.4,576.0 L842.0,606.0 L845.6,599.3 L849.2,606.0 L852.8,589.3 L856.4,602.7 L860.0,586.0 L863.6,592.7 L867.2,612.7 L870.8,622.7 L874.4,586.0 L878.0,602.7 L881.6,602.7 L885.2,572.7 L888.8,596.0 L892.5,622.7 L896.1,626.0 L899.7,582.7 L903.3,586.0 L906.9,596.0 L910.5,586.0 L914.1,632.7 L917.7,612.7 L921.3,612.7 L924.9,589.3 L928.5,576.0 L932.1,606.0 L935.7,649.3 L939.3,592.7 L942.9,609.3 L946.5,566.0 L950.1,569.3 L953.7,579.3 L957.3,596.0 L960.9,599.3 L964.5,616.0 L968.1,636.0 L971.7,629.3 L975.3,612.7 L978.9,602.7 L982.5,592.7 L986.1,599.3 L989.7,619.3 L993.3,632.7 L996.9,622.7 L1000.5,602.7 L1004.1,606.0 L1007.7,582.7 L1011.3,559.3 L1014.9,549.3 L1018.5,606.0 L1022.1,602.7 L1025.7,539.3 L1029.3,539.3 L1032.9,572.7 L1036.5,576.0 L1040.1,579.3 L1043.7,606.0 L1047.3,619.3 L1050.9,582.7 L1054.5,569.3 L1058.1,582.7 L1061.7,596.0 L1065.3,516.0 L1068.9,622.7 L1072.5,616.0 L1076.1,602.7 L1079.7,602.7 L1083.3,596.0 L1086.9,632.7 L1090.5,552.7 L1094.1,609.3 L1097.7,622.7 L1101.3,609.3 L1104.9,606.0 L1108.5,609.3 L1112.1,646.0 L1115.7,602.7 L1119.3,612.7 L1122.9,589.3 L1126.5,552.7 L1130.1,579.3 L1133.7,556.0 L1137.3,646.0 L1140.9,589.3 L1144.5,616.0 L1148.1,626.0 L1151.7,572.7 L1155.3,579.3 L1158.9,582.7 L1162.5,562.7 L1166.1,586.0 L1169.7,612.7 L1173.3,572.7 L1176.9,549.3 L1180.5,569.3 L1180.5,612.7 L1176.9,601.0 L1173.3,612.7 L1169.7,629.3 L1166.1,617.7 L1162.5,611.0 L1158.9,619.3 L1155.3,616.0 L1151.7,609.3 L1148.1,636.0 L1144.5,632.7 L1140.9,616.0 L1137.3,649.3 L1133.7,597.7 L1130.1,611.0 L1126.5,592.7 L1122.9,616.0 L1119.3,632.7 L1115.7,626.0 L1112.1,652.7 L1108.5,626.0 L1104.9,622.7 L1101.3,629.3 L1097.7,636.0 L1094.1,629.3 L1090.5,594.3 L1086.9,642.7 L1083.3,616.0 L1079.7,619.3 L1076.1,622.7 L1072.5,634.3 L1068.9,636.0 L1065.3,574.3 L1061.7,619.3 L1058.1,609.3 L1054.5,597.7 L1050.9,616.0 L1047.3,636.0 L1043.7,629.3 L1040.1,607.7 L1036.5,609.3 L1032.9,609.3 L1029.3,582.7 L1025.7,586.0 L1022.1,631.0 L1018.5,629.3 L1014.9,601.0 L1011.3,602.7 L1007.7,616.0 L1004.1,626.0 L1000.5,622.7 L996.9,637.7 L993.3,644.3 L989.7,632.7 L986.1,619.3 L982.5,614.3 L978.9,621.0 L975.3,629.3 L971.7,639.3 L968.1,646.0 L964.5,629.3 L960.9,626.0 L957.3,626.0 L953.7,612.7 L950.1,594.3 L946.5,597.7 L942.9,629.3 L939.3,616.0 L935.7,652.7 L932.1,629.3 L928.5,607.7 L924.9,616.0 L921.3,632.7 L917.7,632.7 L914.1,646.0 L910.5,609.3 L906.9,614.3 L903.3,607.7 L899.7,609.3 L896.1,636.0 L892.5,634.3 L888.8,619.3 L885.2,604.3 L881.6,622.7 L878.0,622.7 L874.4,617.7 L870.8,636.0 L867.2,632.7 L863.6,616.0 L860.0,611.0 L856.4,619.3 L852.8,614.3 L849.2,624.3 L845.6,622.7 L842.0,626.0 L838.4,602.7 L834.8,602.7 L831.2,587.7 L827.6,614.3 L824.0,609.3 L820.4,621.0 L816.8,636.0 L813.2,626.0 L809.6,624.3 L806.0,626.0 L802.4,619.3 L798.8,611.0 L795.2,629.3 L791.6,632.7 L788.0,617.7 L784.4,651.0 L780.8,649.3 L777.2,631.0 L773.6,629.3 L770.0,636.0 L766.4,642.7 L762.8,637.7 L759.2,629.3 L755.6,626.0 L752.0,653.0 L748.4,622.7 L744.8,637.7 L741.2,639.3 L737.6,646.0 L734.0,621.0 L730.4,612.7 L726.8,601.0 L723.2,616.0 L719.6,632.7 L716.0,646.0 L712.4,649.3 L708.8,652.7 L705.2,626.0 L701.6,624.3 L698.0,621.0 L694.4,627.7 L690.8,621.0 L687.2,619.3 L683.6,607.7 L680.0,579.3 L676.4,604.3 L672.8,572.7 L669.2,641.0 L665.6,631.0 L662.0,612.7 L658.4,619.3 L654.8,599.3 L651.2,614.3 L647.6,614.3 L644.0,637.7 L640.4,634.3 L636.8,614.3 L633.2,621.0 L629.6,621.0 L626.0,616.0 L622.4,611.0 L618.8,641.0 L615.2,645.3 L611.6,632.7 L608.0,622.7 L604.4,616.0 L600.8,624.3 L597.2,629.3 L593.6,634.3 L590.0,636.0 L586.4,619.3 L582.8,616.0 L579.2,609.3 L575.6,589.3 L572.0,609.3 L568.4,636.0 L564.8,606.0 L561.2,576.0 L557.6,587.7 L554.0,591.0 L550.4,572.7 L546.8,564.3 L543.2,579.3 L539.6,619.3 L536.0,556.0 L532.4,591.0 L528.8,569.3 L525.2,552.7 L521.6,592.7 L518.0,632.7 L514.4,631.0 L510.8,592.7 L507.2,611.0 L503.6,624.3 L500.0,616.0 L496.4,627.7 L492.8,639.3 L489.2,637.7 L485.6,616.0 L482.0,616.0 L478.4,601.0 L474.8,614.3 L471.2,614.3 L467.6,629.3 L464.0,634.3 L460.4,601.0 L456.8,611.0 L453.2,606.0 L449.6,576.0 L446.0,542.7 L442.4,582.7 L438.7,629.3 L435.1,606.0 L431.5,612.7 L427.9,602.7 L424.3,599.3 L420.7,552.7 L417.1,636.0 L413.5,634.3 L409.9,596.0 L406.3,559.3 L402.7,572.7 L399.1,546.0 L395.5,509.3 L391.9,542.7 L388.3,602.7 L384.7,581.0 L381.1,596.0 L377.5,601.0 L373.9,602.7 L370.3,582.7 L366.7,636.0 L363.1,639.3 L359.5,621.0 L355.9,599.3 L352.3,592.0 L348.7,592.7 L345.1,609.0 L341.5,638.0 L337.9,637.0 L334.3,626.0 L330.7,613.0 L327.1,633.0 L323.5,621.0 L319.9,607.0 L316.3,633.0 L312.7,636.0 L309.1,614.0 L305.5,622.0 L301.9,629.0 L298.3,616.0 L294.7,605.0 L291.1,627.0 L287.5,622.0 L283.9,569.0 L280.3,574.0 L276.7,576.0 L273.1,604.0 L269.5,591.0 L265.9,603.0 L262.3,631.0 L258.7,616.0 L255.1,609.0 L251.5,599.0 L247.9,579.0 L244.3,574.0 L240.7,628.0 L237.1,629.0 L233.5,559.3 L229.9,506.0 L226.3,547.7 L222.7,587.7 L219.1,584.3 L215.5,619.3 L211.9,624.3 L208.3,607.7 L204.7,606.0 L201.1,586.0 L197.5,562.7 L193.9,569.3 L190.3,606.0 L186.7,616.0 L183.1,579.3 L179.5,554.3 L175.9,588.7 L172.3,588.7 L168.7,589.3 L165.1,616.0 L161.5,621.0 L157.9,592.7 L154.3,574.3 L150.7,536.0 L147.1,519.3 L143.5,521.0 L139.9,572.7 L136.3,627.7 L132.7,597.7 L129.1,589.3 L125.5,519.3 L121.9,607.7 L118.3,612.7Z" fill="#9d9baa" fill-opacity="0.6" stroke="none"/>
<path d="M118.3,591.0 L121.9,582.7 L125.5,441.0 L129.1,549.3 L132.7,566.0 L136.3,602.7 L139.9,516.0 L143.5,457.7 L147.1,429.3 L150.7,449.3 L154.3,526.0 L157.9,566.0 L161.5,599.3 L165.1,596.0 L168.7,547.7 L172.3,547.7 L175.9,544.3 L179.5,492.7 L183.1,536.0 L186.7,592.7 L190.3,572.7 L193.9,529.3 L197.5,522.7 L201.1,556.0 L204.7,582.7 L208.3,606.0 L211.9,609.3 L215.5,582.7 L219.1,556.0 L222.7,552.7 L226.3,496.0 L229.9,426.0 L233.5,516.0 L237.1,616.0 L240.7,616.0 L244.3,534.0 L247.9,539.0 L251.5,563.0 L255.1,583.0 L258.7,612.0 L262.3,616.0 L265.9,593.0 L269.5,553.0 L273.1,569.0 L276.7,533.0 L280.3,523.0 L283.9,511.0 L287.5,601.0 L291.1,606.0 L294.7,575.0 L298.3,596.0 L301.9,609.0 L305.5,592.0 L309.1,588.0 L312.7,630.0 L316.3,626.0 L319.9,580.0 L323.5,599.3 L327.1,622.0 L330.7,602.7 L334.3,609.3 L337.9,628.0 L341.5,629.0 L345.1,582.0 L348.7,562.0 L352.3,569.3 L355.9,574.3 L359.5,596.0 L363.1,617.7 L366.7,616.0 L370.3,559.3 L373.9,572.7 L377.5,579.3 L381.1,576.0 L384.7,542.7 L388.3,572.7 L391.9,482.7 L395.5,446.0 L399.1,499.3 L402.7,532.7 L406.3,529.3 L409.9,566.0 L413.5,619.3 L417.1,632.7 L420.7,522.7 L424.3,579.3 L427.9,589.3 L431.5,596.0 L435.1,582.7 L438.7,607.7 L442.4,516.0 L446.0,466.0 L449.6,526.0 L453.2,589.3 L456.8,596.0 L460.4,576.0 L464.0,622.7 L467.6,612.7 L471.2,589.3 L474.8,592.7 L478.4,579.3 L482.0,597.7 L485.6,597.7 L489.2,629.3 L492.8,629.3 L496.4,609.3 L500.0,596.0 L503.6,606.0 L507.2,586.0 L510.8,566.0 L514.4,622.7 L518.0,626.0 L521.6,500.0 L525.2,489.0 L528.8,522.7 L532.4,559.3 L536.0,505.0 L539.6,602.7 L543.2,516.0 L546.8,516.0 L550.4,518.0 L554.0,556.0 L557.6,515.0 L561.2,512.0 L564.8,572.7 L568.4,629.3 L572.0,576.0 L575.6,549.3 L579.2,572.7 L582.8,589.3 L586.4,599.3 L590.0,629.3 L593.6,626.0 L597.2,619.3 L600.8,612.7 L604.4,599.3 L608.0,606.0 L611.6,619.3 L615.2,636.0 L618.8,629.3 L622.4,599.3 L626.0,604.3 L629.6,609.3 L633.2,609.3 L636.8,604.3 L640.4,624.3 L644.0,629.3 L647.6,602.7 L651.2,589.3 L654.8,572.7 L658.4,599.3 L662.0,589.3 L665.6,619.3 L669.2,629.3 L672.8,522.7 L676.4,576.0 L680.0,542.7 L683.6,582.7 L687.2,602.7 L690.8,598.0 L694.4,600.0 L698.0,600.0 L701.6,602.0 L705.2,600.0 L708.8,649.3 L712.4,644.3 L716.0,636.0 L719.6,619.3 L723.2,599.3 L726.8,572.7 L730.4,586.0 L734.0,602.7 L737.6,639.3 L741.2,629.3 L744.8,619.3 L748.4,609.3 L752.0,651.0 L755.6,602.7 L759.2,609.3 L762.8,622.7 L766.4,622.7 L770.0,611.0 L773.6,609.3 L777.2,612.7 L780.8,646.0 L784.4,647.7 L788.0,599.3 L791.6,612.7 L795.2,602.7 L798.8,576.0 L802.4,592.7 L806.0,599.3 L809.6,596.0 L813.2,606.0 L816.8,619.3 L820.4,596.0 L824.0,572.7 L827.6,586.0 L831.2,546.0 L834.8,569.3 L838.4,576.0 L842.0,606.0 L845.6,599.3 L849.2,606.0 L852.8,589.3 L856.4,602.7 L860.0,586.0 L863.6,592.7 L867.2,612.7 L870.8,622.7 L874.4,586.0 L878.0,602.7 L881.6,602.7 L885.2,572.7 L888.8,596.0 L892.5,622.7 L896.1,626.0 L899.7,582.7 L903.3,586.0 L906.9,596.0 L910.5,586.0 L914.1,632.7 L917.7,612.7 L921.3,612.7 L924.9,589.3 L928.5,576.0 L932.1,606.0 L935.7,649.3 L939.3,592.7 L942.9,609.3 L946.5,566.0 L950.1,569.3 L953.7,579.3 L957.3,596.0 L960.9,599.3 L964.5,616.0 L968.1,636.0 L971.7,629.3 L975.3,612.7 L978.9,602.7 L982.5,592.7 L986.1,599.3 L989.7,619.3 L993.3,632.7 L996.9,622.7 L1000.5,602.7 L1004.1,606.0 L1007.7,582.7 L1011.3,559.3 L1014.9,549.3 L1018.5,606.0 L1022.1,602.7 L1025.7,539.3 L1029.3,539.3 L1032.9,572.7 L1036.5,576.0 L1040.1,579.3 L1043.7,606.0 L1047.3,619.3 L1050.9,582.7 L1054.5,569.3 L1058.1,582.7 L1061.7,596.0 L1065.3,516.0 L1068.9,622.7 L1072.5,616.0 L1076.1,602.7 L1079.7,602.7 L1083.3,596.0 L1086.9,632.7 L1090.5,552.7 L1094.1,609.3 L1097.7,622.7 L1101.3,609.3 L1104.9,606.0 L1108.5,609.3 L1112.1,646.0 L1115.7,602.7 L1119.3,612.7 L1122.9,589.3 L1126.5,552.7 L1130.1,579.3 L1133.7,556.0 L1137.3,646.0 L1140.9,589.3 L1144.5,616.0 L1148.1,626.0 L1151.7,572.7 L1155.3,579.3 L1158.9,582.7 L1162.5,562.7 L1166.1,586.0 L1169.7,612.7 L1173.3,572.7 L1176.9,549.3 L1180.5,569.3" fill="none" stroke="#858392" stroke-width="1.5" stroke-linejoin="round"/>
<path d="M118.3,612.7 L121.9,607.7 L125.5,519.3 L129.1,589.3 L132.7,597.7 L136.3,627.7 L139.9,572.7 L143.5,521.0 L147.1,519.3 L150.7,536.0 L154.3,574.3 L157.9,592.7 L161.5,621.0 L165.1,616.0 L168.7,589.3 L172.3,588.7 L175.9,588.7 L179.5,554.3 L183.1,579.3 L186.7,616.0 L190.3,606.0 L193.9,569.3 L197.5,562.7 L201.1,586.0 L204.7,606.0 L208.3,607.7 L211.9,624.3 L215.5,619.3 L219.1,584.3 L222.7,587.7 L226.3,547.7 L229.9,506.0 L233.5,559.3 L237.1,629.0 L240.7,628.0 L244.3,574.0 L247.9,579.0 L251.5,599.0 L255.1,609.0 L258.7,616.0 L262.3,631.0 L265.9,603.0 L269.5,591.0 L273.1,604.0 L276.7,576.0 L280.3,574.0 L283.9,569.0 L287.5,622.0 L291.1,627.0 L294.7,605.0 L298.3,616.0 L301.9,629.0 L305.5,622.0 L309.1,614.0 L312.7,636.0 L316.3,633.0 L319.9,607.0 L323.5,621.0 L327.1,633.0 L330.7,613.0 L334.3,626.0 L337.9,637.0 L341.5,638.0 L345.1,609.0 L348.7,592.7 L352.3,592.0 L355.9,599.3 L359.5,621.0 L363.1,639.3 L366.7,636.0 L370.3,582.7 L373.9,602.7 L377.5,601.0 L381.1,596.0 L384.7,581.0 L388.3,602.7 L391.9,542.7 L395.5,509.3 L399.1,546.0 L402.7,572.7 L406.3,559.3 L409.9,596.0 L413.5,634.3 L417.1,636.0 L420.7,552.7 L424.3,599.3 L427.9,602.7 L431.5,612.7 L435.1,606.0 L438.7,629.3 L442.4,582.7 L446.0,542.7 L449.6,576.0 L453.2,606.0 L456.8,611.0 L460.4,601.0 L464.0,634.3 L467.6,629.3 L471.2,614.3 L474.8,614.3 L478.4,601.0 L482.0,616.0 L485.6,616.0 L489.2,637.7 L492.8,639.3 L496.4,627.7 L500.0,616.0 L503.6,624.3 L507.2,611.0 L510.8,592.7 L514.4,631.0 L518.0,632.7 L521.6,592.7 L525.2,552.7 L528.8,569.3 L532.4,591.0 L536.0,556.0 L539.6,619.3 L543.2,579.3 L546.8,564.3 L550.4,572.7 L554.0,591.0 L557.6,587.7 L561.2,576.0 L564.8,606.0 L568.4,636.0 L572.0,609.3 L575.6,589.3 L579.2,609.3 L582.8,616.0 L586.4,619.3 L590.0,636.0 L593.6,634.3 L597.2,629.3 L600.8,624.3 L604.4,616.0 L608.0,622.7 L611.6,632.7 L615.2,645.3 L618.8,641.0 L622.4,611.0 L626.0,616.0 L629.6,621.0 L633.2,621.0 L636.8,614.3 L640.4,634.3 L644.0,637.7 L647.6,614.3 L651.2,614.3 L654.8,599.3 L658.4,619.3 L662.0,612.7 L665.6,631.0 L669.2,641.0 L672.8,572.7 L676.4,604.3 L680.0,579.3 L683.6,607.7 L687.2,619.3 L690.8,621.0 L694.4,627.7 L698.0,621.0 L701.6,624.3 L705.2,626.0 L708.8,652.7 L712.4,649.3 L716.0,646.0 L719.6,632.7 L723.2,616.0 L726.8,601.0 L730.4,612.7 L734.0,621.0 L737.6,646.0 L741.2,639.3 L744.8,637.7 L748.4,622.7 L752.0,653.0 L755.6,626.0 L759.2,629.3 L762.8,637.7 L766.4,642.7 L770.0,636.0 L773.6,629.3 L777.2,631.0 L780.8,649.3 L784.4,651.0 L788.0,617.7 L791.6,632.7 L795.2,629.3 L798.8,611.0 L802.4,619.3 L806.0,626.0 L809.6,624.3 L813.2,626.0 L816.8,636.0 L820.4,621.0 L824.0,609.3 L827.6,614.3 L831.2,587.7 L834.8,602.7 L838.4,602.7 L842.0,626.0 L845.6,622.7 L849.2,624.3 L852.8,614.3 L856.4,619.3 L860.0,611.0 L863.6,616.0 L867.2,632.7 L870.8,636.0 L874.4,617.7 L878.0,622.7 L881.6,622.7 L885.2,604.3 L888.8,619.3 L892.5,634.3 L896.1,636.0 L899.7,609.3 L903.3,607.7 L906.9,614.3 L910.5,609.3 L914.1,646.0 L917.7,632.7 L921.3,632.7 L924.9,616.0 L928.5,607.7 L932.1,629.3 L935.7,652.7 L939.3,616.0 L942.9,629.3 L946.5,597.7 L950.1,594.3 L953.7,612.7 L957.3,626.0 L960.9,626.0 L964.5,629.3 L968.1,646.0 L971.7,639.3 L975.3,629.3 L978.9,621.0 L982.5,614.3 L986.1,619.3 L989.7,632.7 L993.3,644.3 L996.9,637.7 L1000.5,622.7 L1004.1,626.0 L1007.7,616.0 L1011.3,602.7 L1014.9,601.0 L1018.5,629.3 L1022.1,631.0 L1025.7,586.0 L1029.3,582.7 L1032.9,609.3 L1036.5,609.3 L1040.1,607.7 L1043.7,629.3 L1047.3,636.0 L1050.9,616.0 L1054.5,597.7 L1058.1,609.3 L1061.7,619.3 L1065.3,574.3 L1068.9,636.0 L1072.5,634.3 L1076.1,622.7 L1079.7,619.3 L1083.3,616.0 L1086.9,642.7 L1090.5,594.3 L1094.1,629.3 L1097.7,636.0 L1101.3,629.3 L1104.9,622.7 L1108.5,626.0 L1112.1,652.7 L1115.7,626.0 L1119.3,632.7 L1122.9,616.0 L1126.5,592.7 L1130.1,611.0 L1133.7,597.7 L1137.3,649.3 L1140.9,616.0 L1144.5,632.7 L1148.1,636.0 L1151.7,609.3 L1155.3,616.0 L1158.9,619.3 L1162.5,611.0 L1166.1,617.7 L1169.7,629.3 L1173.3,612.7 L1176.9,601.0 L1180.5,612.7 L1180.5,656.0 L1176.9,656.0 L1173.3,656.0 L1169.7,656.0 L1166.1,656.0 L1162.5,656.0 L1158.9,656.0 L1155.3,656.0 L1151.7,656.0 L1148.1,656.0 L1144.5,656.0 L1140.9,656.0 L1137.3,656.0 L1133.7,656.0 L1130.1,656.0 L1126.5,656.0 L1122.9,656.0 L1119.3,656.0 L1115.7,656.0 L1112.1,656.0 L1108.5,656.0 L1104.9,656.0 L1101.3,656.0 L1097.7,656.0 L1094.1,656.0 L1090.5,656.0 L1086.9,656.0 L1083.3,656.0 L1079.7,656.0 L1076.1,656.0 L1072.5,656.0 L1068.9,656.0 L1065.3,656.0 L1061.7,656.0 L1058.1,656.0 L1054.5,656.0 L1050.9,656.0 L1047.3,656.0 L1043.7,656.0 L1040.1,656.0 L1036.5,656.0 L1032.9,656.0 L1029.3,656.0 L1025.7,656.0 L1022.1,656.0 L1018.5,656.0 L1014.9,656.0 L1011.3,656.0 L1007.7,656.0 L1004.1,656.0 L1000.5,656.0 L996.9,656.0 L993.3,656.0 L989.7,656.0 L986.1,656.0 L982.5,656.0 L978.9,656.0 L975.3,656.0 L971.7,656.0 L968.1,656.0 L964.5,656.0 L960.9,656.0 L957.3,656.0 L953.7,656.0 L950.1,656.0 L946.5,656.0 L942.9,656.0 L939.3,656.0 L935.7,656.0 L932.1,656.0 L928.5,656.0 L924.9,656.0 L921.3,656.0 L917.7,656.0 L914.1,656.0 L910.5,656.0 L906.9,656.0 L903.3,656.0 L899.7,656.0 L896.1,656.0 L892.5,656.0 L888.8,656.0 L885.2,656.0 L881.6,656.0 L878.0,656.0 L874.4,656.0 L870.8,656.0 L867.2,656.0 L863.6,656.0 L860.0,656.0 L856.4,656.0 L852.8,656.0 L849.2,656.0 L845.6,656.0 L842.0,656.0 L838.4,656.0 L834.8,656.0 L831.2,656.0 L827.6,656.0 L824.0,656.0 L820.4,656.0 L816.8,656.0 L813.2,656.0 L809.6,656.0 L806.0,656.0 L802.4,656.0 L798.8,656.0 L795.2,656.0 L791.6,656.0 L788.0,656.0 L784.4,656.0 L780.8,656.0 L777.2,656.0 L773.6,656.0 L770.0,656.0 L766.4,656.0 L762.8,656.0 L759.2,656.0 L755.6,656.0 L752.0,656.0 L748.4,656.0 L744.8,656.0 L741.2,656.0 L737.6,656.0 L734.0,656.0 L730.4,656.0 L726.8,656.0 L723.2,656.0 L719.6,656.0 L716.0,656.0 L712.4,656.0 L708.8,656.0 L705.2,656.0 L701.6,656.0 L698.0,656.0 L694.4,656.0 L690.8,656.0 L687.2,656.0 L683.6,656.0 L680.0,656.0 L676.4,656.0 L672.8,656.0 L669.2,656.0 L665.6,656.0 L662.0,656.0 L658.4,656.0 L654.8,656.0 L651.2,656.0 L647.6,656.0 L644.0,656.0 L640.4,656.0 L636.8,656.0 L633.2,656.0 L629.6,656.0 L626.0,656.0 L622.4,656.0 L618.8,656.0 L615.2,656.0 L611.6,656.0 L608.0,656.0 L604.4,656.0 L600.8,656.0 L597.2,656.0 L593.6,656.0 L590.0,656.0 L586.4,656.0 L582.8,656.0 L579.2,656.0 L575.6,656.0 L572.0,656.0 L568.4,656.0 L564.8,656.0 L561.2,656.0 L557.6,656.0 L554.0,656.0 L550.4,656.0 L546.8,656.0 L543.2,656.0 L539.6,656.0 L536.0,656.0 L532.4,656.0 L528.8,656.0 L525.2,656.0 L521.6,656.0 L518.0,656.0 L514.4,656.0 L510.8,656.0 L507.2,656.0 L503.6,656.0 L500.0,656.0 L496.4,656.0 L492.8,656.0 L489.2,656.0 L485.6,656.0 L482.0,656.0 L478.4,656.0 L474.8,656.0 L471.2,656.0 L467.6,656.0 L464.0,656.0 L460.4,656.0 L456.8,656.0 L453.2,656.0 L449.6,656.0 L446.0,656.0 L442.4,656.0 L438.7,656.0 L435.1,656.0 L431.5,656.0 L427.9,656.0 L424.3,656.0 L420.7,656.0 L417.1,656.0 L413.5,656.0 L409.9,656.0 L406.3,656.0 L402.7,656.0 L399.1,656.0 L395.5,656.0 L391.9,656.0 L388.3,656.0 L384.7,656.0 L381.1,656.0 L377.5,656.0 L373.9,656.0 L370.3,656.0 L366.7,656.0 L363.1,656.0 L359.5,656.0 L355.9,656.0 L352.3,656.0 L348.7,656.0 L345.1,656.0 L341.5,656.0 L337.9,656.0 L334.3,656.0 L330.7,656.0 L327.1,656.0 L323.5,656.0 L319.9,656.0 L316.3,656.0 L312.7,656.0 L309.1,656.0 L305.5,656.0 L301.9,656.0 L298.3,656.0 L294.7,656.0 L291.1,656.0 L287.5,656.0 L283.9,656.0 L280.3,656.0 L276.7,656.0 L273.1,656.0 L269.5,656.0 L265.9,656.0 L262.3,656.0 L258.7,656.0 L255.1,656.0 L251.5,656.0 L247.9,656.0 L244.3,656.0 L240.7,656.0 L237.1,656.0 L233.5,656.0 L229.9,656.0 L226.3,656.0 L222.7,656.0 L219.1,656.0 L215.5,656.0 L211.9,656.0 L208.3,656.0 L204.7,656.0 L201.1,656.0 L197.5,656.0 L193.9,656.0 L190.3,656.0 L186.7,656.0 L183.1,656.0 L179.5,656.0 L175.9,656.0 L172.3,656.0 L168.7,656.0 L165.1,656.0 L161.5,656.0 L157.9,656.0 L154.3,656.0 L150.7,656.0 L147.1,656.0 L143.5,656.0 L139.9,656.0 L136.3,656.0 L132.7,656.0 L129.1,656.0 L125.5,656.0 L121.9,656.0 L118.3,656.0Z" fill="#6e61e1" fill-opacity="0.6" stroke="none"/>
<path d="M118.3,612.7 L121.9,607.7 L125.5,519.3 L129.1,589.3 L132.7,597.7 L136.3,627.7 L139.9,572.7 L143.5,521.0 L147.1,519.3 L150.7,536.0 L154.3,574.3 L157.9,592.7 L161.5,621.0 L165.1,616.0 L168.7,589.3 L172.3,588.7 L175.9,588.7 L179.5,554.3 L183.1,579.3 L186.7,616.0 L190.3,606.0 L193.9,569.3 L197.5,562.7 L201.1,586.0 L204.7,606.0 L208.3,607.7 L211.9,624.3 L215.5,619.3 L219.1,584.3 L222.7,587.7 L226.3,547.7 L229.9,506.0 L233.5,559.3 L237.1,629.0 L240.7,628.0 L244.3,574.0 L247.9,579.0 L251.5,599.0 L255.1,609.0 L258.7,616.0 L262.3,631.0 L265.9,603.0 L269.5,591.0 L273.1,604.0 L276.7,576.0 L280.3,574.0 L283.9,569.0 L287.5,622.0 L291.1,627.0 L294.7,605.0 L298.3,616.0 L301.9,629.0 L305.5,622.0 L309.1,614.0 L312.7,636.0 L316.3,633.0 L319.9,607.0 L323.5,621.0 L327.1,633.0 L330.7,613.0 L334.3,626.0 L337.9,637.0 L341.5,638.0 L345.1,609.0 L348.7,592.7 L352.3,592.0 L355.9,599.3 L359.5,621.0 L363.1,639.3 L366.7,636.0 L370.3,582.7 L373.9,602.7 L377.5,601.0 L381.1,596.0 L384.7,581.0 L388.3,602.7 L391.9,542.7 L395.5,509.3 L399.1,546.0 L402.7,572.7 L406.3,559.3 L409.9,596.0 L413.5,634.3 L417.1,636.0 L420.7,552.7 L424.3,599.3 L427.9,602.7 L431.5,612.7 L435.1,606.0 L438.7,629.3 L442.4,582.7 L446.0,542.7 L449.6,576.0 L453.2,606.0 L456.8,611.0 L460.4,601.0 L464.0,634.3 L467.6,629.3 L471.2,614.3 L474.8,614.3 L478.4,601.0 L482.0,616.0 L485.6,616.0 L489.2,637.7 L492.8,639.3 L496.4,627.7 L500.0,616.0 L503.6,624.3 L507.2,611.0 L510.8,592.7 L514.4,631.0 L518.0,632.7 L521.6,592.7 L525.2,552.7 L528.8,569.3 L532.4,591.0 L536.0,556.0 L539.6,619.3 L543.2,579.3 L546.8,564.3 L550.4,572.7 L554.0,591.0 L557.6,587.7 L561.2,576.0 L564.8,606.0 L568.4,636.0 L572.0,609.3 L575.6,589.3 L579.2,609.3 L582.8,616.0 L586.4,619.3 L590.0,636.0 L593.6,634.3 L597.2,629.3 L600.8,624.3 L604.4,616.0 L608.0,622.7 L611.6,632.7 L615.2,645.3 L618.8,641.0 L622.4,611.0 L626.0,616.0 L629.6,621.0 L633.2,621.0 L636.8,614.3 L640.4,634.3 L644.0,637.7 L647.6,614.3 L651.2,614.3 L654.8,599.3 L658.4,619.3 L662.0,612.7 L665.6,631.0 L669.2,641.0 L672.8,572.7 L676.4,604.3 L680.0,579.3 L683.6,607.7 L687.2,619.3 L690.8,621.0 L694.4,627.7 L698.0,621.0 L701.6,624.3 L705.2,626.0 L708.8,652.7 L712.4,649.3 L716.0,646.0 L719.6,632.7 L723.2,616.0 L726.8,601.0 L730.4,612.7 L734.0,621.0 L737.6,646.0 L741.2,639.3 L744.8,637.7 L748.4,622.7 L752.0,653.0 L755.6,626.0 L759.2,629.3 L762.8,637.7 L766.4,642.7 L770.0,636.0 L773.6,629.3 L777.2,631.0 L780.8,649.3 L784.4,651.0 L788.0,617.7 L791.6,632.7 L795.2,629.3 L798.8,611.0 L802.4,619.3 L806.0,626.0 L809.6,624.3 L813.2,626.0 L816.8,636.0 L820.4,621.0 L824.0,609.3 L827.6,614.3 L831.2,587.7 L834.8,602.7 L838.4,602.7 L842.0,626.0 L845.6,622.7 L849.2,624.3 L852.8,614.3 L856.4,619.3 L860.0,611.0 L863.6,616.0 L867.2,632.7 L870.8,636.0 L874.4,617.7 L878.0,622.7 L881.6,622.7 L885.2,604.3 L888.8,619.3 L892.5,634.3 L896.1,636.0 L899.7,609.3 L903.3,607.7 L906.9,614.3 L910.5,609.3 L914.1,646.0 L917.7,632.7 L921.3,632.7 L924.9,616.0 L928.5,607.7 L932.1,629.3 L935.7,652.7 L939.3,616.0 L942.9,629.3 L946.5,597.7 L950.1,594.3 L953.7,612.7 L957.3,626.0 L960.9,626.0 L964.5,629.3 L968.1,646.0 L971.7,639.3 L975.3,629.3 L978.9,621.0 L982.5,614.3 L986.1,619.3 L989.7,632.7 L993.3,644.3 L996.9,637.7 L1000.5,622.7 L1004.1,626.0 L1007.7,616.0 L1011.3,602.7 L1014.9,601.0 L1018.5,629.3 L1022.1,631.0 L1025.7,586.0 L1029.3,582.7 L1032.9,609.3 L1036.5,609.3 L1040.1,607.7 L1043.7,629.3 L1047.3,636.0 L1050.9,616.0 L1054.5,597.7 L1058.1,609.3 L1061.7,619.3 L1065.3,574.3 L1068.9,636.0 L1072.5,634.3 L1076.1,622.7 L1079.7,619.3 L1083.3,616.0 L1086.9,642.7 L1090.5,594.3 L1094.1,629.3 L1097.7,636.0 L1101.3,629.3 L1104.9,622.7 L1108.5,626.0 L1112.1,652.7 L1115.7,626.0 L1119.3,632.7 L1122.9,616.0 L1126.5,592.7 L1130.1,611.0 L1133.7,597.7 L1137.3,649.3 L1140.9,616.0 L1144.5,632.7 L1148.1,636.0 L1151.7,609.3 L1155.3,616.0 L1158.9,619.3 L1162.5,611.0 L1166.1,617.7 L1169.7,629.3 L1173.3,612.7 L1176.9,601.0 L1180.5,612.7" fill="none" stroke="#4b3ce0" stroke-width="2.0" stroke-linejoin="round"/>
<rect x="101" y="121" width="2" height="535" fill="#222"/>
<rect x="1187" y="121.5" width="1.7" height="534.5" fill="#d2d0dc"/>
<rect x="215.0" y="656" width="1" height="7" fill="#dcdce4"/>
<rect x="327.0" y="656" width="1" height="7" fill="#dcdce4"/>
<rect x="438.25" y="656" width="1" height="7" fill="#dcdce4"/>
<rect x="539.0" y="656" width="1" height="7" fill="#dcdce4"/>
<rect x="651.0" y="656" width="1" height="7" fill="#dcdce4"/>
<rect x="758.75" y="656" width="1" height="7" fill="#dcdce4"/>
<rect x="871.0" y="656" width="1" height="7" fill="#dcdce4"/>
<rect x="979.0" y="656" width="1" height="7" fill="#dcdce4"/>
<rect x="1090.0" y="656" width="1" height="7" fill="#dcdce4"/>
<text x="187.06" y="680.0" font-size="14.5" fill="#6e6c7c" stroke="#6e6c7c" stroke-width="0.15" textLength="58.46" lengthAdjust="spacingAndGlyphs">2024 Dec</text>
<text x="299.82" y="680.0" font-size="14.5" fill="#6e6c7c" stroke="#6e6c7c" stroke-width="0.15" textLength="55.30" lengthAdjust="spacingAndGlyphs">2025 Jan</text>
<text x="411.08" y="680.0" font-size="14.5" fill="#6e6c7c" stroke="#6e6c7c" stroke-width="0.15" textLength="56.17" lengthAdjust="spacingAndGlyphs">2025 Feb</text>
<text x="511.57" y="680.0" font-size="14.5" fill="#6e6c7c" stroke="#6e6c7c" stroke-width="0.15" textLength="56.67" lengthAdjust="spacingAndGlyphs">2025 Mar</text>
<text x="624.05" y="680.0" font-size="14.5" fill="#6e6c7c" stroke="#6e6c7c" stroke-width="0.15" textLength="55.01" lengthAdjust="spacingAndGlyphs">2025 Apr</text>
<text x="730.33" y="680.0" font-size="14.5" fill="#6e6c7c" stroke="#6e6c7c" stroke-width="0.15" textLength="58.38" lengthAdjust="spacingAndGlyphs">2025 May</text>
<text x="843.56" y="680.0" font-size="14.5" fill="#6e6c7c" stroke="#6e6c7c" stroke-width="0.15" textLength="56.07" lengthAdjust="spacingAndGlyphs">2025 Jun</text>
<text x="953.55" y="680.0" font-size="14.5" fill="#6e6c7c" stroke="#6e6c7c" stroke-width="0.15" textLength="52.24" lengthAdjust="spacingAndGlyphs">2025 Jul</text>
<text x="1062.35" y="680.0" font-size="14.5" fill="#6e6c7c" stroke="#6e6c7c" stroke-width="0.15" textLength="58.18" lengthAdjust="spacingAndGlyphs">2025 Aug</text>
<text x="53.86" y="175.6" font-size="16.7" fill="#111111" stroke="#111111" stroke-width="0.3" textLength="36.67" lengthAdjust="spacingAndGlyphs">120K</text>
<text x="53.55" y="296.9" font-size="16.7" fill="#111111" stroke="#111111" stroke-width="0.3" textLength="36.88" lengthAdjust="spacingAndGlyphs">105K</text>
<text x="60.03" y="418.6" font-size="16.7" fill="#111111" stroke="#111111" stroke-width="0.3" textLength="30.18" lengthAdjust="spacingAndGlyphs">90K</text>
<text x="61.43" y="539.8" font-size="16.7" fill="#111111" stroke="#111111" stroke-width="0.3" textLength="28.75" lengthAdjust="spacingAndGlyphs">75K</text>
<text x="59.98" y="661.25" font-size="16.7" fill="#111111" stroke="#111111" stroke-width="0.3" textLength="30.23" lengthAdjust="spacingAndGlyphs">60K</text>
<text x="1199.28" y="172.0" font-size="16.7" fill="#111111" stroke="#111111" stroke-width="0.3" textLength="30.23" lengthAdjust="spacingAndGlyphs">60B</text>
<text x="1200.30" y="294.4" font-size="16.7" fill="#111111" stroke="#111111" stroke-width="0.3" textLength="29.09" lengthAdjust="spacingAndGlyphs">45B</text>
<text x="1199.29" y="416.9" font-size="16.7" fill="#111111" stroke="#111111" stroke-width="0.3" textLength="30.13" lengthAdjust="spacingAndGlyphs">30B</text>
<text x="1199.29" y="539.3" font-size="16.7" fill="#111111" stroke="#111111" stroke-width="0.3" textLength="30.13" lengthAdjust="spacingAndGlyphs">15B</text>
<text x="1199.10" y="661.8" font-size="16.7" fill="#111111" stroke="#111111" stroke-width="0.3" textLength="11.14" lengthAdjust="spacingAndGlyphs">0</text>
<text x="596.11" y="698.75" font-size="14.5" fill="#6e6c7c" stroke="#6e6c7c" stroke-width="0.15" textLength="97.10" lengthAdjust="spacingAndGlyphs">*US-based ETFs</text>
<text x="1087.80" y="701.5" font-size="11.5" fill="#77757f" textLength="161.00" lengthAdjust="spacingAndGlyphs">© CryptoQuant. All rights reserved</text>
<text x="318.29" y="45.8" font-size="26.0" font-weight="bold" fill="#111111" textLength="641.39" lengthAdjust="spacingAndGlyphs">Bitcoin: Crypto CEX and ETF* Spot Trading Volume ($)</text>
<text transform="translate(43.3,388.3) rotate(-90)" font-size="16.7" fill="#111" stroke="#111" stroke-width="0.3" text-anchor="middle" textLength="57.8" lengthAdjust="spacingAndGlyphs">Price ($)</text>
<text transform="translate(1236.7,387.2) rotate(90)" font-size="16.7" fill="#111" stroke="#111" stroke-width="0.3" text-anchor="middle" textLength="130" lengthAdjust="spacingAndGlyphs">Trading Volume ($)</text>
<circle cx="92.4" cy="70.6" r="7.9" fill="#e0669e"/>
<circle cx="357.5" cy="70.6" r="7.9" fill="#b955e0"/>
<circle cx="447.5" cy="70.6" r="7.9" fill="#6cc062"/>
<circle cx="532.5" cy="70.6" r="7.9" fill="#e46464"/>
<circle cx="615.5" cy="70.6" r="7.9" fill="#6cc6e4"/>
<circle cx="723.1" cy="70.6" r="7.9" fill="#141414"/>
<circle cx="810.5" cy="70.6" r="7.9" fill="#f29451"/>
<circle cx="888" cy="70.6" r="7.9" fill="#f0cc55"/>
<circle cx="1011.3" cy="70.6" r="7.9" fill="#8a8898"/>
<circle cx="92.4" cy="91.5" r="7.9" fill="#4a38e8"/>
<rect x="271" y="73" width="19" height="1.7" fill="#222"/>
<text x="105.67" y="78.0" font-size="16.7" fill="#1a1a1a" stroke="#1a1a1a" stroke-width="0.35" textLength="147.26" lengthAdjust="spacingAndGlyphs">US-based Spot ETFs</text>
<text x="293.96" y="78.0" font-size="16.7" fill="#1a1a1a" stroke="#1a1a1a" stroke-width="0.35" textLength="35.81" lengthAdjust="spacingAndGlyphs">Price</text>
<text x="370.56" y="78.0" font-size="16.7" fill="#1a1a1a" stroke="#1a1a1a" stroke-width="0.35" textLength="49.45" lengthAdjust="spacingAndGlyphs">Kraken</text>
<text x="460.98" y="78.0" font-size="16.7" fill="#1a1a1a" stroke="#1a1a1a" stroke-width="0.35" textLength="44.24" lengthAdjust="spacingAndGlyphs">MEXC</text>
<text x="545.81" y="78.0" font-size="16.7" fill="#1a1a1a" stroke="#1a1a1a" stroke-width="0.35" textLength="42.27" lengthAdjust="spacingAndGlyphs">Bitget</text>
<text x="629.16" y="78.0" font-size="16.7" fill="#1a1a1a" stroke="#1a1a1a" stroke-width="0.35" textLength="66.22" lengthAdjust="spacingAndGlyphs">Coinbase</text>
<text x="736.76" y="78.0" font-size="16.7" fill="#1a1a1a" stroke="#1a1a1a" stroke-width="0.35" textLength="46.14" lengthAdjust="spacingAndGlyphs">Bullish</text>
<text x="823.52" y="78.0" font-size="16.7" fill="#1a1a1a" stroke="#1a1a1a" stroke-width="0.35" textLength="36.39" lengthAdjust="spacingAndGlyphs">Bybit</text>
<text x="901.03" y="78.0" font-size="16.7" fill="#1a1a1a" stroke="#1a1a1a" stroke-width="0.35" textLength="82.95" lengthAdjust="spacingAndGlyphs">Crypto.com</text>
<text x="1024.86" y="78.0" font-size="16.7" fill="#1a1a1a" stroke="#1a1a1a" stroke-width="0.35" textLength="171.73" lengthAdjust="spacingAndGlyphs">Other Crypto Exchanges</text>
<text x="105.65" y="98.75" font-size="16.7" fill="#1a1a1a" stroke="#1a1a1a" stroke-width="0.35" textLength="57.30" lengthAdjust="spacingAndGlyphs">Binance</text>
</svg>
</body></html>
